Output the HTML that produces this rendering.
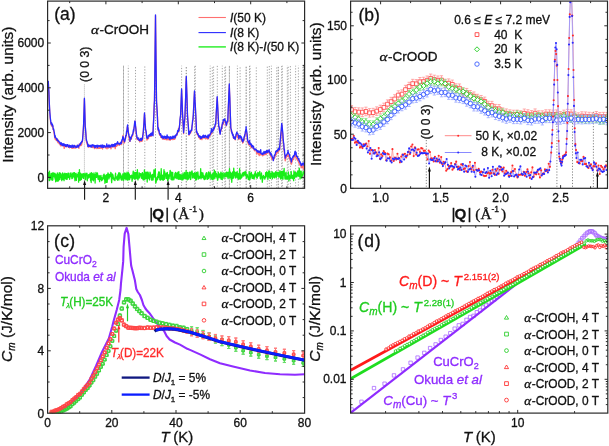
<!DOCTYPE html>
<html><head><meta charset="utf-8"><style>
html,body{margin:0;padding:0;background:#fff;width:609px;height:446px;overflow:hidden}
svg{will-change:transform;display:block;font-family:"Liberation Sans",sans-serif}
text{stroke-width:0.3px}
</style></head><body>
<svg width="609" height="446" viewBox="0 0 609 446">
<rect width="609" height="446" fill="#fff"/>
<clipPath id="ca"><rect x="47.6" y="1.1" width="257.0" height="187.20000000000002"/></clipPath>
<line x1="123.5" y1="65.7" x2="123.5" y2="188.3" stroke="#999" stroke-width="0.9" stroke-dasharray="1.2 1.65" stroke-dashoffset="0.00"/>
<line x1="128.3" y1="65.7" x2="128.3" y2="188.3" stroke="#999" stroke-width="0.9" stroke-dasharray="1.2 1.65" stroke-dashoffset="0.70"/>
<line x1="135.5" y1="65.7" x2="135.5" y2="188.3" stroke="#999" stroke-width="0.9" stroke-dasharray="1.2 1.65" stroke-dashoffset="1.40"/>
<line x1="144.8" y1="65.7" x2="144.8" y2="188.3" stroke="#999" stroke-width="0.9" stroke-dasharray="1.2 1.65" stroke-dashoffset="2.10"/>
<line x1="155.5" y1="65.7" x2="155.5" y2="188.3" stroke="#999" stroke-width="0.9" stroke-dasharray="1.2 1.65" stroke-dashoffset="2.80"/>
<line x1="181.6" y1="65.7" x2="181.6" y2="188.3" stroke="#999" stroke-width="0.9" stroke-dasharray="1.2 1.65" stroke-dashoffset="0.65"/>
<line x1="186.3" y1="65.7" x2="186.3" y2="188.3" stroke="#999" stroke-width="0.9" stroke-dasharray="1.2 1.65" stroke-dashoffset="1.35"/>
<line x1="194.6" y1="65.7" x2="194.6" y2="188.3" stroke="#999" stroke-width="0.9" stroke-dasharray="1.2 1.65" stroke-dashoffset="2.05"/>
<line x1="195.3" y1="65.7" x2="195.3" y2="188.3" stroke="#999" stroke-width="0.9" stroke-dasharray="1.2 1.65" stroke-dashoffset="2.75"/>
<line x1="210.2" y1="65.7" x2="210.2" y2="188.3" stroke="#999" stroke-width="0.9" stroke-dasharray="1.2 1.65" stroke-dashoffset="0.60"/>
<line x1="212.3" y1="65.7" x2="212.3" y2="188.3" stroke="#999" stroke-width="0.9" stroke-dasharray="1.2 1.65" stroke-dashoffset="1.30"/>
<line x1="213.6" y1="65.7" x2="213.6" y2="188.3" stroke="#999" stroke-width="0.9" stroke-dasharray="1.2 1.65" stroke-dashoffset="2.00"/>
<line x1="217.3" y1="65.7" x2="217.3" y2="188.3" stroke="#999" stroke-width="0.9" stroke-dasharray="1.2 1.65" stroke-dashoffset="2.70"/>
<line x1="222.3" y1="65.7" x2="222.3" y2="188.3" stroke="#999" stroke-width="0.9" stroke-dasharray="1.2 1.65" stroke-dashoffset="0.55"/>
<line x1="224.8" y1="65.7" x2="224.8" y2="188.3" stroke="#999" stroke-width="0.9" stroke-dasharray="1.2 1.65" stroke-dashoffset="1.25"/>
<line x1="225.6" y1="65.7" x2="225.6" y2="188.3" stroke="#999" stroke-width="0.9" stroke-dasharray="1.2 1.65" stroke-dashoffset="1.95"/>
<line x1="229.4" y1="65.7" x2="229.4" y2="188.3" stroke="#999" stroke-width="0.9" stroke-dasharray="1.2 1.65" stroke-dashoffset="2.65"/>
<line x1="237.4" y1="65.7" x2="237.4" y2="188.3" stroke="#999" stroke-width="0.9" stroke-dasharray="1.2 1.65" stroke-dashoffset="0.50"/>
<line x1="240.1" y1="65.7" x2="240.1" y2="188.3" stroke="#999" stroke-width="0.9" stroke-dasharray="1.2 1.65" stroke-dashoffset="1.20"/>
<line x1="246.2" y1="65.7" x2="246.2" y2="188.3" stroke="#999" stroke-width="0.9" stroke-dasharray="1.2 1.65" stroke-dashoffset="1.90"/>
<line x1="249.5" y1="65.7" x2="249.5" y2="188.3" stroke="#999" stroke-width="0.9" stroke-dasharray="1.2 1.65" stroke-dashoffset="2.60"/>
<line x1="250.1" y1="65.7" x2="250.1" y2="188.3" stroke="#999" stroke-width="0.9" stroke-dasharray="1.2 1.65" stroke-dashoffset="0.45"/>
<line x1="256.3" y1="65.7" x2="256.3" y2="188.3" stroke="#999" stroke-width="0.9" stroke-dasharray="1.2 1.65" stroke-dashoffset="1.15"/>
<line x1="267.3" y1="65.7" x2="267.3" y2="188.3" stroke="#999" stroke-width="0.9" stroke-dasharray="1.2 1.65" stroke-dashoffset="1.85"/>
<line x1="269.3" y1="65.7" x2="269.3" y2="188.3" stroke="#999" stroke-width="0.9" stroke-dasharray="1.2 1.65" stroke-dashoffset="2.55"/>
<line x1="271.4" y1="65.7" x2="271.4" y2="188.3" stroke="#999" stroke-width="0.9" stroke-dasharray="1.2 1.65" stroke-dashoffset="0.40"/>
<line x1="276.7" y1="65.7" x2="276.7" y2="188.3" stroke="#999" stroke-width="0.9" stroke-dasharray="1.2 1.65" stroke-dashoffset="1.10"/>
<line x1="278.3" y1="65.7" x2="278.3" y2="188.3" stroke="#999" stroke-width="0.9" stroke-dasharray="1.2 1.65" stroke-dashoffset="1.80"/>
<line x1="281.7" y1="65.7" x2="281.7" y2="188.3" stroke="#999" stroke-width="0.9" stroke-dasharray="1.2 1.65" stroke-dashoffset="2.50"/>
<line x1="282.3" y1="65.7" x2="282.3" y2="188.3" stroke="#999" stroke-width="0.9" stroke-dasharray="1.2 1.65" stroke-dashoffset="0.35"/>
<line x1="287.3" y1="65.7" x2="287.3" y2="188.3" stroke="#999" stroke-width="0.9" stroke-dasharray="1.2 1.65" stroke-dashoffset="1.05"/>
<line x1="288.2" y1="65.7" x2="288.2" y2="188.3" stroke="#999" stroke-width="0.9" stroke-dasharray="1.2 1.65" stroke-dashoffset="1.75"/>
<line x1="290.4" y1="65.7" x2="290.4" y2="188.3" stroke="#999" stroke-width="0.9" stroke-dasharray="1.2 1.65" stroke-dashoffset="2.45"/>
<line x1="295.6" y1="65.7" x2="295.6" y2="188.3" stroke="#999" stroke-width="0.9" stroke-dasharray="1.2 1.65" stroke-dashoffset="0.30"/>
<line x1="298.4" y1="65.7" x2="298.4" y2="188.3" stroke="#999" stroke-width="0.9" stroke-dasharray="1.2 1.65" stroke-dashoffset="1.00"/>
<line x1="303" y1="65.7" x2="303" y2="188.3" stroke="#999" stroke-width="0.9" stroke-dasharray="1.2 1.65" stroke-dashoffset="1.70"/>
<line x1="303.6" y1="65.7" x2="303.6" y2="188.3" stroke="#999" stroke-width="0.9" stroke-dasharray="1.2 1.65" stroke-dashoffset="2.40"/>
<line x1="123.5" y1="65.7" x2="123.5" y2="188.3" stroke="#999" stroke-width="0.9" stroke-dasharray="1.2 1.65" stroke-dashoffset="1.4"/>
<line x1="186.3" y1="65.7" x2="186.3" y2="188.3" stroke="#999" stroke-width="0.9" stroke-dasharray="1.2 1.65" stroke-dashoffset="1.4"/>
<line x1="229.4" y1="65.7" x2="229.4" y2="188.3" stroke="#999" stroke-width="0.9" stroke-dasharray="1.2 1.65" stroke-dashoffset="1.4"/>
<line x1="246.2" y1="65.7" x2="246.2" y2="188.3" stroke="#999" stroke-width="0.9" stroke-dasharray="1.2 1.65" stroke-dashoffset="1.4"/>
<line x1="278.3" y1="65.7" x2="278.3" y2="188.3" stroke="#999" stroke-width="0.9" stroke-dasharray="1.2 1.65" stroke-dashoffset="1.4"/>
<line x1="303.3" y1="65.7" x2="303.3" y2="188.3" stroke="#999" stroke-width="0.9" stroke-dasharray="1.2 1.65" stroke-dashoffset="1.4"/>
<line x1="84.4" y1="84.4" x2="84.4" y2="188.3" stroke="#9a9a9a" stroke-width="0.8" stroke-dasharray="1 1"/>
<g clip-path="url(#ca)">
<polyline points="47.6,82.4 47.7,81.69 48,81.95 48.3,82.2 48.6,88.4 48.9,92.68 49,95.9 49.2,99.52 49.5,107.81 49.8,112.9 49.8,112.9 50.1,117.07 50.4,119.86 50.7,123.15 50.7,122.86 51,124.03 51.3,125.05 51.5,125.95 51.6,125.57 51.9,125.86 52.2,125.33 52.5,125.76 52.5,126.89 52.8,126.15 53.1,129.51 53.4,129.83 53.5,129.92 53.7,130.58 54,132.79 54.3,134.64 54.6,136.69 54.9,137.81 55,138.84 55.2,139.2 55.5,139.08 55.8,139.76 56.1,138.72 56.4,140.57 56.7,138.96 57,140.17 57,139.86 57.3,140.32 57.6,141.42 57.9,142.7 58.2,140.22 58.5,140.49 58.8,142.26 59.1,143.69 59.4,143.18 59.7,143.06 60,144.08 60,144.1 60.3,144.98 60.6,145.85 60.9,144.13 61.2,145.39 61.5,144.78 61.8,144.54 62.1,145.91 62.4,144.78 62.7,145.6 63,145.83 63.3,145.21 63.6,145.98 63.9,145.78 64.2,148.4 64.5,145.91 64.8,145.66 65,145.71 65.1,146.47 65.4,145.95 65.7,145.1 66,146.99 66.3,145.71 66.6,145.81 66.9,146.37 67.2,145.56 67.5,146.22 67.8,146.54 68.1,145.9 68.4,147.2 68.7,146.74 69,145.93 69.3,146.17 69.6,147.91 69.9,146.51 70,147.47 70.2,146.7 70.5,146.56 70.8,146.51 71.1,146.88 71.4,146.86 71.7,147.88 72,148.36 72.3,145.88 72.6,147.76 72.9,148.3 73.2,148.11 73.5,148.03 73.8,146.11 74.1,145.89 74.4,147.13 74.7,148.1 75,145.93 75.3,146.11 75.6,147.49 75.9,148.17 76.2,146.13 76.5,147.21 76.8,145.96 77.1,146.12 77.4,146.11 77.7,146.51 78,146.13 78,147.07 78.3,146.64 78.6,146.04 78.9,148.47 79.2,143.93 79.5,144.91 79.8,144.66 80.1,145.71 80.4,144.58 80.5,145.1 80.7,144.44 81,145.54 81.3,144.59 81.6,144.82 81.9,142.98 82.2,142.36 82.5,140.72 82.5,140.89 82.8,136.6 83.1,132.62 83.4,128.72 83.6,124.79 83.7,122.36 84,113.63 84.3,103.48 84.4,99.1 84.6,105.18 84.9,114.87 85.2,126.32 85.2,126.66 85.5,130.6 85.8,133.05 86.1,136.89 86.3,139.94 86.4,141.61 86.7,142.91 87,142.07 87.3,144.72 87.6,144.93 87.9,144.4 88,145.93 88.2,144.92 88.5,147.14 88.8,145.61 89.1,146.99 89.4,145.37 89.7,146.57 90,146.05 90.3,146.12 90.6,146.24 90.9,146.52 91.2,146.36 91.5,145.77 91.8,147.38 92.1,146.82 92.4,147.21 92.7,146 93,147.62 93.3,147.08 93.6,147.67 93.9,146.56 94.2,147.45 94.5,146.6 94.8,148.54 95,147.93 95.1,148.32 95.4,146.78 95.7,146.14 96,147.06 96.3,146.99 96.6,148.06 96.9,148.61 97.2,147.58 97.5,148.19 97.8,147.46 98.1,147.87 98.4,147.03 98.7,148.47 99,146.56 99.3,147.82 99.6,148.44 99.9,146.57 100.2,146.6 100.5,147.75 100.8,148.25 101.1,148.15 101.4,146.99 101.7,146.1 102,148.03 102.3,146.78 102.6,149 102.9,146.82 103.2,147.5 103.5,147.09 103.8,146.64 104.1,145.99 104.4,146.93 104.7,146.43 105,147.59 105.3,146.71 105.6,147.47 105.9,148.19 106.2,146.01 106.5,146.6 106.8,147.07 107.1,148.83 107.4,147.16 107.7,147.36 108,146.13 108.3,147.36 108.6,148.07 108.9,146.5 109.2,147.18 109.5,147.3 109.8,146.42 110,145.78 110.1,147.54 110.4,147.44 110.7,146.15 111,148.97 111.3,147.34 111.6,146.15 111.9,146.63 112.2,146.08 112.5,145.39 112.8,145.3 113.1,147.01 113.4,145.4 113.7,145.94 114,146.92 114.3,146.28 114.6,145.72 114.9,145.99 115,145.13 115.2,148.63 115.5,146.88 115.8,145.74 116.1,145.84 116.4,145.87 116.7,146.21 117,145.43 117.3,143.76 117.6,145.36 117.9,144.89 118.2,143.92 118.5,143.4 118.8,144.88 119.1,144.56 119.4,145.29 119.7,144.92 120,142.89 120.3,143.25 120.6,143.93 120.9,143.26 121.2,144.12 121.5,144.43 121.5,144.61 121.8,143.1 122.1,142.26 122.4,141.38 122.7,140.09 123,135.37 123,138.94 123.3,139.03 123.6,140.71 123.9,142.38 124.2,140.94 124.5,142.94 124.5,141.55 124.8,140.98 125.1,137.87 125.4,138.56 125.7,137.99 126,135.66 126.3,135.91 126.3,134.96 126.6,133.65 126.9,132.59 127.2,127.84 127.5,126.3 127.6,127.86 127.8,127.64 128.1,129.79 128.4,131.87 128.7,135.39 128.8,135.36 129,137.88 129.3,139.18 129.6,141.15 129.9,140.08 130,141.37 130.2,138.92 130.5,138.65 130.8,139.25 131.1,138.73 131.4,139.14 131.7,137.08 132,136.51 132,136.59 132.3,136.24 132.6,136.06 132.9,133.67 133.2,133.02 133.5,132.62 133.5,132.78 133.8,129.54 134.1,127.41 134.4,126.5 134.7,123.52 135,121.2 135,121.62 135.3,125.5 135.6,126.57 135.9,128.83 136.2,133.57 136.2,131.85 136.5,136.04 136.8,138.38 137,138.77 137.1,139.57 137.4,138.83 137.7,139.1 138,138.54 138.3,138.75 138.6,140.35 138.9,138.99 139.2,140.74 139.5,139.3 139.8,141.98 140,141.06 140.1,141.59 140.4,141.49 140.7,139.81 141,139.41 141.3,138.13 141.6,141.28 141.9,140.05 142.2,140.88 142.5,140.27 142.5,140.87 142.8,137.17 143.1,132.89 143.4,131.15 143.6,128.14 143.7,127.14 144,121.13 144.3,117.19 144.5,113.9 144.6,115.7 144.9,120.37 145.2,125.84 145.4,128.51 145.5,129.1 145.8,130.32 146.1,132.4 146.4,135.74 146.7,138.29 147,140.02 147,138.69 147.3,139.65 147.6,138.26 147.9,137.76 148.2,138.79 148.5,138.53 148.8,136.05 149.1,136.27 149.4,135.53 149.7,136.02 150,136.53 150,135.35 150.3,135.18 150.6,134.4 150.9,135.98 151.2,136.34 151.5,135.88 151.8,133.82 152.1,134.4 152.4,134.41 152.7,135.02 153,133.8 153,134.7 153.3,126.63 153.6,119.43 153.9,114.18 154.2,104.45 154.5,100.9 154.5,100.9 154.8,76.1 155.1,50.99 155.4,24.36 155.5,15.7 155.7,32.06 156,59.35 156.3,84.13 156.5,100.9 156.6,102.64 156.9,108.81 157.2,114.55 157.5,116.25 157.8,125.97 158,127.95 158.1,129.99 158.4,131.09 158.7,130.66 159,130.98 159.3,134.27 159.5,133.82 159.6,135.17 159.9,134.81 160.2,135.07 160.5,134.68 160.8,137.26 161.1,136.22 161.4,136.82 161.7,137.3 162,137 162,137.96 162.3,138.85 162.6,139.1 162.9,136.79 163.2,138.18 163.5,137.52 163.8,139.2 164.1,138.6 164.4,138.24 164.7,139.43 165,137.48 165.3,137.48 165.6,139.2 165.9,137.79 166.2,139.58 166.5,138.18 166.8,137.54 167.1,139.79 167.4,137.87 167.7,137.52 168,139.28 168.3,139.03 168.6,137.44 168.9,139.96 169.2,138.2 169.5,138.23 169.8,137.7 170,140.09 170.1,139.93 170.4,140.1 170.7,139.14 171,137.54 171.3,137.8 171.6,139.42 171.9,137.35 172.2,138.55 172.5,137.38 172.8,139.61 173.1,137.32 173.4,137.25 173.7,139.24 174,137.3 174.3,139.33 174.6,137.32 174.9,139.09 175,138.43 175.2,136.26 175.5,137.55 175.8,136.48 176.1,135.8 176.4,135.19 176.7,133.72 177,135.03 177,133.07 177.3,134.26 177.6,132.24 177.9,131.16 178.2,131.56 178.5,128.32 178.8,132.03 179,130.47 179.1,128.43 179.4,126.62 179.7,124.32 180,121.35 180.3,118.15 180.6,115.9 180.6,115.9 180.9,108.36 181.2,101.43 181.5,93.37 181.6,89.9 181.8,96.34 182.1,101.92 182.4,111.3 182.6,115.9 182.7,117.96 183,123.83 183.3,127.6 183.6,133.67 183.6,132.77 183.9,129.41 184.2,125.31 184.5,124.08 184.8,119.55 185,115.9 185.1,112.19 185.4,105.02 185.7,96.07 186,85.85 186.3,77.3 186.3,77.3 186.6,86.96 186.9,96.27 187.2,107.23 187.5,115.9 187.5,115.9 187.8,119.25 188.1,124.1 188.4,127.77 188.7,132.51 188.8,133.18 189,135.25 189.3,134.41 189.6,134.31 189.9,132.92 190.2,131.72 190.5,132.03 190.8,133 191.1,130.82 191.4,131.52 191.7,129.67 191.7,129.62 192,127.27 192.3,124.99 192.6,122.29 192.9,120.07 193.2,115.79 193.3,115.9 193.5,112.36 193.8,105.67 194.1,101.05 194.4,92.44 194.5,91.7 194.7,95.22 195,101.86 195.3,106.38 195.6,113.18 195.8,115.9 195.9,117.9 196.2,123.72 196.5,130.82 196.5,131.82 196.8,132.64 197.1,134.43 197.4,133.89 197.7,133.94 198,134.15 198,135.41 198.3,136.23 198.6,136.89 198.9,137.65 199.2,137.17 199.5,138.18 199.8,136.66 200.1,139.24 200.4,139.45 200.5,139.36 200.7,137.96 201,138.96 201.3,137.67 201.6,137.51 201.9,139.58 202.2,137.21 202.5,136.99 202.8,137.67 203.1,138.39 203.4,136.76 203.7,137.41 204,137 204,136.68 204.3,136.18 204.6,135.91 204.9,138.46 205.2,136.77 205.5,138.83 205.8,138.93 206.1,136.88 206.4,137.37 206.7,138.08 207,138 207.3,137.95 207.6,139.02 207.9,138.13 208.1,139.04 208.2,136.97 208.5,137.66 208.8,138.03 209.1,136.61 209.4,136.86 209.7,136.44 210,134.63 210.3,133.93 210.6,134.82 210.9,132.98 211.1,134.18 211.2,133.07 211.5,133.63 211.8,131.82 212.1,132.04 212.4,130.5 212.7,129.98 213,129.57 213.3,130.31 213.6,129.18 213.9,129.85 214.1,128.48 214.2,127.77 214.5,126.91 214.8,127.34 215.1,126.64 215.4,125.39 215.7,123.37 215.7,123.59 216,119.66 216.3,112.32 216.6,107.67 216.9,103.65 217.2,97.5 217.2,97.5 217.5,102.03 217.8,110.23 218.1,115.7 218.4,120.19 218.7,126.29 218.7,125.92 219,127.12 219.3,130.2 219.6,130.2 219.9,132.57 220,134 220.2,133.42 220.5,130.74 220.8,131.37 221.1,130.48 221.4,129.1 221.7,128.37 221.7,127.16 222,127.88 222.3,124.38 222.6,125.18 222.9,123.11 223.2,122.29 223.2,124.34 223.5,123 223.8,120.75 224.1,119.76 224.4,120.11 224.7,120 224.7,120 225,121.08 225.3,121.99 225.6,123.54 225.9,124.48 226.2,125.88 226.2,125.62 226.5,125.26 226.8,121.94 227.1,122.51 227.4,122.3 227.7,122.58 227.8,122.04 228,116.4 228.3,109.71 228.6,101.57 228.9,93.89 229.2,88.35 229.3,84.8 229.5,90.76 229.8,99.62 230.1,108.49 230.4,116.18 230.7,126.93 230.8,128.23 231,128.46 231.3,131.68 231.6,130.52 231.9,132.16 232.2,133.12 232.5,133.65 232.8,134.51 233.1,135.37 233.3,136.4 233.4,137.94 233.7,138.3 234,138.24 234.3,138.65 234.6,138.27 234.9,138.8 235.2,139.54 235.3,139.94 235.5,137.99 235.8,136.73 236.1,136.33 236.4,135.41 236.7,132.51 236.8,133.1 237,134.33 237.3,134.7 237.6,137.8 237.9,135.16 238.2,135.93 238.5,136.9 238.8,138.48 238.8,139.57 239.1,138.72 239.4,137.22 239.7,136.98 240,137.96 240.3,136.38 240.4,137.3 240.6,137.77 240.9,137.59 241.2,139.36 241.5,140.66 241.8,141.21 242.1,141.36 242.4,140.47 242.7,143.06 242.9,142.67 243,141.62 243.3,142.43 243.6,139.66 243.9,140.65 244.2,138.52 244.4,139.58 244.5,136.65 244.8,135.75 245.1,135.77 245.4,131.77 245.7,130.5 246,130.62 246.1,129.96 246.3,129.92 246.6,132.82 246.9,134.72 247.2,136.73 247.5,140.66 247.8,142.64 247.9,141.92 248.1,141.92 248.4,144.24 248.7,143.7 249,145.05 249.3,143.74 249.6,143.88 249.9,144.53 250.2,144.37 250.4,145.38 250.5,146.14 250.8,145.39 251.1,147.95 251.4,145.78 251.7,145.93 252,147.35 252.3,147.1 252.6,147.8 252.9,147.97 253.2,148.38 253.5,147.87 253.5,148.67 253.8,149.03 254.1,148.93 254.4,150.74 254.7,149.76 255,149.96 255.3,149.48 255.6,149.55 255.9,149.97 256,150.28 256.2,151.21 256.5,152.31 256.8,154.17 257.1,152.4 257.4,151.95 257.7,151.37 258,152.79 258.3,153.89 258.6,154.26 258.6,152.8 258.9,152.6 259.2,155.61 259.5,153.92 259.8,153.25 260.1,154.74 260.4,154.9 260.7,153.05 261,154.52 261.3,153.79 261.6,153.67 261.9,154.6 262.2,155.29 262.3,155.47 262.5,155.74 262.8,154.01 263.1,155.63 263.4,154.2 263.7,154.89 264,153.84 264.3,154.88 264.6,152.95 264.9,154.55 265.2,153.59 265.4,153.59 265.5,152.7 265.8,153.91 266.1,154.72 266.4,153.36 266.7,153.65 267,153.28 267.3,153.18 267.6,152.32 267.9,152.5 268.2,151.83 268.5,152.7 268.8,151.99 269.1,151.72 269.1,150.75 269.4,153.59 269.7,154.31 270,154.11 270.3,155.09 270.6,155.18 270.9,156.49 271,156.78 271.2,155.96 271.5,157.51 271.8,159.14 272.1,157.76 272.4,157.77 272.7,158.42 273,159.23 273.3,160.16 273.4,160.45 273.6,160.2 273.9,157.74 274.2,158.17 274.5,157.99 274.8,157.77 275.1,155.9 275.4,155.86 275.7,154.51 275.9,152.83 276,154.65 276.3,154.64 276.6,151.33 276.9,151.6 277.2,152.2 277.5,150.91 277.8,152.79 277.8,150.8 278.1,151.04 278.4,149.99 278.7,151.3 279,150.16 279.3,150.36 279.6,149.92 279.6,150.12 279.9,146.37 280.2,142.98 280.5,141.12 280.8,137.38 281.1,134.11 281.4,130.83 281.7,126.14 281.8,124.93 282,126.41 282.3,129.79 282.6,134.59 282.9,138.28 283.2,141.75 283.3,142.36 283.5,144.58 283.8,146.3 284.1,150.8 284.4,152.64 284.7,155.8 285,158.55 285.2,160.77 285.3,158.98 285.6,160.02 285.9,157.75 286.2,156.76 286.5,157.13 286.8,155.19 287.1,155.56 287.4,156.31 287.7,154.59 288,153.33 288,154.45 288.3,155.79 288.6,156.91 288.9,156.99 289.2,156.77 289.5,158.58 289.8,159.21 290.1,159.8 290.4,161.53 290.7,162.14 291,161.9 291.3,163.58 291.3,164.16 291.6,164.04 291.9,161.62 292.2,161.56 292.5,160.41 292.8,159.63 293.1,159.05 293.4,158.27 293.7,159.31 294,156.36 294.3,157.03 294.6,156.47 294.9,154.42 295,155.3 295.2,155.31 295.5,154.91 295.8,156.25 296.1,158.31 296.4,156.81 296.7,157.26 297,159.4 297.3,158.68 297.6,160.56 297.9,160.59 298.2,160.26 298.5,161.71 298.7,162.57 298.8,161.62 299.1,163.37 299.4,163.88 299.7,164.42 300,165.41 300.3,164.28 300.6,164.95 300.9,166.02 301.2,167.81 301.2,166.56 301.5,167.03 301.8,166.72 302.1,167.23 302.4,165.95 302.7,167.77 303,165.66 303.3,167.6 303.6,168.98 303.7,165.87 303.9,167.63 304.2,167.46 304.6,169.32" fill="none" stroke="#ff7070" stroke-width="1.3" stroke-linejoin="round" />
<polyline points="47.6,81.5 47.7,81.79 48,82.15 48.3,81.3 48.6,87.8 48.9,91.82 49,95 49.2,100.4 49.5,106.67 49.8,112 49.8,112 50.1,115.22 50.4,118.71 50.7,120.63 50.7,121.33 51,123.38 51.3,124.25 51.5,124.31 51.6,122.8 51.9,123.64 52.2,125.95 52.5,124.45 52.5,125.1 52.8,125.43 53.1,127.9 53.4,129.62 53.5,128.64 53.7,129.15 54,131.15 54.3,131.98 54.6,134.45 54.9,137.29 55,136.52 55.2,135.64 55.5,137.25 55.8,138.13 56.1,138.05 56.4,138.63 56.7,139.45 57,138.51 57,140.33 57.3,139.93 57.6,139.65 57.9,140.93 58.2,140.75 58.5,141.33 58.8,141.14 59.1,141.94 59.4,142.12 59.7,142.04 60,143 60,143.83 60.3,143.11 60.6,144.29 60.9,144.09 61.2,142.71 61.5,143.63 61.8,144.54 62.1,145.5 62.4,145.15 62.7,143.71 63,144.75 63.3,145.72 63.6,143.93 63.9,143.76 64.2,144.08 64.5,145.43 64.8,145.29 65,145.79 65.1,144.73 65.4,146.42 65.7,146.26 66,144.65 66.3,146.49 66.6,145.57 66.9,145.77 67.2,144.56 67.5,145.37 67.8,144.59 68.1,146.01 68.4,146.78 68.7,147.22 69,147.21 69.3,145.24 69.6,146.06 69.9,145.73 70,145.65 70.2,146.65 70.5,145.61 70.8,147.34 71.1,147.3 71.4,147.15 71.7,145.85 72,145.27 72.3,145.42 72.6,147.12 72.9,145.1 73.2,145.98 73.5,147.33 73.8,147.33 74.1,146.34 74.4,145.6 74.7,145.41 75,146.52 75.3,146.87 75.6,146.77 75.9,147.45 76.2,147.22 76.5,147.42 76.8,146.33 77.1,145.81 77.4,145.09 77.7,146.77 78,145.81 78,147.13 78.3,146.49 78.6,147 78.9,145.07 79.2,145.42 79.5,144.64 79.8,144.01 80.1,144.94 80.4,144.48 80.5,144.2 80.7,143.27 81,142.31 81.3,143.12 81.6,141.57 81.9,141.45 82.2,141.65 82.5,139.82 82.5,139.98 82.8,136.45 83.1,132.74 83.4,127.97 83.6,124.48 83.7,120.4 84,111.1 84.3,101.92 84.4,98.2 84.6,103.7 84.9,114.67 85.2,125.16 85.2,126.25 85.5,128.19 85.8,132.64 86.1,137.21 86.3,140.27 86.4,139.3 86.7,140.66 87,141.63 87.3,143.02 87.6,143.46 87.9,146.61 88,145.48 88.2,145.53 88.5,144.92 88.8,145.42 89.1,146.41 89.4,146.23 89.7,145.3 90,146 90.3,145.4 90.6,146.75 90.9,146.01 91.2,145.19 91.5,146.26 91.8,147.04 92.1,145.69 92.4,144.77 92.7,145.4 93,144.94 93.3,145.7 93.6,145.08 93.9,146.23 94.2,145.35 94.5,147.24 94.8,147.48 95,147.04 95.1,145.67 95.4,147.27 95.7,145.73 96,146.88 96.3,145.88 96.6,145.45 96.9,145.38 97.2,146.69 97.5,147.56 97.8,145.25 98.1,145.49 98.4,146.4 98.7,146.52 99,145.75 99.3,145.72 99.6,146.39 99.9,145.65 100.2,146.94 100.5,146.87 100.8,145.23 101.1,145.23 101.4,146.53 101.7,147.26 102,145.81 102.3,145.03 102.6,145.09 102.9,147.41 103.2,145.51 103.5,147.45 103.8,147.04 104.1,146.52 104.4,145.5 104.7,146.47 105,145.87 105.3,147.02 105.6,146.94 105.9,147.05 106.2,146.37 106.5,146.74 106.8,143.82 107.1,146.07 107.4,146.51 107.7,145.89 108,147.2 108.3,145.6 108.6,145.24 108.9,144.92 109.2,146.99 109.5,146.15 109.8,146.83 110,145.03 110.1,146.64 110.4,146.34 110.7,147.02 111,146.24 111.3,146.19 111.6,144.8 111.9,144.38 112.2,144.46 112.5,146.73 112.8,144.95 113.1,144.82 113.4,145.89 113.7,144.59 114,146.35 114.3,144.96 114.6,143.8 114.9,145.75 115,143.82 115.2,146.2 115.5,144.43 115.8,143.59 116.1,144.57 116.4,143.32 116.7,143.2 117,143.12 117.3,143.91 117.6,141.66 117.9,143.95 118.2,143.9 118.5,143.22 118.8,143.71 119.1,143.74 119.4,144.22 119.7,143.45 120,143.48 120.3,144.12 120.6,142.8 120.9,142.1 121.2,142.22 121.5,143.31 121.5,142.11 121.8,140.49 122.1,139.48 122.4,139.74 122.7,137.38 123,136.32 123,136.94 123.3,137.16 123.6,138.42 123.9,139.75 124.2,140.7 124.5,141.19 124.5,141.82 124.8,141.18 125.1,139.52 125.4,138.81 125.7,136.04 126,135.14 126.3,135.46 126.3,133.87 126.6,130.89 126.9,131.65 127.2,128.07 127.5,125.34 127.6,124.93 127.8,127.05 128.1,130 128.4,133.22 128.7,134.52 128.8,134.07 129,135.66 129.3,136.65 129.6,137.63 129.9,137.09 130,141.22 130.2,138.57 130.5,137.75 130.8,138.6 131.1,138.79 131.4,136.46 131.7,135.82 132,135.63 132,135.33 132.3,134.35 132.6,134.88 132.9,133.31 133.2,131.07 133.5,129.5 133.5,131.66 133.8,130.03 134.1,127.54 134.4,124.74 134.7,121.7 135,121.19 135,120.97 135.3,122.61 135.6,126.39 135.9,129.29 136.2,131.87 136.2,132.21 136.5,134.4 136.8,135.58 137,137.85 137.1,136.97 137.4,137.89 137.7,139.14 138,138.16 138.3,138.28 138.6,137.95 138.9,139.71 139.2,140.5 139.5,140.55 139.8,140.16 140,140.04 140.1,139.28 140.4,139.95 140.7,138.43 141,138.76 141.3,140.52 141.6,139.66 141.9,138.22 142.2,139.26 142.5,138.67 142.5,138.25 142.8,135.4 143.1,134.03 143.4,130.35 143.6,127.28 143.7,126.5 144,122.32 144.3,116.12 144.5,113 144.6,114.74 144.9,119.15 145.2,124.94 145.4,125.83 145.5,128.77 145.8,130.33 146.1,131.34 146.4,133.81 146.7,137.3 147,138.05 147,137.19 147.3,137.4 147.6,138.42 147.9,137.87 148.2,135.5 148.5,135.49 148.8,135.86 149.1,136.09 149.4,135.14 149.7,134.48 150,135.13 150,135.96 150.3,134.45 150.6,133.81 150.9,133.55 151.2,135.47 151.5,133.34 151.8,134.87 152.1,132.31 152.4,132.99 152.7,133.18 153,135.75 153,133.65 153.3,125.99 153.6,120.85 153.9,113.89 154.2,105.59 154.5,100 154.5,100 154.8,75.59 155.1,48.7 155.4,24.58 155.5,14.8 155.7,32.41 156,58.62 156.3,82.78 156.5,100 156.6,102.76 156.9,106.8 157.2,112.1 157.5,119.49 157.8,127.22 158,128.96 158.1,129.56 158.4,127.98 158.7,130.59 159,129.78 159.3,133.06 159.5,133.24 159.6,133.54 159.9,134.41 160.2,134.96 160.5,133.57 160.8,134.17 161.1,135.36 161.4,137.32 161.7,136.32 162,136.92 162,137.43 162.3,136.18 162.6,135.97 162.9,138.15 163.2,138.51 163.5,137.44 163.8,136.54 164.1,136.43 164.4,136.22 164.7,137.74 165,136.63 165.3,138.44 165.6,137.6 165.9,136.46 166.2,137.01 166.5,137.69 166.8,138.56 167.1,134.82 167.4,136.72 167.7,136.74 168,137.76 168.3,137.5 168.6,137.53 168.9,136.62 169.2,137.77 169.5,139.04 169.8,138.05 170,139.14 170.1,139.25 170.4,137.05 170.7,136.76 171,138.41 171.3,137.45 171.6,137.16 171.9,138.48 172.2,137.17 172.5,137.67 172.8,136.18 173.1,138.38 173.4,136.91 173.7,137.22 174,136.22 174.3,135.9 174.6,136.21 174.9,137.55 175,137.98 175.2,137.47 175.5,136.17 175.8,135.02 176.1,134.69 176.4,134.49 176.7,135.13 177,133.57 177,133.29 177.3,133.64 177.6,130.82 177.9,130.37 178.2,130.8 178.5,131.39 178.8,128.73 179,130.39 179.1,129.26 179.4,126.97 179.7,124.2 180,119.54 180.3,117.1 180.6,115 180.6,115 180.9,106.43 181.2,99.02 181.5,91.41 181.6,89 181.8,94.59 182.1,101.06 182.4,110.29 182.6,115 182.7,116.87 183,120.8 183.3,126.74 183.6,132.84 183.6,132.22 183.9,128.94 184.2,124.06 184.5,120.37 184.8,118.41 185,115 185.1,112.37 185.4,104.31 185.7,94.92 186,84.28 186.3,76.4 186.3,76.4 186.6,86.95 186.9,94.53 187.2,105.05 187.5,115 187.5,115 187.8,119.85 188.1,123.3 188.4,126.76 188.7,132.64 188.8,134.46 189,132.74 189.3,134.05 189.6,133.56 189.9,131.14 190.2,132.88 190.5,131.92 190.8,130.73 191.1,130.41 191.4,129.7 191.7,128.95 191.7,130.43 192,126.19 192.3,124.26 192.6,120.36 192.9,120 193.2,116.34 193.3,115 193.5,110.17 193.8,105.47 194.1,98.36 194.4,93.18 194.5,90.8 194.7,94.66 195,100.46 195.3,104.82 195.6,111.16 195.8,115 195.9,117.83 196.2,124.39 196.5,132.17 196.5,130.86 196.8,130.99 197.1,132.85 197.4,132.83 197.7,134.34 198,133.67 198,134.53 198.3,134.74 198.6,136.07 198.9,135.47 199.2,137.02 199.5,135.93 199.8,135.84 200.1,137 200.4,136.69 200.5,138.47 200.7,136.42 201,137.1 201.3,137.88 201.6,138.21 201.9,136.78 202.2,137.08 202.5,137.24 202.8,135.93 203.1,135.39 203.4,137.26 203.7,135.24 204,136.24 204,135.53 204.3,137.29 204.6,137.3 204.9,136.22 205.2,135.89 205.5,135.39 205.8,136.95 206.1,136.82 206.4,136.38 206.7,136.63 207,137.7 207.3,137.59 207.6,136.56 207.9,135.11 208.1,136.49 208.2,138.14 208.5,136.54 208.8,135 209.1,136.12 209.4,135 209.7,134.85 210,134.98 210.3,133.95 210.6,133.06 210.9,133.05 211.1,132.29 211.2,131.21 211.5,128.58 211.8,130.98 212.1,132.05 212.4,130.96 212.7,129.81 213,131.06 213.3,128.49 213.6,129.75 213.9,127.41 214.1,128 214.2,128.72 214.5,127.08 214.8,126.58 215.1,124.24 215.4,124.62 215.7,121.92 215.7,124.32 216,118.15 216.3,112.33 216.6,107.53 216.9,102.01 217.2,96.6 217.2,96.6 217.5,103.49 217.8,108.56 218.1,114.61 218.4,120.07 218.7,125.17 218.7,126.47 219,126.48 219.3,127.82 219.6,131.05 219.9,132.88 220,131.92 220.2,134.21 220.5,131.55 220.8,129.94 221.1,129.39 221.4,127.03 221.7,126.96 221.7,128.13 222,125.48 222.3,123.78 222.6,122.45 222.9,123.4 223.2,119.91 223.2,121.02 223.5,119.79 223.8,120.17 224.1,120.35 224.4,118.95 224.7,119.1 224.7,119.1 225,119.81 225.3,121 225.6,122.36 225.9,122.91 226.2,124.44 226.2,125.1 226.5,125.19 226.8,123.77 227.1,121.23 227.4,120.88 227.7,121.43 227.8,120.13 228,115.3 228.3,107.81 228.6,101.39 228.9,92.58 229.2,87.36 229.3,83.9 229.5,90.95 229.8,97.39 230.1,107.02 230.4,116.62 230.7,124.07 230.8,127.67 231,128.67 231.3,129.65 231.6,131.3 231.9,133.06 232.2,132.46 232.5,135.18 232.8,134.21 233.1,134.64 233.3,135.96 233.4,137.55 233.7,136.41 234,138.29 234.3,137.94 234.6,137.49 234.9,137.05 235.2,139.32 235.3,137.66 235.5,137.32 235.8,136.15 236.1,133.84 236.4,134.24 236.7,132.6 236.8,132.21 237,133.43 237.3,133.06 237.6,133.36 237.9,133.82 238.2,135.18 238.5,135.35 238.8,138.57 238.8,136.57 239.1,135.9 239.4,136.12 239.7,136.25 240,135.42 240.3,137.65 240.4,137.39 240.6,137.43 240.9,136.44 241.2,136.77 241.5,139.07 241.8,137.83 242.1,140.61 242.4,140.9 242.7,141.97 242.9,141 243,141.47 243.3,139.32 243.6,140.54 243.9,137.96 244.2,136.55 244.4,136.01 244.5,136.79 244.8,134.44 245.1,134.23 245.4,131.53 245.7,130.2 246,129.33 246.1,126.63 246.3,128.91 246.6,130.74 246.9,132.8 247.2,135.15 247.5,138.58 247.8,140.79 247.9,141.14 248.1,140.9 248.4,142.13 248.7,142.65 249,142.98 249.3,144.14 249.6,140.35 249.9,144.1 250.2,143.49 250.4,144.56 250.5,143.44 250.8,144.84 251.1,143.94 251.4,144.02 251.7,146.88 252,145.27 252.3,145.54 252.6,145.94 252.9,146.05 253.2,148.16 253.5,146.98 253.5,146.17 253.8,148.8 254.1,148.82 254.4,149.2 254.7,149.58 255,148.82 255.3,149.52 255.6,149.07 255.9,149.14 256,149.86 256.2,149.3 256.5,150.83 256.8,150.37 257.1,150.92 257.4,152.05 257.7,151.05 258,150.56 258.3,151.65 258.6,152.34 258.6,151.31 258.9,151.37 259.2,151.21 259.5,152.21 259.8,151.12 260.1,151.22 260.4,153.05 260.7,149.66 261,152.63 261.3,153.52 261.6,153.41 261.9,154.02 262.2,154.39 262.3,153.18 262.5,154.29 262.8,154.28 263.1,153.02 263.4,154 263.7,153.1 264,151.42 264.3,153.52 264.6,152.09 264.9,152.03 265.2,152.83 265.4,151.45 265.5,153.04 265.8,153.15 266.1,151.93 266.4,151.76 266.7,150.39 267,152.43 267.3,150.87 267.6,152.4 267.9,150.74 268.2,150.91 268.5,150.69 268.8,151.77 269.1,150.52 269.1,149.75 269.4,151.54 269.7,152.54 270,152.2 270.3,154.09 270.6,153.56 270.9,153.02 271,155.12 271.2,153.82 271.5,154.29 271.8,154.92 272.1,156.84 272.4,156.72 272.7,157.99 273,158.14 273.3,160.66 273.4,160 273.6,158.41 273.9,158.5 274.2,155.91 274.5,155.17 274.8,155.29 275.1,154.3 275.4,153.18 275.7,151.4 275.9,151.81 276,152.11 276.3,150.78 276.6,151.14 276.9,150.54 277.2,151.33 277.5,150.63 277.8,150.66 277.8,149.46 278.1,148.77 278.4,148.64 278.7,149.78 279,149.29 279.3,147.93 279.6,149.36 279.6,147.1 279.9,144.45 280.2,140.69 280.5,137.62 280.8,134.27 281.1,131.3 281.4,127.61 281.7,123.36 281.8,123.66 282,125.16 282.3,128.38 282.6,131.18 282.9,134.04 283.2,139.76 283.3,139.47 283.5,142.32 283.8,143.55 284.1,149.75 284.4,148.99 284.7,154.1 285,154.8 285.2,158.11 285.3,156.51 285.6,156.44 285.9,155.46 286.2,155.3 286.5,155.39 286.8,154.6 287.1,153.91 287.4,153.63 287.7,152.22 288,151.89 288,150.4 288.3,152.73 288.6,153.7 288.9,153.63 289.2,154.23 289.5,155.02 289.8,156.76 290.1,157.43 290.4,159.17 290.7,158.29 291,160.13 291.3,162.02 291.3,162.04 291.6,159.51 291.9,159.65 292.2,158.16 292.5,157.53 292.8,156.57 293.1,156.6 293.4,155.73 293.7,156.93 294,155.29 294.3,155.41 294.6,153.53 294.9,151.71 295,152.93 295.2,151.12 295.5,154.19 295.8,154.51 296.1,152.33 296.4,156.43 296.7,156.33 297,156.48 297.3,156.13 297.6,157.66 297.9,158.2 298.2,158.87 298.5,158.79 298.7,159.87 298.8,158.39 299.1,159.82 299.4,161.18 299.7,162.18 300,161.56 300.3,163 300.6,162.9 300.9,164.51 301.2,165.43 301.2,164.73 301.5,165.5 301.8,163.87 302.1,164.56 302.4,164.92 302.7,163.14 303,163.86 303.3,163.39 303.6,163.38 303.7,162.9 303.9,165.12 304.2,164.15 304.6,166.65" fill="none" stroke="#2a2aff" stroke-width="1.3" stroke-linejoin="round" />
<polyline points="47.8,176.59 48.08,173.86 48.36,172.75 48.64,176.78 48.92,174.12 49.2,180.68 49.48,171.09 49.76,180.45 50.04,179.19 50.32,178.95 50.6,175.13 50.88,178.77 51.16,173.41 51.44,174.44 51.72,179.47 52,180.12 52.28,173.13 52.56,180.27 52.84,179.81 53.12,172.7 53.4,174.32 53.68,175.43 53.96,173.78 54.24,176.86 54.52,177.17 54.8,173.23 55.08,179.07 55.36,173.87 55.64,181.8 55.92,177.74 56.2,174.89 56.48,181.02 56.76,178.56 57.04,174.62 57.32,172.99 57.6,178.29 57.88,181.36 58.16,180.03 58.44,174.39 58.72,180.58 59,175.8 59.28,172.62 59.56,174.48 59.84,179.46 60.12,175.01 60.4,173.08 60.68,177.32 60.96,175.51 61.24,175.17 61.52,178.99 61.8,180.63 62.08,173.77 62.36,178.42 62.64,172.84 62.92,179.39 63.2,173.97 63.48,176.25 63.76,175.85 64.04,180.7 64.32,173.77 64.6,177.13 64.88,173.13 65.16,178.49 65.44,175.79 65.72,173.99 66,179.05 66.28,174.17 66.56,173.65 66.84,179.46 67.12,179.2 67.4,174.27 67.68,177.53 67.96,173.26 68.24,177.54 68.52,173.11 68.8,177.43 69.08,176.21 69.36,176.98 69.64,179.23 69.92,177.37 70.2,173.08 70.48,176.6 70.76,176.66 71.04,172.98 71.32,175.67 71.6,174.47 71.88,178.66 72.16,176.66 72.44,178.22 72.72,173.1 73,177.63 73.28,173.07 73.56,176.47 73.84,172.74 74.12,175.32 74.4,172.59 74.68,177.47 74.96,180.79 75.24,173.4 75.52,174.45 75.8,174.12 76.08,173.43 76.36,180.38 76.64,175.63 76.92,176.42 77.2,175.6 77.48,174.48 77.76,176.84 78.04,176.18 78.32,172.67 78.6,182.16 78.88,175.13 79.16,177.85 79.44,169.64 79.72,179.08 80,180.29 80.28,180.2 80.56,173.26 80.84,174.54 81.12,176.6 81.4,179.5 81.68,174.22 81.96,176.34 82.24,177.23 82.52,174.02 82.8,175.19 83.08,177.02 83.36,178.43 83.64,173.61 83.92,175.28 84.2,173.54 84.48,175.87 84.76,174.22 85.04,178.2 85.32,179.72 85.6,179.44 85.88,173.27 86.16,174.82 86.44,175.11 86.72,173.68 87,173.23 87.28,180.78 87.56,175.74 87.84,176.67 88.12,178.22 88.4,174.68 88.68,175.65 88.96,177.56 89.24,174.65 89.52,176.8 89.8,175.99 90.08,173.19 90.36,176.74 90.64,180.75 90.92,173.63 91.2,182.5 91.48,172.61 91.76,178.93 92.04,173.2 92.32,174.16 92.6,179.97 92.88,174.09 93.16,175.94 93.44,180.77 93.72,178.39 94,172.89 94.28,175.72 94.56,177.68 94.84,177.04 95.12,182.99 95.4,174.44 95.68,176.78 95.96,172.46 96.24,175.18 96.52,177.43 96.8,175.2 97.08,175.13 97.36,172.99 97.64,174.41 97.92,178.18 98.2,179.39 98.48,178.32 98.76,179.02 99.04,175.55 99.32,179.77 99.6,181.6 99.88,175.83 100.16,179.36 100.44,177.51 100.72,176.52 101,175.47 101.28,179.46 101.56,180.71 101.84,177.75 102.12,180.15 102.4,179.55 102.68,178.37 102.96,178.67 103.24,175.42 103.52,175.02 103.8,174.77 104.08,174.08 104.36,179.72 104.64,175.27 104.92,183.33 105.2,177.2 105.48,179.4 105.76,177.86 106.04,175.22 106.32,182.35 106.6,174.73 106.88,180.5 107.16,182.31 107.44,178 107.72,174.46 108,172.83 108.28,175.7 108.56,173.81 108.84,178.98 109.12,177.98 109.4,174.44 109.68,177.18 109.96,176.22 110.24,174.3 110.52,176.62 110.8,172.31 111.08,173.11 111.36,178.06 111.64,182.71 111.92,178.51 112.2,173.91 112.48,177.73 112.76,178.56 113.04,174.88 113.32,178.74 113.6,177.2 113.88,179.75 114.16,179.3 114.44,178.92 114.72,180.23 115,180.56 115.28,175.7 115.56,173.2 115.84,178.13 116.12,177.12 116.4,177.01 116.68,176.89 116.96,179.31 117.24,178.4 117.52,180.22 117.8,174.93 118.08,178.05 118.36,178.15 118.64,172.89 118.92,180.02 119.2,172.99 119.48,178.34 119.76,172.78 120.04,175.99 120.32,173.66 120.6,177.95 120.88,174.78 121.16,179.66 121.44,175.94 121.72,179.19 122,180.46 122.28,179.37 122.56,177.46 122.84,173.86 123.12,177.83 123.4,176.9 123.68,180.28 123.96,176.08 124.24,172.91 124.52,173.43 124.8,178.48 125.08,175.36 125.36,173.19 125.64,177.33 125.92,179.75 126.2,174.01 126.48,174.13 126.76,177.4 127.04,172.15 127.32,180.09 127.6,177.84 127.88,180.14 128.16,177.03 128.44,172.66 128.72,174.38 129,179.02 129.28,174.12 129.56,179.62 129.84,175.9 130.12,178.13 130.4,177.06 130.68,175.61 130.96,177.55 131.24,176.12 131.52,175.2 131.8,176.88 132.08,181.3 132.36,178.38 132.64,179.21 132.92,174.43 133.2,171.24 133.48,173.71 133.76,178.05 134.04,172.27 134.32,177.83 134.6,179.14 134.88,179.29 135.16,172.69 135.44,178.82 135.72,173.96 136,172.4 136.28,173.63 136.56,174.38 136.84,178.68 137.12,174.32 137.4,169.57 137.68,178.5 137.96,179.89 138.24,176.83 138.52,176.93 138.8,178.01 139.08,172.67 139.36,173.25 139.64,177.84 139.92,174.72 140.2,175.81 140.48,173.7 140.76,175.77 141.04,173.79 141.32,176 141.6,178.29 141.88,177.27 142.16,173.18 142.44,172.63 142.72,179.02 143,174.35 143.28,179.98 143.56,173.86 143.84,179 144.12,174.67 144.4,169.95 144.68,179.52 144.96,178.65 145.24,178.87 145.52,178.01 145.8,172.17 146.08,178.4 146.36,174.15 146.64,178.53 146.92,172.23 147.2,182.05 147.48,172.47 147.76,178.22 148.04,172.16 148.32,173.32 148.6,178.31 148.88,174.99 149.16,178.15 149.44,179.96 149.72,174.85 150,172.12 150.28,173 150.56,174.95 150.84,177.29 151.12,176.03 151.4,179.75 151.68,175.07 151.96,180.3 152.24,179.34 152.52,174.4 152.8,174.56 153.08,179.89 153.36,176.21 153.64,176.9 153.92,169.82 154.2,174.8 154.48,172.8 154.76,176.81 155.04,177.64 155.32,168.94 155.6,181.68 155.88,182.97 156.16,182.05 156.44,180.03 156.72,178.32 157,177.45 157.28,179.97 157.56,176.33 157.84,179.09 158.12,173.83 158.4,174.28 158.68,171.94 158.96,177.41 159.24,171.94 159.52,173.33 159.8,179.7 160.08,177.3 160.36,180.11 160.64,175.13 160.92,178.98 161.2,168.77 161.48,176.6 161.76,175.61 162.04,179.76 162.32,179.73 162.6,175.2 162.88,176.82 163.16,180.21 163.44,180.16 163.72,173.9 164,169.67 164.28,179.37 164.56,173.49 164.84,172 165.12,174.53 165.4,173.94 165.68,175.48 165.96,178.33 166.24,178.01 166.52,173.21 166.8,177.1 167.08,178.75 167.36,172.49 167.64,180.68 167.92,174.65 168.2,179.73 168.48,177.19 168.76,174.88 169.04,178.63 169.32,175.7 169.6,176.16 169.88,173.12 170.16,170.36 170.44,171.78 170.72,173.87 171,179.26 171.28,178.29 171.56,172.13 171.84,179.89 172.12,177.08 172.4,179.9 172.68,172.36 172.96,177.5 173.24,176.74 173.52,177.55 173.8,179.95 174.08,178.33 174.36,178.17 174.64,176.01 174.92,173.47 175.2,177.92 175.48,172.36 175.76,177.24 176.04,173.08 176.32,177.92 176.6,173.04 176.88,178.62 177.16,173.06 177.44,173.77 177.72,177.26 178,172.21 178.28,179.14 178.56,172.65 178.84,171.65 179.12,179.47 179.4,174.28 179.68,176.39 179.96,178.32 180.24,178.44 180.52,179.34 180.8,174.48 181.08,175.88 181.36,175.4 181.64,176.88 181.92,179.94 182.2,175.17 182.48,177.54 182.76,179.88 183.04,172.98 183.32,179.01 183.6,178.04 183.88,178.73 184.16,176.57 184.44,174.71 184.72,172.52 185,176.13 185.28,178.84 185.56,178.07 185.84,175.99 186.12,170.7 186.4,176.01 186.68,178.46 186.96,176.63 187.24,179.97 187.52,172.32 187.8,176.72 188.08,175.13 188.36,176.73 188.64,179.12 188.92,177.37 189.2,172.45 189.48,177.51 189.76,172.03 190.04,173.09 190.32,175.94 190.6,179.53 190.88,178.15 191.16,171.91 191.44,172.69 191.72,174.25 192,170.82 192.28,172.56 192.56,177.96 192.84,175.03 193.12,176.48 193.4,173.39 193.68,177.09 193.96,175.44 194.24,178.25 194.52,173.82 194.8,172.56 195.08,176.09 195.36,173.31 195.64,178.54 195.92,180.06 196.2,174.49 196.48,172.44 196.76,179.57 197.04,175.09 197.32,176.84 197.6,174.35 197.88,171.91 198.16,175.17 198.44,179.03 198.72,175.92 199,178.55 199.28,178.3 199.56,176.94 199.84,176.43 200.12,177.55 200.4,174.17 200.68,168.67 200.96,178.84 201.24,174.93 201.52,172.97 201.8,172.49 202.08,177.61 202.36,176.54 202.64,176.68 202.92,172.89 203.2,178 203.48,175.07 203.76,177.62 204.04,179.21 204.32,179.68 204.6,176.36 204.88,176.17 205.16,176.91 205.44,174.75 205.72,179.16 206,173.15 206.28,174.8 206.56,172.59 206.84,172.88 207.12,176.24 207.4,179.36 207.68,177.87 207.96,176.87 208.24,177.82 208.52,171.96 208.8,178.67 209.08,177.64 209.36,173.26 209.64,176.62 209.92,175.49 210.2,172.22 210.48,176.04 210.76,177.46 211.04,179.08 211.32,178.09 211.6,176.21 211.88,174.35 212.16,177.71 212.44,179.7 212.72,176.16 213,173.1 213.28,173.61 213.56,178.61 213.84,179.24 214.12,173.6 214.4,170.14 214.68,173.51 214.96,178.14 215.24,174.63 215.52,171.67 215.8,176.38 216.08,174.38 216.36,175.51 216.64,173.75 216.92,177.86 217.2,175.26 217.48,179.39 217.76,180.18 218.04,177.34 218.32,172.19 218.6,177.61 218.88,176.66 219.16,173.77 219.44,176.76 219.72,174.28 220,177.83 220.28,177.71 220.56,174.66 220.84,172.24 221.12,179.32 221.4,172.96 221.68,173.35 221.96,176.89 222.24,179.51 222.52,173.83 222.8,173.92 223.08,172.63 223.36,175.76 223.64,174.89 223.92,178.31 224.2,176.61 224.48,176.36 224.76,173.13 225.04,173.7 225.32,175.83 225.6,176.4 225.88,176.9 226.16,174.73 226.44,172.1 226.72,173.78 227,172.43 227.28,176.75 227.56,172.37 227.84,177.05 228.12,178.68 228.4,174.57 228.68,172.2 228.96,176.84 229.24,174.48 229.52,168.67 229.8,177.97 230.08,173.72 230.36,172.13 230.64,176.29 230.92,174.28 231.2,179.28 231.48,173.22 231.76,182.32 232.04,176.2 232.32,177.21 232.6,171.96 232.88,175.73 233.16,178.45 233.44,177.42 233.72,168.12 234,171.99 234.28,173.99 234.56,175.67 234.84,171.94 235.12,176.99 235.4,178.01 235.68,175.2 235.96,172.76 236.24,175.41 236.52,177.18 236.8,173.37 237.08,171.64 237.36,178.13 237.64,172.95 237.92,175.46 238.2,173.63 238.48,177.14 238.76,179.49 239.04,178.79 239.32,177.5 239.6,168.69 239.88,174.41 240.16,173.58 240.44,178.91 240.72,175.39 241,175.07 241.28,178.21 241.56,176.96 241.84,174.58 242.12,177.05 242.4,173.12 242.68,173.79 242.96,173.04 243.24,175.14 243.52,172.76 243.8,176.08 244.08,174.85 244.36,171.91 244.64,174.42 244.92,174.29 245.2,174.44 245.48,175.36 245.76,171.33 246.04,174.63 246.32,178.15 246.6,175.13 246.88,176.88 247.16,174.51 247.44,175.4 247.72,177.23 248,177.22 248.28,179.31 248.56,179.66 248.84,179.68 249.12,171.54 249.4,178.28 249.68,173.19 249.96,179.23 250.24,177.24 250.52,177.95 250.8,175.16 251.08,172.51 251.36,172.35 251.64,174.56 251.92,175.38 252.2,178.47 252.48,178.39 252.76,174.94 253.04,176.39 253.32,178.71 253.6,175.23 253.88,177.4 254.16,178.99 254.44,173.79 254.72,177.26 255,175.99 255.28,171.53 255.56,173.73 255.84,173.88 256.12,175.97 256.4,174.39 256.68,177.65 256.96,177.34 257.24,178.21 257.52,175.7 257.8,172.45 258.08,174.6 258.36,173.17 258.64,176.03 258.92,174.11 259.2,172.78 259.48,174.21 259.76,171.4 260.04,175.31 260.32,178.53 260.6,179.02 260.88,177.25 261.16,177.37 261.44,172.8 261.72,176.88 262,176.41 262.28,182.24 262.56,180.01 262.84,178.27 263.12,177.09 263.4,175.47 263.68,177.97 263.96,176.57 264.24,176.91 264.52,177.36 264.8,179.17 265.08,176.07 265.36,177.8 265.64,172.61 265.92,173.14 266.2,172.95 266.48,176.12 266.76,171.74 267.04,177.15 267.32,176.97 267.6,173.01 267.88,179.54 268.16,177.4 268.44,172.68 268.72,171.57 269,170.57 269.28,173.79 269.56,177.29 269.84,171.61 270.12,178.44 270.4,178.47 270.68,173.69 270.96,174.52 271.24,173.3 271.52,173.22 271.8,176.68 272.08,171.61 272.36,178.91 272.64,177.87 272.92,172.65 273.2,174.11 273.48,174.48 273.76,177.08 274.04,173.78 274.32,172.89 274.6,177.9 274.88,176.01 275.16,174.7 275.44,176.39 275.72,171.55 276,173.72 276.28,177.79 276.56,173.65 276.84,172.1 277.12,173.34 277.4,173.19 277.68,173.16 277.96,176.28 278.24,172.11 278.52,173.49 278.8,177.2 279.08,172.56 279.36,176.77 279.64,172.81 279.92,170.55 280.2,175.22 280.48,178.31 280.76,179.17 281.04,173.58 281.32,171.47 281.6,173.39 281.88,172.74 282.16,178.57 282.44,171.34 282.72,179.07 283,179.18 283.28,171.1 283.56,172.71 283.84,174.02 284.12,168.33 284.4,175.39 284.68,175.09 284.96,178.58 285.24,179.25 285.52,173.56 285.8,173.09 286.08,172.15 286.36,178.4 286.64,177.51 286.92,179.32 287.2,176.32 287.48,178.69 287.76,177.29 288.04,177.74 288.32,172 288.6,174.34 288.88,180.84 289.16,176.73 289.44,175.42 289.72,177.52 290,179.05 290.28,177.22 290.56,175.87 290.84,178.2 291.12,171.38 291.4,173.7 291.68,177.23 291.96,177.82 292.24,178.53 292.52,175.83 292.8,175.6 293.08,178.61 293.36,174.72 293.64,180.72 293.92,170.98 294.2,175.45 294.48,178.43 294.76,172.34 295.04,177.03 295.32,173.43 295.6,176.42 295.88,172.48 296.16,173.57 296.44,176.86 296.72,175.43 297,176.76 297.28,174.26 297.56,172.2 297.84,171 298.12,175.36 298.4,174.43 298.68,174.06 298.96,176.46 299.24,168.03 299.52,171.87 299.8,174.12 300.08,178.92 300.36,171.23 300.64,173.5 300.92,175.18 301.2,171.27 301.48,178.09 301.76,175.12 302.04,176.02 302.32,176.09 302.6,174.22 302.88,174.6 303.16,171.72 303.44,172.29 303.72,173.91 304,173.09 304.28,171.24" fill="none" stroke="#18ee18" stroke-width="1.3" stroke-linejoin="round" />
</g>
<line x1="84.6" y1="184" x2="84.6" y2="199.8" stroke="#111" stroke-width="1.1" />
<path d="M84.6,180 L83.1,185 L86.1,185 Z" fill="#111"/>
<line x1="135.3" y1="184" x2="135.3" y2="199.8" stroke="#111" stroke-width="1.1" />
<path d="M135.3,180 L133.8,185 L136.8,185 Z" fill="#111"/>
<line x1="168.1" y1="184" x2="168.1" y2="199.8" stroke="#111" stroke-width="1.1" />
<path d="M168.1,180 L166.6,185 L169.6,185 Z" fill="#111"/>
<rect x="47.6" y="1.1" width="257" height="187.2" fill="none" stroke="#2a2a2a" stroke-width="1.2"/>
<line x1="105.9" y1="188.3" x2="105.9" y2="185.1" stroke="#2a2a2a" stroke-width="1" />
<line x1="105.9" y1="1.1" x2="105.9" y2="4.3" stroke="#2a2a2a" stroke-width="1" />
<line x1="178.3" y1="188.3" x2="178.3" y2="185.1" stroke="#2a2a2a" stroke-width="1" />
<line x1="178.3" y1="1.1" x2="178.3" y2="4.3" stroke="#2a2a2a" stroke-width="1" />
<line x1="250.7" y1="188.3" x2="250.7" y2="185.1" stroke="#2a2a2a" stroke-width="1" />
<line x1="250.7" y1="1.1" x2="250.7" y2="4.3" stroke="#2a2a2a" stroke-width="1" />
<line x1="69.7" y1="188.3" x2="69.7" y2="186.3" stroke="#2a2a2a" stroke-width="1" />
<line x1="69.7" y1="1.1" x2="69.7" y2="3.1" stroke="#2a2a2a" stroke-width="1" />
<line x1="142.1" y1="188.3" x2="142.1" y2="186.3" stroke="#2a2a2a" stroke-width="1" />
<line x1="142.1" y1="1.1" x2="142.1" y2="3.1" stroke="#2a2a2a" stroke-width="1" />
<line x1="214.5" y1="188.3" x2="214.5" y2="186.3" stroke="#2a2a2a" stroke-width="1" />
<line x1="214.5" y1="1.1" x2="214.5" y2="3.1" stroke="#2a2a2a" stroke-width="1" />
<line x1="286.9" y1="188.3" x2="286.9" y2="186.3" stroke="#2a2a2a" stroke-width="1" />
<line x1="286.9" y1="1.1" x2="286.9" y2="3.1" stroke="#2a2a2a" stroke-width="1" />
<line x1="47.6" y1="177.4" x2="50.8" y2="177.4" stroke="#2a2a2a" stroke-width="1" />
<line x1="304.6" y1="177.4" x2="301.4" y2="177.4" stroke="#2a2a2a" stroke-width="1" />
<line x1="47.6" y1="132.6" x2="50.8" y2="132.6" stroke="#2a2a2a" stroke-width="1" />
<line x1="304.6" y1="132.6" x2="301.4" y2="132.6" stroke="#2a2a2a" stroke-width="1" />
<line x1="47.6" y1="87.8" x2="50.8" y2="87.8" stroke="#2a2a2a" stroke-width="1" />
<line x1="304.6" y1="87.8" x2="301.4" y2="87.8" stroke="#2a2a2a" stroke-width="1" />
<line x1="47.6" y1="43" x2="50.8" y2="43" stroke="#2a2a2a" stroke-width="1" />
<line x1="304.6" y1="43" x2="301.4" y2="43" stroke="#2a2a2a" stroke-width="1" />
<line x1="47.6" y1="155" x2="49.6" y2="155" stroke="#2a2a2a" stroke-width="1" />
<line x1="304.6" y1="155" x2="302.6" y2="155" stroke="#2a2a2a" stroke-width="1" />
<line x1="47.6" y1="110.2" x2="49.6" y2="110.2" stroke="#2a2a2a" stroke-width="1" />
<line x1="304.6" y1="110.2" x2="302.6" y2="110.2" stroke="#2a2a2a" stroke-width="1" />
<line x1="47.6" y1="65.4" x2="49.6" y2="65.4" stroke="#2a2a2a" stroke-width="1" />
<line x1="304.6" y1="65.4" x2="302.6" y2="65.4" stroke="#2a2a2a" stroke-width="1" />
<line x1="47.6" y1="20.6" x2="49.6" y2="20.6" stroke="#2a2a2a" stroke-width="1" />
<line x1="304.6" y1="20.6" x2="302.6" y2="20.6" stroke="#2a2a2a" stroke-width="1" />
<text transform="translate(105.9,201.8) scale(1,1.07)" font-size="12" text-anchor="middle" fill="#111" stroke="#111">2</text>
<text transform="translate(178.3,201.8) scale(1,1.07)" font-size="12" text-anchor="middle" fill="#111" stroke="#111">4</text>
<text transform="translate(250.7,201.8) scale(1,1.07)" font-size="12" text-anchor="middle" fill="#111" stroke="#111">6</text>
<text transform="translate(44.2,181.7) scale(1,1.07)" font-size="12" text-anchor="end" fill="#111" stroke="#111">0</text>
<text transform="translate(44.2,136.9) scale(1,1.07)" font-size="12" text-anchor="end" fill="#111" stroke="#111">2000</text>
<text transform="translate(44.2,92.1) scale(1,1.07)" font-size="12" text-anchor="end" fill="#111" stroke="#111">4000</text>
<text transform="translate(44.2,47.3) scale(1,1.07)" font-size="12" text-anchor="end" fill="#111" stroke="#111">6000</text>
<text transform="translate(12.7,94.6) rotate(-90)" font-size="15.5" text-anchor="middle" fill="#111" stroke="#111">Intensity (arb. units)</text>
<text x="149.2" y="218.5" font-size="15.4" fill="#111" stroke="#111">|</text>
<text x="152.3" y="218.9" font-size="15.2" font-weight="bold" fill="#111" stroke="#111">Q</text>
<text x="165.3" y="218.5" font-size="15.4" fill="#111" stroke="#111">|</text>
<text x="173" y="218.7" font-size="15.5" font-family="Liberation Serif, serif" fill="#111" stroke="#111">(</text>
<text x="178.2" y="218.7" font-size="15.3" font-family="Liberation Serif, serif" fill="#111" stroke="#111">Å</text>
<text x="189.3" y="212" font-size="8.6" fill="#111" stroke="#111">-1</text>
<text x="198.8" y="218.7" font-size="15.5" font-family="Liberation Serif, serif" fill="#111" stroke="#111">)</text>
<text x="54.2" y="19.9" font-size="17.5" text-anchor="start" fill="#111" stroke="#111" >(a)</text>
<text transform="translate(91,33.5) scale(1.12,1)" font-family="Liberation Serif, serif" font-style="italic" font-size="13.5" fill="#111" stroke="#111">α</text>
<text x="99.44" y="33.5" font-size="13.5" fill="#111" stroke="#111" >-CrOOH</text>
<text transform="translate(88.9,81.9) rotate(-90)" font-size="12.2" fill="#111" stroke="#111">(0 0 3)</text>
<line x1="198.5" y1="17.5" x2="225.9" y2="17.5" stroke="#ff7070" stroke-width="1.1" />
<line x1="198.5" y1="32.6" x2="225.9" y2="32.6" stroke="#2a2aff" stroke-width="1.1" />
<line x1="198.5" y1="46.9" x2="225.9" y2="46.9" stroke="#22ee22" stroke-width="1.4" />
<text x="230" y="21.8" font-size="12" text-anchor="start" fill="#111" stroke="#111" ><tspan font-style="italic">I</tspan>(50 K)</text>
<text x="230" y="36.9" font-size="12" text-anchor="start" fill="#111" stroke="#111" ><tspan font-style="italic">I</tspan>(8 K)</text>
<text x="230" y="51.2" font-size="12" text-anchor="start" fill="#111" stroke="#111" ><tspan font-style="italic">I</tspan>(8 K)-<tspan font-style="italic">I</tspan>(50 K)</text>
<clipPath id="cb"><rect x="350.6" y="1.1" width="256.9" height="187.20000000000002"/></clipPath>
<g clip-path="url(#cb)">
<line x1="426.3" y1="140" x2="426.3" y2="188.3" stroke="#777" stroke-width="0.9" stroke-dasharray="1.2 1.65"/>
<line x1="556.9" y1="123" x2="556.9" y2="188.3" stroke="#777" stroke-width="0.9" stroke-dasharray="1.2 1.65"/>
<line x1="572.5" y1="123" x2="572.5" y2="188.3" stroke="#777" stroke-width="0.9" stroke-dasharray="1.2 1.65"/>
<line x1="593.4" y1="111.8" x2="593.4" y2="188.3" stroke="#777" stroke-width="0.9" stroke-dasharray="1.2 1.65"/>
<path d="M351.5,105.51V114.11M349.9,105.51h3.2M349.9,114.11h3.2M355.1,107.43V116.03M353.5,107.43h3.2M353.5,116.03h3.2M358.7,107.84V116.44M357.1,107.84h3.2M357.1,116.44h3.2M362.3,107.94V116.54M360.7,107.94h3.2M360.7,116.54h3.2M365.9,107.16V115.76M364.3,107.16h3.2M364.3,115.76h3.2M369.5,108.57V117.17M367.9,108.57h3.2M367.9,117.17h3.2M373.1,108.32V116.92M371.5,108.32h3.2M371.5,116.92h3.2M376.7,106.83V115.43M375.1,106.83h3.2M375.1,115.43h3.2M380.3,105.2V113.8M378.7,105.2h3.2M378.7,113.8h3.2M383.9,103.14V111.74M382.3,103.14h3.2M382.3,111.74h3.2M387.5,99.9V108.5M385.9,99.9h3.2M385.9,108.5h3.2M391.1,97.33V105.93M389.5,97.33h3.2M389.5,105.93h3.2M394.7,94.71V103.31M393.1,94.71h3.2M393.1,103.31h3.2M398.3,90.79V99.39M396.7,90.79h3.2M396.7,99.39h3.2M401.9,89.85V98.45M400.3,89.85h3.2M400.3,98.45h3.2M405.5,85.33V93.93M403.9,85.33h3.2M403.9,93.93h3.2M409.1,82.27V90.87M407.5,82.27h3.2M407.5,90.87h3.2M412.7,79.32V87.92M411.1,79.32h3.2M411.1,87.92h3.2M416.3,79.56V88.16M414.7,79.56h3.2M414.7,88.16h3.2M419.9,77.5V86.1M418.3,77.5h3.2M418.3,86.1h3.2M423.5,77.26V85.86M421.9,77.26h3.2M421.9,85.86h3.2M427.1,75.98V84.58M425.5,75.98h3.2M425.5,84.58h3.2M430.7,74.06V82.66M429.1,74.06h3.2M429.1,82.66h3.2M434.3,75.19V83.79M432.7,75.19h3.2M432.7,83.79h3.2M437.9,75.98V84.58M436.3,75.98h3.2M436.3,84.58h3.2M441.5,75.73V84.33M439.9,75.73h3.2M439.9,84.33h3.2M445.1,79.16V87.76M443.5,79.16h3.2M443.5,87.76h3.2M448.7,78.9V87.5M447.1,78.9h3.2M447.1,87.5h3.2M452.3,80.07V88.67M450.7,80.07h3.2M450.7,88.67h3.2M455.9,83.77V92.37M454.3,83.77h3.2M454.3,92.37h3.2M459.5,83.95V92.55M457.9,83.95h3.2M457.9,92.55h3.2M463.1,87.86V96.46M461.5,87.86h3.2M461.5,96.46h3.2M466.7,88.43V97.03M465.1,88.43h3.2M465.1,97.03h3.2M470.3,90.5V99.1M468.7,90.5h3.2M468.7,99.1h3.2M473.9,91.94V100.54M472.3,91.94h3.2M472.3,100.54h3.2M477.5,94.29V102.89M475.9,94.29h3.2M475.9,102.89h3.2M481.1,95.49V104.09M479.5,95.49h3.2M479.5,104.09h3.2M484.7,97.08V105.68M483.1,97.08h3.2M483.1,105.68h3.2M488.3,101.22V109.82M486.7,101.22h3.2M486.7,109.82h3.2M491.9,101.37V109.97M490.3,101.37h3.2M490.3,109.97h3.2M495.5,104.4V113M493.9,104.4h3.2M493.9,113h3.2M499.1,104.54V113.14M497.5,104.54h3.2M497.5,113.14h3.2M502.7,107.86V116.46M501.1,107.86h3.2M501.1,116.46h3.2M506.3,108.93V117.53M504.7,108.93h3.2M504.7,117.53h3.2M509.9,109.83V118.43M508.3,109.83h3.2M508.3,118.43h3.2M513.5,110.23V118.83M511.9,110.23h3.2M511.9,118.83h3.2M517.1,110.12V118.72M515.5,110.12h3.2M515.5,118.72h3.2M520.7,110.76V119.36M519.1,110.76h3.2M519.1,119.36h3.2M524.3,109V117.6M522.7,109h3.2M522.7,117.6h3.2M527.9,109.74V118.34M526.3,109.74h3.2M526.3,118.34h3.2M531.5,110.55V119.15M529.9,110.55h3.2M529.9,119.15h3.2M535.1,108.92V117.52M533.5,108.92h3.2M533.5,117.52h3.2M538.7,110.8V119.4M537.1,110.8h3.2M537.1,119.4h3.2M542.3,110.82V119.42M540.7,110.82h3.2M540.7,119.42h3.2M545.9,109.76V118.36M544.3,109.76h3.2M544.3,118.36h3.2M549.5,109.82V118.42M547.9,109.82h3.2M547.9,118.42h3.2M553.1,110.07V118.67M551.5,110.07h3.2M551.5,118.67h3.2M556.7,109.9V118.5M555.1,109.9h3.2M555.1,118.5h3.2M560.3,111.5V120.1M558.7,111.5h3.2M558.7,120.1h3.2M563.9,110.1V118.7M562.3,110.1h3.2M562.3,118.7h3.2M567.5,109.34V117.94M565.9,109.34h3.2M565.9,117.94h3.2M571.1,109.75V118.35M569.5,109.75h3.2M569.5,118.35h3.2M574.7,111.74V120.34M573.1,111.74h3.2M573.1,120.34h3.2M578.3,112.81V121.41M576.7,112.81h3.2M576.7,121.41h3.2M581.9,111.78V120.38M580.3,111.78h3.2M580.3,120.38h3.2M585.5,111.95V120.55M583.9,111.95h3.2M583.9,120.55h3.2M589.1,112.29V120.89M587.5,112.29h3.2M587.5,120.89h3.2M592.7,112.85V121.45M591.1,112.85h3.2M591.1,121.45h3.2M596.3,111.48V120.08M594.7,111.48h3.2M594.7,120.08h3.2M599.9,112.48V121.08M598.3,112.48h3.2M598.3,121.08h3.2M603.5,112.35V120.95M601.9,112.35h3.2M601.9,120.95h3.2M607.1,112.52V121.12M605.5,112.52h3.2M605.5,121.12h3.2" fill="none" stroke="#ff8a8a" stroke-width="0.7"/>
<path d="M349.6,107.91h3.8v3.8h-3.8zM353.2,109.83h3.8v3.8h-3.8zM356.8,110.24h3.8v3.8h-3.8zM360.4,110.34h3.8v3.8h-3.8zM364,109.56h3.8v3.8h-3.8zM367.6,110.97h3.8v3.8h-3.8zM371.2,110.72h3.8v3.8h-3.8zM374.8,109.23h3.8v3.8h-3.8zM378.4,107.6h3.8v3.8h-3.8zM382,105.54h3.8v3.8h-3.8zM385.6,102.3h3.8v3.8h-3.8zM389.2,99.73h3.8v3.8h-3.8zM392.8,97.11h3.8v3.8h-3.8zM396.4,93.19h3.8v3.8h-3.8zM400,92.25h3.8v3.8h-3.8zM403.6,87.73h3.8v3.8h-3.8zM407.2,84.67h3.8v3.8h-3.8zM410.8,81.72h3.8v3.8h-3.8zM414.4,81.96h3.8v3.8h-3.8zM418,79.9h3.8v3.8h-3.8zM421.6,79.66h3.8v3.8h-3.8zM425.2,78.38h3.8v3.8h-3.8zM428.8,76.46h3.8v3.8h-3.8zM432.4,77.59h3.8v3.8h-3.8zM436,78.38h3.8v3.8h-3.8zM439.6,78.13h3.8v3.8h-3.8zM443.2,81.56h3.8v3.8h-3.8zM446.8,81.3h3.8v3.8h-3.8zM450.4,82.47h3.8v3.8h-3.8zM454,86.17h3.8v3.8h-3.8zM457.6,86.35h3.8v3.8h-3.8zM461.2,90.26h3.8v3.8h-3.8zM464.8,90.83h3.8v3.8h-3.8zM468.4,92.9h3.8v3.8h-3.8zM472,94.34h3.8v3.8h-3.8zM475.6,96.69h3.8v3.8h-3.8zM479.2,97.89h3.8v3.8h-3.8zM482.8,99.48h3.8v3.8h-3.8zM486.4,103.62h3.8v3.8h-3.8zM490,103.77h3.8v3.8h-3.8zM493.6,106.8h3.8v3.8h-3.8zM497.2,106.94h3.8v3.8h-3.8zM500.8,110.26h3.8v3.8h-3.8zM504.4,111.33h3.8v3.8h-3.8zM508,112.23h3.8v3.8h-3.8zM511.6,112.63h3.8v3.8h-3.8zM515.2,112.52h3.8v3.8h-3.8zM518.8,113.16h3.8v3.8h-3.8zM522.4,111.4h3.8v3.8h-3.8zM526,112.14h3.8v3.8h-3.8zM529.6,112.95h3.8v3.8h-3.8zM533.2,111.32h3.8v3.8h-3.8zM536.8,113.2h3.8v3.8h-3.8zM540.4,113.22h3.8v3.8h-3.8zM544,112.16h3.8v3.8h-3.8zM547.6,112.22h3.8v3.8h-3.8zM551.2,112.47h3.8v3.8h-3.8zM554.8,112.3h3.8v3.8h-3.8zM558.4,113.9h3.8v3.8h-3.8zM562,112.5h3.8v3.8h-3.8zM565.6,111.74h3.8v3.8h-3.8zM569.2,112.15h3.8v3.8h-3.8zM572.8,114.14h3.8v3.8h-3.8zM576.4,115.21h3.8v3.8h-3.8zM580,114.18h3.8v3.8h-3.8zM583.6,114.35h3.8v3.8h-3.8zM587.2,114.69h3.8v3.8h-3.8zM590.8,115.25h3.8v3.8h-3.8zM594.4,113.88h3.8v3.8h-3.8zM598,114.88h3.8v3.8h-3.8zM601.6,114.75h3.8v3.8h-3.8zM605.2,114.92h3.8v3.8h-3.8z" fill="#fff" stroke="#ff4c4c" stroke-width="0.85"/>
<path d="M351.5,112.26V119.46M349.9,112.26h3.2M349.9,119.46h3.2M355.1,113.61V120.81M353.5,113.61h3.2M353.5,120.81h3.2M358.7,115.45V122.65M357.1,115.45h3.2M357.1,122.65h3.2M362.3,118.34V125.54M360.7,118.34h3.2M360.7,125.54h3.2M365.9,118.41V125.61M364.3,118.41h3.2M364.3,125.61h3.2M369.5,120.63V127.83M367.9,120.63h3.2M367.9,127.83h3.2M373.1,120.83V128.03M371.5,120.83h3.2M371.5,128.03h3.2M376.7,117.83V125.03M375.1,117.83h3.2M375.1,125.03h3.2M380.3,115.14V122.34M378.7,115.14h3.2M378.7,122.34h3.2M383.9,113.13V120.33M382.3,113.13h3.2M382.3,120.33h3.2M387.5,109.52V116.72M385.9,109.52h3.2M385.9,116.72h3.2M391.1,105.18V112.38M389.5,105.18h3.2M389.5,112.38h3.2M394.7,102.75V109.95M393.1,102.75h3.2M393.1,109.95h3.2M398.3,99.82V107.02M396.7,99.82h3.2M396.7,107.02h3.2M401.9,97.48V104.68M400.3,97.48h3.2M400.3,104.68h3.2M405.5,94.69V101.89M403.9,94.69h3.2M403.9,101.89h3.2M409.1,90.38V97.58M407.5,90.38h3.2M407.5,97.58h3.2M412.7,89.15V96.35M411.1,89.15h3.2M411.1,96.35h3.2M416.3,86.37V93.57M414.7,86.37h3.2M414.7,93.57h3.2M419.9,83.26V90.46M418.3,83.26h3.2M418.3,90.46h3.2M423.5,82.38V89.58M421.9,82.38h3.2M421.9,89.58h3.2M427.1,79.71V86.91M425.5,79.71h3.2M425.5,86.91h3.2M430.7,78.11V85.31M429.1,78.11h3.2M429.1,85.31h3.2M434.3,77.96V85.16M432.7,77.96h3.2M432.7,85.16h3.2M437.9,79.77V86.97M436.3,79.77h3.2M436.3,86.97h3.2M441.5,78.65V85.85M439.9,78.65h3.2M439.9,85.85h3.2M445.1,79.92V87.12M443.5,79.92h3.2M443.5,87.12h3.2M448.7,83.35V90.55M447.1,83.35h3.2M447.1,90.55h3.2M452.3,84.8V92M450.7,84.8h3.2M450.7,92h3.2M455.9,85.59V92.79M454.3,85.59h3.2M454.3,92.79h3.2M459.5,88.06V95.26M457.9,88.06h3.2M457.9,95.26h3.2M463.1,87.94V95.14M461.5,87.94h3.2M461.5,95.14h3.2M466.7,90.46V97.66M465.1,90.46h3.2M465.1,97.66h3.2M470.3,92.52V99.72M468.7,92.52h3.2M468.7,99.72h3.2M473.9,94.84V102.04M472.3,94.84h3.2M472.3,102.04h3.2M477.5,96.17V103.37M475.9,96.17h3.2M475.9,103.37h3.2M481.1,97.89V105.09M479.5,97.89h3.2M479.5,105.09h3.2M484.7,100.56V107.76M483.1,100.56h3.2M483.1,107.76h3.2M488.3,104V111.2M486.7,104h3.2M486.7,111.2h3.2M491.9,106.11V113.31M490.3,106.11h3.2M490.3,113.31h3.2M495.5,107.29V114.49M493.9,107.29h3.2M493.9,114.49h3.2M499.1,108.4V115.6M497.5,108.4h3.2M497.5,115.6h3.2M502.7,108.93V116.13M501.1,108.93h3.2M501.1,116.13h3.2M506.3,111.67V118.87M504.7,111.67h3.2M504.7,118.87h3.2M509.9,111.44V118.64M508.3,111.44h3.2M508.3,118.64h3.2M513.5,112.34V119.54M511.9,112.34h3.2M511.9,119.54h3.2M517.1,110.88V118.08M515.5,110.88h3.2M515.5,118.08h3.2M520.7,111.69V118.89M519.1,111.69h3.2M519.1,118.89h3.2M524.3,113.49V120.69M522.7,113.49h3.2M522.7,120.69h3.2M527.9,113.56V120.76M526.3,113.56h3.2M526.3,120.76h3.2M531.5,113.89V121.09M529.9,113.89h3.2M529.9,121.09h3.2M535.1,113.16V120.36M533.5,113.16h3.2M533.5,120.36h3.2M538.7,112.71V119.91M537.1,112.71h3.2M537.1,119.91h3.2M542.3,113.23V120.43M540.7,113.23h3.2M540.7,120.43h3.2M545.9,114.1V121.3M544.3,114.1h3.2M544.3,121.3h3.2M549.5,112.88V120.08M547.9,112.88h3.2M547.9,120.08h3.2M553.1,113.49V120.69M551.5,113.49h3.2M551.5,120.69h3.2M556.7,112.82V120.02M555.1,112.82h3.2M555.1,120.02h3.2M560.3,114.11V121.31M558.7,114.11h3.2M558.7,121.31h3.2M563.9,112.32V119.52M562.3,112.32h3.2M562.3,119.52h3.2M567.5,114.26V121.46M565.9,114.26h3.2M565.9,121.46h3.2M571.1,115.19V122.39M569.5,115.19h3.2M569.5,122.39h3.2M574.7,113.13V120.33M573.1,113.13h3.2M573.1,120.33h3.2M578.3,114.97V122.17M576.7,114.97h3.2M576.7,122.17h3.2M581.9,115.37V122.57M580.3,115.37h3.2M580.3,122.57h3.2M585.5,116.09V123.29M583.9,116.09h3.2M583.9,123.29h3.2M589.1,115.57V122.77M587.5,115.57h3.2M587.5,122.77h3.2M592.7,114.9V122.1M591.1,114.9h3.2M591.1,122.1h3.2M596.3,115.47V122.67M594.7,115.47h3.2M594.7,122.67h3.2M599.9,117.09V124.29M598.3,117.09h3.2M598.3,124.29h3.2M603.5,116.95V124.15M601.9,116.95h3.2M601.9,124.15h3.2M607.1,114.95V122.15M605.5,114.95h3.2M605.5,122.15h3.2" fill="none" stroke="#6fdf6f" stroke-width="0.7"/>
<path d="M351.5,113.36l2.5,2.5l-2.5,2.5l-2.5,-2.5zM355.1,114.71l2.5,2.5l-2.5,2.5l-2.5,-2.5zM358.7,116.55l2.5,2.5l-2.5,2.5l-2.5,-2.5zM362.3,119.44l2.5,2.5l-2.5,2.5l-2.5,-2.5zM365.9,119.51l2.5,2.5l-2.5,2.5l-2.5,-2.5zM369.5,121.73l2.5,2.5l-2.5,2.5l-2.5,-2.5zM373.1,121.93l2.5,2.5l-2.5,2.5l-2.5,-2.5zM376.7,118.93l2.5,2.5l-2.5,2.5l-2.5,-2.5zM380.3,116.24l2.5,2.5l-2.5,2.5l-2.5,-2.5zM383.9,114.23l2.5,2.5l-2.5,2.5l-2.5,-2.5zM387.5,110.62l2.5,2.5l-2.5,2.5l-2.5,-2.5zM391.1,106.28l2.5,2.5l-2.5,2.5l-2.5,-2.5zM394.7,103.85l2.5,2.5l-2.5,2.5l-2.5,-2.5zM398.3,100.92l2.5,2.5l-2.5,2.5l-2.5,-2.5zM401.9,98.58l2.5,2.5l-2.5,2.5l-2.5,-2.5zM405.5,95.79l2.5,2.5l-2.5,2.5l-2.5,-2.5zM409.1,91.48l2.5,2.5l-2.5,2.5l-2.5,-2.5zM412.7,90.25l2.5,2.5l-2.5,2.5l-2.5,-2.5zM416.3,87.47l2.5,2.5l-2.5,2.5l-2.5,-2.5zM419.9,84.36l2.5,2.5l-2.5,2.5l-2.5,-2.5zM423.5,83.48l2.5,2.5l-2.5,2.5l-2.5,-2.5zM427.1,80.81l2.5,2.5l-2.5,2.5l-2.5,-2.5zM430.7,79.21l2.5,2.5l-2.5,2.5l-2.5,-2.5zM434.3,79.06l2.5,2.5l-2.5,2.5l-2.5,-2.5zM437.9,80.87l2.5,2.5l-2.5,2.5l-2.5,-2.5zM441.5,79.75l2.5,2.5l-2.5,2.5l-2.5,-2.5zM445.1,81.02l2.5,2.5l-2.5,2.5l-2.5,-2.5zM448.7,84.45l2.5,2.5l-2.5,2.5l-2.5,-2.5zM452.3,85.9l2.5,2.5l-2.5,2.5l-2.5,-2.5zM455.9,86.69l2.5,2.5l-2.5,2.5l-2.5,-2.5zM459.5,89.16l2.5,2.5l-2.5,2.5l-2.5,-2.5zM463.1,89.04l2.5,2.5l-2.5,2.5l-2.5,-2.5zM466.7,91.56l2.5,2.5l-2.5,2.5l-2.5,-2.5zM470.3,93.62l2.5,2.5l-2.5,2.5l-2.5,-2.5zM473.9,95.94l2.5,2.5l-2.5,2.5l-2.5,-2.5zM477.5,97.27l2.5,2.5l-2.5,2.5l-2.5,-2.5zM481.1,98.99l2.5,2.5l-2.5,2.5l-2.5,-2.5zM484.7,101.66l2.5,2.5l-2.5,2.5l-2.5,-2.5zM488.3,105.1l2.5,2.5l-2.5,2.5l-2.5,-2.5zM491.9,107.21l2.5,2.5l-2.5,2.5l-2.5,-2.5zM495.5,108.39l2.5,2.5l-2.5,2.5l-2.5,-2.5zM499.1,109.5l2.5,2.5l-2.5,2.5l-2.5,-2.5zM502.7,110.03l2.5,2.5l-2.5,2.5l-2.5,-2.5zM506.3,112.77l2.5,2.5l-2.5,2.5l-2.5,-2.5zM509.9,112.54l2.5,2.5l-2.5,2.5l-2.5,-2.5zM513.5,113.44l2.5,2.5l-2.5,2.5l-2.5,-2.5zM517.1,111.98l2.5,2.5l-2.5,2.5l-2.5,-2.5zM520.7,112.79l2.5,2.5l-2.5,2.5l-2.5,-2.5zM524.3,114.59l2.5,2.5l-2.5,2.5l-2.5,-2.5zM527.9,114.66l2.5,2.5l-2.5,2.5l-2.5,-2.5zM531.5,114.99l2.5,2.5l-2.5,2.5l-2.5,-2.5zM535.1,114.26l2.5,2.5l-2.5,2.5l-2.5,-2.5zM538.7,113.81l2.5,2.5l-2.5,2.5l-2.5,-2.5zM542.3,114.33l2.5,2.5l-2.5,2.5l-2.5,-2.5zM545.9,115.2l2.5,2.5l-2.5,2.5l-2.5,-2.5zM549.5,113.98l2.5,2.5l-2.5,2.5l-2.5,-2.5zM553.1,114.59l2.5,2.5l-2.5,2.5l-2.5,-2.5zM556.7,113.92l2.5,2.5l-2.5,2.5l-2.5,-2.5zM560.3,115.21l2.5,2.5l-2.5,2.5l-2.5,-2.5zM563.9,113.42l2.5,2.5l-2.5,2.5l-2.5,-2.5zM567.5,115.36l2.5,2.5l-2.5,2.5l-2.5,-2.5zM571.1,116.29l2.5,2.5l-2.5,2.5l-2.5,-2.5zM574.7,114.23l2.5,2.5l-2.5,2.5l-2.5,-2.5zM578.3,116.07l2.5,2.5l-2.5,2.5l-2.5,-2.5zM581.9,116.47l2.5,2.5l-2.5,2.5l-2.5,-2.5zM585.5,117.19l2.5,2.5l-2.5,2.5l-2.5,-2.5zM589.1,116.67l2.5,2.5l-2.5,2.5l-2.5,-2.5zM592.7,116l2.5,2.5l-2.5,2.5l-2.5,-2.5zM596.3,116.57l2.5,2.5l-2.5,2.5l-2.5,-2.5zM599.9,118.19l2.5,2.5l-2.5,2.5l-2.5,-2.5zM603.5,118.05l2.5,2.5l-2.5,2.5l-2.5,-2.5zM607.1,116.05l2.5,2.5l-2.5,2.5l-2.5,-2.5z" fill="#fff" stroke="#22cf22" stroke-width="0.85"/>
<path d="M351.5,117.32V125.92M349.9,117.32h3.2M349.9,125.92h3.2M355.1,118.6V127.2M353.5,118.6h3.2M353.5,127.2h3.2M358.7,119.7V128.3M357.1,119.7h3.2M357.1,128.3h3.2M362.3,122.46V131.06M360.7,122.46h3.2M360.7,131.06h3.2M365.9,123.32V131.92M364.3,123.32h3.2M364.3,131.92h3.2M369.5,126.24V134.84M367.9,126.24h3.2M367.9,134.84h3.2M373.1,125.7V134.3M371.5,125.7h3.2M371.5,134.3h3.2M376.7,122.03V130.63M375.1,122.03h3.2M375.1,130.63h3.2M380.3,120.79V129.39M378.7,120.79h3.2M378.7,129.39h3.2M383.9,117.71V126.31M382.3,117.71h3.2M382.3,126.31h3.2M387.5,115.13V123.73M385.9,115.13h3.2M385.9,123.73h3.2M391.1,111.05V119.65M389.5,111.05h3.2M389.5,119.65h3.2M394.7,107.24V115.84M393.1,107.24h3.2M393.1,115.84h3.2M398.3,104.34V112.94M396.7,104.34h3.2M396.7,112.94h3.2M401.9,102.15V110.75M400.3,102.15h3.2M400.3,110.75h3.2M405.5,100.54V109.14M403.9,100.54h3.2M403.9,109.14h3.2M409.1,97.89V106.49M407.5,97.89h3.2M407.5,106.49h3.2M412.7,94.33V102.93M411.1,94.33h3.2M411.1,102.93h3.2M416.3,93.81V102.41M414.7,93.81h3.2M414.7,102.41h3.2M419.9,92.22V100.82M418.3,92.22h3.2M418.3,100.82h3.2M423.5,90.16V98.76M421.9,90.16h3.2M421.9,98.76h3.2M427.1,88.41V97.01M425.5,88.41h3.2M425.5,97.01h3.2M430.7,84.98V93.58M429.1,84.98h3.2M429.1,93.58h3.2M434.3,86.45V95.05M432.7,86.45h3.2M432.7,95.05h3.2M437.9,85.7V94.3M436.3,85.7h3.2M436.3,94.3h3.2M441.5,88.24V96.84M439.9,88.24h3.2M439.9,96.84h3.2M445.1,88.04V96.64M443.5,88.04h3.2M443.5,96.64h3.2M448.7,90.77V99.37M447.1,90.77h3.2M447.1,99.37h3.2M452.3,90.98V99.58M450.7,90.98h3.2M450.7,99.58h3.2M455.9,93.57V102.17M454.3,93.57h3.2M454.3,102.17h3.2M459.5,94.02V102.62M457.9,94.02h3.2M457.9,102.62h3.2M463.1,95V103.6M461.5,95h3.2M461.5,103.6h3.2M466.7,97.63V106.23M465.1,97.63h3.2M465.1,106.23h3.2M470.3,99.15V107.75M468.7,99.15h3.2M468.7,107.75h3.2M473.9,102.37V110.97M472.3,102.37h3.2M472.3,110.97h3.2M477.5,102.49V111.09M475.9,102.49h3.2M475.9,111.09h3.2M481.1,104.7V113.3M479.5,104.7h3.2M479.5,113.3h3.2M484.7,106.44V115.04M483.1,106.44h3.2M483.1,115.04h3.2M488.3,109.1V117.7M486.7,109.1h3.2M486.7,117.7h3.2M491.9,108.34V116.94M490.3,108.34h3.2M490.3,116.94h3.2M495.5,110.94V119.54M493.9,110.94h3.2M493.9,119.54h3.2M499.1,112V120.6M497.5,112h3.2M497.5,120.6h3.2M502.7,113.42V122.02M501.1,113.42h3.2M501.1,122.02h3.2M506.3,114.71V123.31M504.7,114.71h3.2M504.7,123.31h3.2M509.9,113.69V122.29M508.3,113.69h3.2M508.3,122.29h3.2M513.5,115.07V123.67M511.9,115.07h3.2M511.9,123.67h3.2M517.1,114.98V123.58M515.5,114.98h3.2M515.5,123.58h3.2M520.7,115.36V123.96M519.1,115.36h3.2M519.1,123.96h3.2M524.3,114.07V122.67M522.7,114.07h3.2M522.7,122.67h3.2M527.9,116.02V124.62M526.3,116.02h3.2M526.3,124.62h3.2M531.5,116.42V125.02M529.9,116.42h3.2M529.9,125.02h3.2M535.1,114.77V123.37M533.5,114.77h3.2M533.5,123.37h3.2M538.7,114.64V123.24M537.1,114.64h3.2M537.1,123.24h3.2M542.3,116.38V124.98M540.7,116.38h3.2M540.7,124.98h3.2M545.9,114.08V122.68M544.3,114.08h3.2M544.3,122.68h3.2M549.5,114V122.6M547.9,114h3.2M547.9,122.6h3.2M553.1,113.93V122.53M551.5,113.93h3.2M551.5,122.53h3.2M556.7,115.78V124.38M555.1,115.78h3.2M555.1,124.38h3.2M560.3,115.58V124.18M558.7,115.58h3.2M558.7,124.18h3.2M563.9,114.84V123.44M562.3,114.84h3.2M562.3,123.44h3.2M567.5,115.37V123.97M565.9,115.37h3.2M565.9,123.97h3.2M571.1,113.87V122.47M569.5,113.87h3.2M569.5,122.47h3.2M574.7,115.57V124.17M573.1,115.57h3.2M573.1,124.17h3.2M578.3,115.12V123.72M576.7,115.12h3.2M576.7,123.72h3.2M581.9,115.38V123.98M580.3,115.38h3.2M580.3,123.98h3.2M585.5,115.12V123.72M583.9,115.12h3.2M583.9,123.72h3.2M589.1,115.23V123.83M587.5,115.23h3.2M587.5,123.83h3.2M592.7,114.84V123.44M591.1,114.84h3.2M591.1,123.44h3.2M596.3,114.45V123.05M594.7,114.45h3.2M594.7,123.05h3.2M599.9,115.53V124.13M598.3,115.53h3.2M598.3,124.13h3.2M603.5,115.04V123.64M601.9,115.04h3.2M601.9,123.64h3.2M607.1,116.23V124.83M605.5,116.23h3.2M605.5,124.83h3.2" fill="none" stroke="#8c9cff" stroke-width="0.7"/>
<path d="M349.3,121.62a2.2,2.2 0 1,0 4.4,0a2.2,2.2 0 1,0 -4.4,0M352.9,122.9a2.2,2.2 0 1,0 4.4,0a2.2,2.2 0 1,0 -4.4,0M356.5,124a2.2,2.2 0 1,0 4.4,0a2.2,2.2 0 1,0 -4.4,0M360.1,126.76a2.2,2.2 0 1,0 4.4,0a2.2,2.2 0 1,0 -4.4,0M363.7,127.62a2.2,2.2 0 1,0 4.4,0a2.2,2.2 0 1,0 -4.4,0M367.3,130.54a2.2,2.2 0 1,0 4.4,0a2.2,2.2 0 1,0 -4.4,0M370.9,130a2.2,2.2 0 1,0 4.4,0a2.2,2.2 0 1,0 -4.4,0M374.5,126.33a2.2,2.2 0 1,0 4.4,0a2.2,2.2 0 1,0 -4.4,0M378.1,125.09a2.2,2.2 0 1,0 4.4,0a2.2,2.2 0 1,0 -4.4,0M381.7,122.01a2.2,2.2 0 1,0 4.4,0a2.2,2.2 0 1,0 -4.4,0M385.3,119.43a2.2,2.2 0 1,0 4.4,0a2.2,2.2 0 1,0 -4.4,0M388.9,115.35a2.2,2.2 0 1,0 4.4,0a2.2,2.2 0 1,0 -4.4,0M392.5,111.54a2.2,2.2 0 1,0 4.4,0a2.2,2.2 0 1,0 -4.4,0M396.1,108.64a2.2,2.2 0 1,0 4.4,0a2.2,2.2 0 1,0 -4.4,0M399.7,106.45a2.2,2.2 0 1,0 4.4,0a2.2,2.2 0 1,0 -4.4,0M403.3,104.84a2.2,2.2 0 1,0 4.4,0a2.2,2.2 0 1,0 -4.4,0M406.9,102.19a2.2,2.2 0 1,0 4.4,0a2.2,2.2 0 1,0 -4.4,0M410.5,98.63a2.2,2.2 0 1,0 4.4,0a2.2,2.2 0 1,0 -4.4,0M414.1,98.11a2.2,2.2 0 1,0 4.4,0a2.2,2.2 0 1,0 -4.4,0M417.7,96.52a2.2,2.2 0 1,0 4.4,0a2.2,2.2 0 1,0 -4.4,0M421.3,94.46a2.2,2.2 0 1,0 4.4,0a2.2,2.2 0 1,0 -4.4,0M424.9,92.71a2.2,2.2 0 1,0 4.4,0a2.2,2.2 0 1,0 -4.4,0M428.5,89.28a2.2,2.2 0 1,0 4.4,0a2.2,2.2 0 1,0 -4.4,0M432.1,90.75a2.2,2.2 0 1,0 4.4,0a2.2,2.2 0 1,0 -4.4,0M435.7,90a2.2,2.2 0 1,0 4.4,0a2.2,2.2 0 1,0 -4.4,0M439.3,92.54a2.2,2.2 0 1,0 4.4,0a2.2,2.2 0 1,0 -4.4,0M442.9,92.34a2.2,2.2 0 1,0 4.4,0a2.2,2.2 0 1,0 -4.4,0M446.5,95.07a2.2,2.2 0 1,0 4.4,0a2.2,2.2 0 1,0 -4.4,0M450.1,95.28a2.2,2.2 0 1,0 4.4,0a2.2,2.2 0 1,0 -4.4,0M453.7,97.87a2.2,2.2 0 1,0 4.4,0a2.2,2.2 0 1,0 -4.4,0M457.3,98.32a2.2,2.2 0 1,0 4.4,0a2.2,2.2 0 1,0 -4.4,0M460.9,99.3a2.2,2.2 0 1,0 4.4,0a2.2,2.2 0 1,0 -4.4,0M464.5,101.93a2.2,2.2 0 1,0 4.4,0a2.2,2.2 0 1,0 -4.4,0M468.1,103.45a2.2,2.2 0 1,0 4.4,0a2.2,2.2 0 1,0 -4.4,0M471.7,106.67a2.2,2.2 0 1,0 4.4,0a2.2,2.2 0 1,0 -4.4,0M475.3,106.79a2.2,2.2 0 1,0 4.4,0a2.2,2.2 0 1,0 -4.4,0M478.9,109a2.2,2.2 0 1,0 4.4,0a2.2,2.2 0 1,0 -4.4,0M482.5,110.74a2.2,2.2 0 1,0 4.4,0a2.2,2.2 0 1,0 -4.4,0M486.1,113.4a2.2,2.2 0 1,0 4.4,0a2.2,2.2 0 1,0 -4.4,0M489.7,112.64a2.2,2.2 0 1,0 4.4,0a2.2,2.2 0 1,0 -4.4,0M493.3,115.24a2.2,2.2 0 1,0 4.4,0a2.2,2.2 0 1,0 -4.4,0M496.9,116.3a2.2,2.2 0 1,0 4.4,0a2.2,2.2 0 1,0 -4.4,0M500.5,117.72a2.2,2.2 0 1,0 4.4,0a2.2,2.2 0 1,0 -4.4,0M504.1,119.01a2.2,2.2 0 1,0 4.4,0a2.2,2.2 0 1,0 -4.4,0M507.7,117.99a2.2,2.2 0 1,0 4.4,0a2.2,2.2 0 1,0 -4.4,0M511.3,119.37a2.2,2.2 0 1,0 4.4,0a2.2,2.2 0 1,0 -4.4,0M514.9,119.28a2.2,2.2 0 1,0 4.4,0a2.2,2.2 0 1,0 -4.4,0M518.5,119.66a2.2,2.2 0 1,0 4.4,0a2.2,2.2 0 1,0 -4.4,0M522.1,118.37a2.2,2.2 0 1,0 4.4,0a2.2,2.2 0 1,0 -4.4,0M525.7,120.32a2.2,2.2 0 1,0 4.4,0a2.2,2.2 0 1,0 -4.4,0M529.3,120.72a2.2,2.2 0 1,0 4.4,0a2.2,2.2 0 1,0 -4.4,0M532.9,119.07a2.2,2.2 0 1,0 4.4,0a2.2,2.2 0 1,0 -4.4,0M536.5,118.94a2.2,2.2 0 1,0 4.4,0a2.2,2.2 0 1,0 -4.4,0M540.1,120.68a2.2,2.2 0 1,0 4.4,0a2.2,2.2 0 1,0 -4.4,0M543.7,118.38a2.2,2.2 0 1,0 4.4,0a2.2,2.2 0 1,0 -4.4,0M547.3,118.3a2.2,2.2 0 1,0 4.4,0a2.2,2.2 0 1,0 -4.4,0M550.9,118.23a2.2,2.2 0 1,0 4.4,0a2.2,2.2 0 1,0 -4.4,0M554.5,120.08a2.2,2.2 0 1,0 4.4,0a2.2,2.2 0 1,0 -4.4,0M558.1,119.88a2.2,2.2 0 1,0 4.4,0a2.2,2.2 0 1,0 -4.4,0M561.7,119.14a2.2,2.2 0 1,0 4.4,0a2.2,2.2 0 1,0 -4.4,0M565.3,119.67a2.2,2.2 0 1,0 4.4,0a2.2,2.2 0 1,0 -4.4,0M568.9,118.17a2.2,2.2 0 1,0 4.4,0a2.2,2.2 0 1,0 -4.4,0M572.5,119.87a2.2,2.2 0 1,0 4.4,0a2.2,2.2 0 1,0 -4.4,0M576.1,119.42a2.2,2.2 0 1,0 4.4,0a2.2,2.2 0 1,0 -4.4,0M579.7,119.68a2.2,2.2 0 1,0 4.4,0a2.2,2.2 0 1,0 -4.4,0M583.3,119.42a2.2,2.2 0 1,0 4.4,0a2.2,2.2 0 1,0 -4.4,0M586.9,119.53a2.2,2.2 0 1,0 4.4,0a2.2,2.2 0 1,0 -4.4,0M590.5,119.14a2.2,2.2 0 1,0 4.4,0a2.2,2.2 0 1,0 -4.4,0M594.1,118.75a2.2,2.2 0 1,0 4.4,0a2.2,2.2 0 1,0 -4.4,0M597.7,119.83a2.2,2.2 0 1,0 4.4,0a2.2,2.2 0 1,0 -4.4,0M601.3,119.34a2.2,2.2 0 1,0 4.4,0a2.2,2.2 0 1,0 -4.4,0M604.9,120.53a2.2,2.2 0 1,0 4.4,0a2.2,2.2 0 1,0 -4.4,0" fill="#fff" stroke="#3f60ff" stroke-width="0.95"/>
<polyline points="351.2,139.32 352.45,138.71 353.7,135.86 354.95,142.74 356.2,141.6 357.45,142.47 358.7,142.63 359.95,147.62 361.2,146.38 362.45,148.08 363.7,144.2 364.95,144.43 366.2,143.44 367.45,146.57 368.7,141.02 369.95,153.84 371.2,149.84 372.45,150.25 373.7,153.24 374.95,149.99 376.2,152.48 377.45,154.69 378.7,148.03 379.95,158.8 381.2,154.19 382.45,155.95 383.7,151.14 384.95,152.73 386.2,160.2 387.45,153.6 388.7,154.28 389.95,157.33 391.2,160.48 392.45,149.17 393.7,161 394.95,157.44 396.2,159.58 397.45,153.82 398.7,158.13 399.95,162.37 401.2,156.59 402.45,154.46 403.7,154.57 404.95,153.8 406.2,157.43 407.45,155.09 408.7,151.78 409.95,154.08 411.2,146.55 412.45,144.48 413.7,156.08 414.95,147.38 416.2,154.62 417.45,149.5 418.7,149.37 419.95,152.05 421.2,148.12 422.45,148.52 423.7,150.84 424.95,150.64 426.2,154.82 427.45,159.39 428.7,150.43 429.95,152.11 431.2,158.24 432.45,158.55 433.7,161.51 434.95,156.78 436.2,161.54 437.45,160.09 438.7,155.76 439.95,162.79 441.2,157.09 442.45,164.21 443.7,161.69 444.95,163.05 446.2,170.71 447.45,169.17 448.7,166.11 449.95,166.38 451.2,163.11 452.45,169.77 453.7,168.2 454.95,163.94 456.2,161.63 457.45,166.97 458.7,166.58 459.95,170 461.2,164.28 462.45,164.9 463.7,169.12 464.95,168.25 466.2,171.19 467.45,171.98 468.7,165.95 469.95,161.94 471.2,169.37 472.45,167.11 473.7,170.32 474.95,162.69 476.2,169.72 477.45,170.62 478.7,168.88 479.95,172.51 481.2,171.52 482.45,172.2 483.7,175.81 484.95,176.09 486.2,175.81 487.45,173.24 488.7,172.51 489.95,173.83 491.2,173.05 492.45,169.79 493.7,173.29 494.95,174.92 496.2,170.8 497.45,168.67 498.7,173.87 499.95,169.73 501.2,167.48 502.45,171.39 503.7,167.65 504.95,173.27 506.2,170.69 507.45,172.57 508.7,175.91 509.95,175.88 511.2,172.15 512.45,165.48 513.7,171.05 514.95,168.95 516.2,175.4 517.45,177.49 518.7,174.86 519.95,174.74 521.2,174.51 522.45,174.94 523.7,171.72 524.95,175.69 526.2,172 527.45,169.4 528.7,173.19 529.95,178.03 531.2,172.41 532.45,167.43 533.7,176.67 534.95,173.49 536.2,174.36 537.45,171.13 538.7,173.99 539.95,177.42 541.2,170.33 542.45,174.39 543.7,173.26 544.95,169.4 546.2,171.04 547.45,170.64 548.7,163.71 549.95,166.83 551.2,152.6 551.82,143.17 552.44,129.95 553.06,116.44 553.68,100.32 554.3,80 554.92,59.77 555.54,50.9 556.16,54.11 556.78,65.63 557.4,80 558.02,106.17 558.64,141.11 559.26,156.79 559.88,158.79 560.5,160.78 561.12,162.78 561.74,162.72 562.36,159.41 562.98,156.11 563.6,155.6 564.22,155.19 564.84,154.77 565.46,154.36 566.08,152.27 566.7,138.83 567.32,122.83 567.94,96.12 568.56,69 569.18,38 569.8,14.36 570.42,-1.42 571.04,-6 571.66,-1.57 572.28,15.6 572.9,35.56 573.52,70 574.14,100 574.76,128.18 575.38,144.18 576,150.02 577.25,162.08 578.5,162.51 579.75,163.47 581,160.86 582.25,161.11 583.5,156.91 584.75,163.96 586,163.89 587.25,166.26 588.5,167.95 589.75,165.65 591,164.34 592.25,168.82 593.5,166.11 594.75,166.43 596,163.25 597.25,170.52 598.5,165.55 599.75,174.01 601,165.7 602.25,167.23 603.5,169.36 604.75,167.27 606,165.28 607.25,166.55" fill="none" stroke="#ff9a9a" stroke-width="0.9" stroke-linejoin="round" />
<polyline points="351.65,139.83 352.9,139.9 354.15,137.64 355.4,138.69 356.65,144.91 357.9,140.83 359.15,142.64 360.4,143.2 361.65,144.63 362.9,146.5 364.15,145.88 365.4,144.65 366.65,148.43 367.9,152.51 369.15,150.22 370.4,148.05 371.65,158.76 372.9,150.39 374.15,153.58 375.4,152.41 376.65,156.19 377.9,155.72 379.15,152.3 380.4,159.17 381.65,157.73 382.9,152.99 384.15,154.17 385.4,153.99 386.65,160.66 387.9,158.25 389.15,158.49 390.4,160.99 391.65,162.48 392.9,158.67 394.15,159.55 395.4,158.23 396.65,158.44 397.9,158.88 399.15,158.35 400.4,160.72 401.65,161.86 402.9,154.78 404.15,159.51 405.4,156.18 406.65,156.05 407.9,152.03 409.15,148.4 410.4,152.73 411.65,149.8 412.9,149.48 414.15,150.68 415.4,148.31 416.65,152.7 417.9,155.9 419.15,155.35 420.4,153.63 421.65,152.85 422.9,153.33 424.15,153.02 425.4,153.24 426.65,153.43 427.9,153.6 429.15,163.49 430.4,159.36 431.65,159.88 432.9,159.98 434.15,158.15 435.4,161.08 436.65,158.43 437.9,161.54 439.15,159.44 440.4,161.48 441.65,163.11 442.9,166.08 444.15,163.61 445.4,162.21 446.65,159 447.9,164.87 449.15,168.33 450.4,166.42 451.65,165.71 452.9,166.52 454.15,167.27 455.4,164.5 456.65,166.76 457.9,169.38 459.15,168.61 460.4,167.65 461.65,169.9 462.9,163.95 464.15,171.74 465.4,165.55 466.65,166.35 467.9,171.64 469.15,169.56 470.4,168.61 471.65,171.75 472.9,165.87 474.15,172.05 475.4,176.79 476.65,169.99 477.9,170.63 479.15,170.27 480.4,174.41 481.65,175.05 482.9,172.19 484.15,169.35 485.4,172.89 486.65,172.14 487.9,167.98 489.15,177.72 490.4,170.74 491.65,176.3 492.9,166.81 494.15,173.97 495.4,169.29 496.65,174.87 497.9,173.32 499.15,166.4 500.4,166.79 501.65,169.9 502.9,168.98 504.15,175.74 505.4,174.35 506.65,173.79 507.9,172.64 509.15,176.84 510.4,173.61 511.65,176.02 512.9,171.03 514.15,176.53 515.4,175 516.65,174.64 517.9,176.65 519.15,169.52 520.4,166.43 521.65,173.79 522.9,174.59 524.15,172.32 525.4,173.9 526.65,176.7 527.9,171.57 529.15,175.57 530.4,175.02 531.65,178.96 532.9,177.15 534.15,172.59 535.4,172.8 536.65,172.4 537.9,169.88 539.15,169.4 540.4,168.22 541.65,175.47 542.9,173.79 544.15,174.04 545.4,170.83 546.65,169.82 547.9,172.48 549.15,170.14 550.4,161.44 551.65,147 552.27,134.6 552.89,122.2 553.51,104.7 554.13,84.58 554.75,61.36 555.37,47.49 555.99,43 556.61,49.34 557.23,64.9 557.85,92.5 558.47,131.33 559.09,153.56 559.71,158.68 560.33,161.22 560.95,163.75 561.57,165.58 562.19,161.86 562.81,158.14 563.43,156.71 564.05,156.3 564.67,155.89 565.29,155.47 565.91,155.06 566.53,143.96 567.15,131.04 567.77,103.69 568.39,75.08 569.01,44.5 569.63,16.93 570.25,2.27 570.87,-6 571.49,-6 572.11,15.96 572.73,42.78 573.35,77.22 573.97,105.91 574.59,131.98 575.21,145.62 575.83,153.32 576.45,158.05 577.7,152.52 578.95,163.16 580.2,159.73 581.45,159.81 582.7,164.43 583.95,158.57 585.2,158.04 586.45,166.24 587.7,167.31 588.95,162.72 590.2,165.73 591.45,168.05 592.7,170.16 593.95,162.37 595.2,164.3 596.45,166.78 597.7,170.62 598.95,168.58 600.2,169.46 601.45,171.19 602.7,171.92 603.95,171.3 605.2,166.4 606.45,170.06" fill="none" stroke="#9a9aff" stroke-width="0.9" stroke-linejoin="round" />
<path d="M351.2,139.32m-1.05,0a1.05,1.05 0 1,0 2.1,0a1.05,1.05 0 1,0 -2.1,0M352.45,138.71m-1.05,0a1.05,1.05 0 1,0 2.1,0a1.05,1.05 0 1,0 -2.1,0M353.7,135.86m-1.05,0a1.05,1.05 0 1,0 2.1,0a1.05,1.05 0 1,0 -2.1,0M354.95,142.74m-1.05,0a1.05,1.05 0 1,0 2.1,0a1.05,1.05 0 1,0 -2.1,0M356.2,141.6m-1.05,0a1.05,1.05 0 1,0 2.1,0a1.05,1.05 0 1,0 -2.1,0M357.45,142.47m-1.05,0a1.05,1.05 0 1,0 2.1,0a1.05,1.05 0 1,0 -2.1,0M358.7,142.63m-1.05,0a1.05,1.05 0 1,0 2.1,0a1.05,1.05 0 1,0 -2.1,0M359.95,147.62m-1.05,0a1.05,1.05 0 1,0 2.1,0a1.05,1.05 0 1,0 -2.1,0M361.2,146.38m-1.05,0a1.05,1.05 0 1,0 2.1,0a1.05,1.05 0 1,0 -2.1,0M362.45,148.08m-1.05,0a1.05,1.05 0 1,0 2.1,0a1.05,1.05 0 1,0 -2.1,0M363.7,144.2m-1.05,0a1.05,1.05 0 1,0 2.1,0a1.05,1.05 0 1,0 -2.1,0M364.95,144.43m-1.05,0a1.05,1.05 0 1,0 2.1,0a1.05,1.05 0 1,0 -2.1,0M366.2,143.44m-1.05,0a1.05,1.05 0 1,0 2.1,0a1.05,1.05 0 1,0 -2.1,0M367.45,146.57m-1.05,0a1.05,1.05 0 1,0 2.1,0a1.05,1.05 0 1,0 -2.1,0M368.7,141.02m-1.05,0a1.05,1.05 0 1,0 2.1,0a1.05,1.05 0 1,0 -2.1,0M369.95,153.84m-1.05,0a1.05,1.05 0 1,0 2.1,0a1.05,1.05 0 1,0 -2.1,0M371.2,149.84m-1.05,0a1.05,1.05 0 1,0 2.1,0a1.05,1.05 0 1,0 -2.1,0M372.45,150.25m-1.05,0a1.05,1.05 0 1,0 2.1,0a1.05,1.05 0 1,0 -2.1,0M373.7,153.24m-1.05,0a1.05,1.05 0 1,0 2.1,0a1.05,1.05 0 1,0 -2.1,0M374.95,149.99m-1.05,0a1.05,1.05 0 1,0 2.1,0a1.05,1.05 0 1,0 -2.1,0M376.2,152.48m-1.05,0a1.05,1.05 0 1,0 2.1,0a1.05,1.05 0 1,0 -2.1,0M377.45,154.69m-1.05,0a1.05,1.05 0 1,0 2.1,0a1.05,1.05 0 1,0 -2.1,0M378.7,148.03m-1.05,0a1.05,1.05 0 1,0 2.1,0a1.05,1.05 0 1,0 -2.1,0M379.95,158.8m-1.05,0a1.05,1.05 0 1,0 2.1,0a1.05,1.05 0 1,0 -2.1,0M381.2,154.19m-1.05,0a1.05,1.05 0 1,0 2.1,0a1.05,1.05 0 1,0 -2.1,0M382.45,155.95m-1.05,0a1.05,1.05 0 1,0 2.1,0a1.05,1.05 0 1,0 -2.1,0M383.7,151.14m-1.05,0a1.05,1.05 0 1,0 2.1,0a1.05,1.05 0 1,0 -2.1,0M384.95,152.73m-1.05,0a1.05,1.05 0 1,0 2.1,0a1.05,1.05 0 1,0 -2.1,0M386.2,160.2m-1.05,0a1.05,1.05 0 1,0 2.1,0a1.05,1.05 0 1,0 -2.1,0M387.45,153.6m-1.05,0a1.05,1.05 0 1,0 2.1,0a1.05,1.05 0 1,0 -2.1,0M388.7,154.28m-1.05,0a1.05,1.05 0 1,0 2.1,0a1.05,1.05 0 1,0 -2.1,0M389.95,157.33m-1.05,0a1.05,1.05 0 1,0 2.1,0a1.05,1.05 0 1,0 -2.1,0M391.2,160.48m-1.05,0a1.05,1.05 0 1,0 2.1,0a1.05,1.05 0 1,0 -2.1,0M392.45,149.17m-1.05,0a1.05,1.05 0 1,0 2.1,0a1.05,1.05 0 1,0 -2.1,0M393.7,161m-1.05,0a1.05,1.05 0 1,0 2.1,0a1.05,1.05 0 1,0 -2.1,0M394.95,157.44m-1.05,0a1.05,1.05 0 1,0 2.1,0a1.05,1.05 0 1,0 -2.1,0M396.2,159.58m-1.05,0a1.05,1.05 0 1,0 2.1,0a1.05,1.05 0 1,0 -2.1,0M397.45,153.82m-1.05,0a1.05,1.05 0 1,0 2.1,0a1.05,1.05 0 1,0 -2.1,0M398.7,158.13m-1.05,0a1.05,1.05 0 1,0 2.1,0a1.05,1.05 0 1,0 -2.1,0M399.95,162.37m-1.05,0a1.05,1.05 0 1,0 2.1,0a1.05,1.05 0 1,0 -2.1,0M401.2,156.59m-1.05,0a1.05,1.05 0 1,0 2.1,0a1.05,1.05 0 1,0 -2.1,0M402.45,154.46m-1.05,0a1.05,1.05 0 1,0 2.1,0a1.05,1.05 0 1,0 -2.1,0M403.7,154.57m-1.05,0a1.05,1.05 0 1,0 2.1,0a1.05,1.05 0 1,0 -2.1,0M404.95,153.8m-1.05,0a1.05,1.05 0 1,0 2.1,0a1.05,1.05 0 1,0 -2.1,0M406.2,157.43m-1.05,0a1.05,1.05 0 1,0 2.1,0a1.05,1.05 0 1,0 -2.1,0M407.45,155.09m-1.05,0a1.05,1.05 0 1,0 2.1,0a1.05,1.05 0 1,0 -2.1,0M408.7,151.78m-1.05,0a1.05,1.05 0 1,0 2.1,0a1.05,1.05 0 1,0 -2.1,0M409.95,154.08m-1.05,0a1.05,1.05 0 1,0 2.1,0a1.05,1.05 0 1,0 -2.1,0M411.2,146.55m-1.05,0a1.05,1.05 0 1,0 2.1,0a1.05,1.05 0 1,0 -2.1,0M412.45,144.48m-1.05,0a1.05,1.05 0 1,0 2.1,0a1.05,1.05 0 1,0 -2.1,0M413.7,156.08m-1.05,0a1.05,1.05 0 1,0 2.1,0a1.05,1.05 0 1,0 -2.1,0M414.95,147.38m-1.05,0a1.05,1.05 0 1,0 2.1,0a1.05,1.05 0 1,0 -2.1,0M416.2,154.62m-1.05,0a1.05,1.05 0 1,0 2.1,0a1.05,1.05 0 1,0 -2.1,0M417.45,149.5m-1.05,0a1.05,1.05 0 1,0 2.1,0a1.05,1.05 0 1,0 -2.1,0M418.7,149.37m-1.05,0a1.05,1.05 0 1,0 2.1,0a1.05,1.05 0 1,0 -2.1,0M419.95,152.05m-1.05,0a1.05,1.05 0 1,0 2.1,0a1.05,1.05 0 1,0 -2.1,0M421.2,148.12m-1.05,0a1.05,1.05 0 1,0 2.1,0a1.05,1.05 0 1,0 -2.1,0M422.45,148.52m-1.05,0a1.05,1.05 0 1,0 2.1,0a1.05,1.05 0 1,0 -2.1,0M423.7,150.84m-1.05,0a1.05,1.05 0 1,0 2.1,0a1.05,1.05 0 1,0 -2.1,0M424.95,150.64m-1.05,0a1.05,1.05 0 1,0 2.1,0a1.05,1.05 0 1,0 -2.1,0M426.2,154.82m-1.05,0a1.05,1.05 0 1,0 2.1,0a1.05,1.05 0 1,0 -2.1,0M427.45,159.39m-1.05,0a1.05,1.05 0 1,0 2.1,0a1.05,1.05 0 1,0 -2.1,0M428.7,150.43m-1.05,0a1.05,1.05 0 1,0 2.1,0a1.05,1.05 0 1,0 -2.1,0M429.95,152.11m-1.05,0a1.05,1.05 0 1,0 2.1,0a1.05,1.05 0 1,0 -2.1,0M431.2,158.24m-1.05,0a1.05,1.05 0 1,0 2.1,0a1.05,1.05 0 1,0 -2.1,0M432.45,158.55m-1.05,0a1.05,1.05 0 1,0 2.1,0a1.05,1.05 0 1,0 -2.1,0M433.7,161.51m-1.05,0a1.05,1.05 0 1,0 2.1,0a1.05,1.05 0 1,0 -2.1,0M434.95,156.78m-1.05,0a1.05,1.05 0 1,0 2.1,0a1.05,1.05 0 1,0 -2.1,0M436.2,161.54m-1.05,0a1.05,1.05 0 1,0 2.1,0a1.05,1.05 0 1,0 -2.1,0M437.45,160.09m-1.05,0a1.05,1.05 0 1,0 2.1,0a1.05,1.05 0 1,0 -2.1,0M438.7,155.76m-1.05,0a1.05,1.05 0 1,0 2.1,0a1.05,1.05 0 1,0 -2.1,0M439.95,162.79m-1.05,0a1.05,1.05 0 1,0 2.1,0a1.05,1.05 0 1,0 -2.1,0M441.2,157.09m-1.05,0a1.05,1.05 0 1,0 2.1,0a1.05,1.05 0 1,0 -2.1,0M442.45,164.21m-1.05,0a1.05,1.05 0 1,0 2.1,0a1.05,1.05 0 1,0 -2.1,0M443.7,161.69m-1.05,0a1.05,1.05 0 1,0 2.1,0a1.05,1.05 0 1,0 -2.1,0M444.95,163.05m-1.05,0a1.05,1.05 0 1,0 2.1,0a1.05,1.05 0 1,0 -2.1,0M446.2,170.71m-1.05,0a1.05,1.05 0 1,0 2.1,0a1.05,1.05 0 1,0 -2.1,0M447.45,169.17m-1.05,0a1.05,1.05 0 1,0 2.1,0a1.05,1.05 0 1,0 -2.1,0M448.7,166.11m-1.05,0a1.05,1.05 0 1,0 2.1,0a1.05,1.05 0 1,0 -2.1,0M449.95,166.38m-1.05,0a1.05,1.05 0 1,0 2.1,0a1.05,1.05 0 1,0 -2.1,0M451.2,163.11m-1.05,0a1.05,1.05 0 1,0 2.1,0a1.05,1.05 0 1,0 -2.1,0M452.45,169.77m-1.05,0a1.05,1.05 0 1,0 2.1,0a1.05,1.05 0 1,0 -2.1,0M453.7,168.2m-1.05,0a1.05,1.05 0 1,0 2.1,0a1.05,1.05 0 1,0 -2.1,0M454.95,163.94m-1.05,0a1.05,1.05 0 1,0 2.1,0a1.05,1.05 0 1,0 -2.1,0M456.2,161.63m-1.05,0a1.05,1.05 0 1,0 2.1,0a1.05,1.05 0 1,0 -2.1,0M457.45,166.97m-1.05,0a1.05,1.05 0 1,0 2.1,0a1.05,1.05 0 1,0 -2.1,0M458.7,166.58m-1.05,0a1.05,1.05 0 1,0 2.1,0a1.05,1.05 0 1,0 -2.1,0M459.95,170m-1.05,0a1.05,1.05 0 1,0 2.1,0a1.05,1.05 0 1,0 -2.1,0M461.2,164.28m-1.05,0a1.05,1.05 0 1,0 2.1,0a1.05,1.05 0 1,0 -2.1,0M462.45,164.9m-1.05,0a1.05,1.05 0 1,0 2.1,0a1.05,1.05 0 1,0 -2.1,0M463.7,169.12m-1.05,0a1.05,1.05 0 1,0 2.1,0a1.05,1.05 0 1,0 -2.1,0M464.95,168.25m-1.05,0a1.05,1.05 0 1,0 2.1,0a1.05,1.05 0 1,0 -2.1,0M466.2,171.19m-1.05,0a1.05,1.05 0 1,0 2.1,0a1.05,1.05 0 1,0 -2.1,0M467.45,171.98m-1.05,0a1.05,1.05 0 1,0 2.1,0a1.05,1.05 0 1,0 -2.1,0M468.7,165.95m-1.05,0a1.05,1.05 0 1,0 2.1,0a1.05,1.05 0 1,0 -2.1,0M469.95,161.94m-1.05,0a1.05,1.05 0 1,0 2.1,0a1.05,1.05 0 1,0 -2.1,0M471.2,169.37m-1.05,0a1.05,1.05 0 1,0 2.1,0a1.05,1.05 0 1,0 -2.1,0M472.45,167.11m-1.05,0a1.05,1.05 0 1,0 2.1,0a1.05,1.05 0 1,0 -2.1,0M473.7,170.32m-1.05,0a1.05,1.05 0 1,0 2.1,0a1.05,1.05 0 1,0 -2.1,0M474.95,162.69m-1.05,0a1.05,1.05 0 1,0 2.1,0a1.05,1.05 0 1,0 -2.1,0M476.2,169.72m-1.05,0a1.05,1.05 0 1,0 2.1,0a1.05,1.05 0 1,0 -2.1,0M477.45,170.62m-1.05,0a1.05,1.05 0 1,0 2.1,0a1.05,1.05 0 1,0 -2.1,0M478.7,168.88m-1.05,0a1.05,1.05 0 1,0 2.1,0a1.05,1.05 0 1,0 -2.1,0M479.95,172.51m-1.05,0a1.05,1.05 0 1,0 2.1,0a1.05,1.05 0 1,0 -2.1,0M481.2,171.52m-1.05,0a1.05,1.05 0 1,0 2.1,0a1.05,1.05 0 1,0 -2.1,0M482.45,172.2m-1.05,0a1.05,1.05 0 1,0 2.1,0a1.05,1.05 0 1,0 -2.1,0M483.7,175.81m-1.05,0a1.05,1.05 0 1,0 2.1,0a1.05,1.05 0 1,0 -2.1,0M484.95,176.09m-1.05,0a1.05,1.05 0 1,0 2.1,0a1.05,1.05 0 1,0 -2.1,0M486.2,175.81m-1.05,0a1.05,1.05 0 1,0 2.1,0a1.05,1.05 0 1,0 -2.1,0M487.45,173.24m-1.05,0a1.05,1.05 0 1,0 2.1,0a1.05,1.05 0 1,0 -2.1,0M488.7,172.51m-1.05,0a1.05,1.05 0 1,0 2.1,0a1.05,1.05 0 1,0 -2.1,0M489.95,173.83m-1.05,0a1.05,1.05 0 1,0 2.1,0a1.05,1.05 0 1,0 -2.1,0M491.2,173.05m-1.05,0a1.05,1.05 0 1,0 2.1,0a1.05,1.05 0 1,0 -2.1,0M492.45,169.79m-1.05,0a1.05,1.05 0 1,0 2.1,0a1.05,1.05 0 1,0 -2.1,0M493.7,173.29m-1.05,0a1.05,1.05 0 1,0 2.1,0a1.05,1.05 0 1,0 -2.1,0M494.95,174.92m-1.05,0a1.05,1.05 0 1,0 2.1,0a1.05,1.05 0 1,0 -2.1,0M496.2,170.8m-1.05,0a1.05,1.05 0 1,0 2.1,0a1.05,1.05 0 1,0 -2.1,0M497.45,168.67m-1.05,0a1.05,1.05 0 1,0 2.1,0a1.05,1.05 0 1,0 -2.1,0M498.7,173.87m-1.05,0a1.05,1.05 0 1,0 2.1,0a1.05,1.05 0 1,0 -2.1,0M499.95,169.73m-1.05,0a1.05,1.05 0 1,0 2.1,0a1.05,1.05 0 1,0 -2.1,0M501.2,167.48m-1.05,0a1.05,1.05 0 1,0 2.1,0a1.05,1.05 0 1,0 -2.1,0M502.45,171.39m-1.05,0a1.05,1.05 0 1,0 2.1,0a1.05,1.05 0 1,0 -2.1,0M503.7,167.65m-1.05,0a1.05,1.05 0 1,0 2.1,0a1.05,1.05 0 1,0 -2.1,0M504.95,173.27m-1.05,0a1.05,1.05 0 1,0 2.1,0a1.05,1.05 0 1,0 -2.1,0M506.2,170.69m-1.05,0a1.05,1.05 0 1,0 2.1,0a1.05,1.05 0 1,0 -2.1,0M507.45,172.57m-1.05,0a1.05,1.05 0 1,0 2.1,0a1.05,1.05 0 1,0 -2.1,0M508.7,175.91m-1.05,0a1.05,1.05 0 1,0 2.1,0a1.05,1.05 0 1,0 -2.1,0M509.95,175.88m-1.05,0a1.05,1.05 0 1,0 2.1,0a1.05,1.05 0 1,0 -2.1,0M511.2,172.15m-1.05,0a1.05,1.05 0 1,0 2.1,0a1.05,1.05 0 1,0 -2.1,0M512.45,165.48m-1.05,0a1.05,1.05 0 1,0 2.1,0a1.05,1.05 0 1,0 -2.1,0M513.7,171.05m-1.05,0a1.05,1.05 0 1,0 2.1,0a1.05,1.05 0 1,0 -2.1,0M514.95,168.95m-1.05,0a1.05,1.05 0 1,0 2.1,0a1.05,1.05 0 1,0 -2.1,0M516.2,175.4m-1.05,0a1.05,1.05 0 1,0 2.1,0a1.05,1.05 0 1,0 -2.1,0M517.45,177.49m-1.05,0a1.05,1.05 0 1,0 2.1,0a1.05,1.05 0 1,0 -2.1,0M518.7,174.86m-1.05,0a1.05,1.05 0 1,0 2.1,0a1.05,1.05 0 1,0 -2.1,0M519.95,174.74m-1.05,0a1.05,1.05 0 1,0 2.1,0a1.05,1.05 0 1,0 -2.1,0M521.2,174.51m-1.05,0a1.05,1.05 0 1,0 2.1,0a1.05,1.05 0 1,0 -2.1,0M522.45,174.94m-1.05,0a1.05,1.05 0 1,0 2.1,0a1.05,1.05 0 1,0 -2.1,0M523.7,171.72m-1.05,0a1.05,1.05 0 1,0 2.1,0a1.05,1.05 0 1,0 -2.1,0M524.95,175.69m-1.05,0a1.05,1.05 0 1,0 2.1,0a1.05,1.05 0 1,0 -2.1,0M526.2,172m-1.05,0a1.05,1.05 0 1,0 2.1,0a1.05,1.05 0 1,0 -2.1,0M527.45,169.4m-1.05,0a1.05,1.05 0 1,0 2.1,0a1.05,1.05 0 1,0 -2.1,0M528.7,173.19m-1.05,0a1.05,1.05 0 1,0 2.1,0a1.05,1.05 0 1,0 -2.1,0M529.95,178.03m-1.05,0a1.05,1.05 0 1,0 2.1,0a1.05,1.05 0 1,0 -2.1,0M531.2,172.41m-1.05,0a1.05,1.05 0 1,0 2.1,0a1.05,1.05 0 1,0 -2.1,0M532.45,167.43m-1.05,0a1.05,1.05 0 1,0 2.1,0a1.05,1.05 0 1,0 -2.1,0M533.7,176.67m-1.05,0a1.05,1.05 0 1,0 2.1,0a1.05,1.05 0 1,0 -2.1,0M534.95,173.49m-1.05,0a1.05,1.05 0 1,0 2.1,0a1.05,1.05 0 1,0 -2.1,0M536.2,174.36m-1.05,0a1.05,1.05 0 1,0 2.1,0a1.05,1.05 0 1,0 -2.1,0M537.45,171.13m-1.05,0a1.05,1.05 0 1,0 2.1,0a1.05,1.05 0 1,0 -2.1,0M538.7,173.99m-1.05,0a1.05,1.05 0 1,0 2.1,0a1.05,1.05 0 1,0 -2.1,0M539.95,177.42m-1.05,0a1.05,1.05 0 1,0 2.1,0a1.05,1.05 0 1,0 -2.1,0M541.2,170.33m-1.05,0a1.05,1.05 0 1,0 2.1,0a1.05,1.05 0 1,0 -2.1,0M542.45,174.39m-1.05,0a1.05,1.05 0 1,0 2.1,0a1.05,1.05 0 1,0 -2.1,0M543.7,173.26m-1.05,0a1.05,1.05 0 1,0 2.1,0a1.05,1.05 0 1,0 -2.1,0M544.95,169.4m-1.05,0a1.05,1.05 0 1,0 2.1,0a1.05,1.05 0 1,0 -2.1,0M546.2,171.04m-1.05,0a1.05,1.05 0 1,0 2.1,0a1.05,1.05 0 1,0 -2.1,0M547.45,170.64m-1.05,0a1.05,1.05 0 1,0 2.1,0a1.05,1.05 0 1,0 -2.1,0M548.7,163.71m-1.05,0a1.05,1.05 0 1,0 2.1,0a1.05,1.05 0 1,0 -2.1,0M549.95,166.83m-1.05,0a1.05,1.05 0 1,0 2.1,0a1.05,1.05 0 1,0 -2.1,0M551.2,152.6m-1.05,0a1.05,1.05 0 1,0 2.1,0a1.05,1.05 0 1,0 -2.1,0M551.82,143.17m-1.05,0a1.05,1.05 0 1,0 2.1,0a1.05,1.05 0 1,0 -2.1,0M552.44,129.95m-1.05,0a1.05,1.05 0 1,0 2.1,0a1.05,1.05 0 1,0 -2.1,0M553.06,116.44m-1.05,0a1.05,1.05 0 1,0 2.1,0a1.05,1.05 0 1,0 -2.1,0M553.68,100.32m-1.05,0a1.05,1.05 0 1,0 2.1,0a1.05,1.05 0 1,0 -2.1,0M554.3,80m-1.05,0a1.05,1.05 0 1,0 2.1,0a1.05,1.05 0 1,0 -2.1,0M554.92,59.77m-1.05,0a1.05,1.05 0 1,0 2.1,0a1.05,1.05 0 1,0 -2.1,0M555.54,50.9m-1.05,0a1.05,1.05 0 1,0 2.1,0a1.05,1.05 0 1,0 -2.1,0M556.16,54.11m-1.05,0a1.05,1.05 0 1,0 2.1,0a1.05,1.05 0 1,0 -2.1,0M556.78,65.63m-1.05,0a1.05,1.05 0 1,0 2.1,0a1.05,1.05 0 1,0 -2.1,0M557.4,80m-1.05,0a1.05,1.05 0 1,0 2.1,0a1.05,1.05 0 1,0 -2.1,0M558.02,106.17m-1.05,0a1.05,1.05 0 1,0 2.1,0a1.05,1.05 0 1,0 -2.1,0M558.64,141.11m-1.05,0a1.05,1.05 0 1,0 2.1,0a1.05,1.05 0 1,0 -2.1,0M559.26,156.79m-1.05,0a1.05,1.05 0 1,0 2.1,0a1.05,1.05 0 1,0 -2.1,0M559.88,158.79m-1.05,0a1.05,1.05 0 1,0 2.1,0a1.05,1.05 0 1,0 -2.1,0M560.5,160.78m-1.05,0a1.05,1.05 0 1,0 2.1,0a1.05,1.05 0 1,0 -2.1,0M561.12,162.78m-1.05,0a1.05,1.05 0 1,0 2.1,0a1.05,1.05 0 1,0 -2.1,0M561.74,162.72m-1.05,0a1.05,1.05 0 1,0 2.1,0a1.05,1.05 0 1,0 -2.1,0M562.36,159.41m-1.05,0a1.05,1.05 0 1,0 2.1,0a1.05,1.05 0 1,0 -2.1,0M562.98,156.11m-1.05,0a1.05,1.05 0 1,0 2.1,0a1.05,1.05 0 1,0 -2.1,0M563.6,155.6m-1.05,0a1.05,1.05 0 1,0 2.1,0a1.05,1.05 0 1,0 -2.1,0M564.22,155.19m-1.05,0a1.05,1.05 0 1,0 2.1,0a1.05,1.05 0 1,0 -2.1,0M564.84,154.77m-1.05,0a1.05,1.05 0 1,0 2.1,0a1.05,1.05 0 1,0 -2.1,0M565.46,154.36m-1.05,0a1.05,1.05 0 1,0 2.1,0a1.05,1.05 0 1,0 -2.1,0M566.08,152.27m-1.05,0a1.05,1.05 0 1,0 2.1,0a1.05,1.05 0 1,0 -2.1,0M566.7,138.83m-1.05,0a1.05,1.05 0 1,0 2.1,0a1.05,1.05 0 1,0 -2.1,0M567.32,122.83m-1.05,0a1.05,1.05 0 1,0 2.1,0a1.05,1.05 0 1,0 -2.1,0M567.94,96.12m-1.05,0a1.05,1.05 0 1,0 2.1,0a1.05,1.05 0 1,0 -2.1,0M568.56,69m-1.05,0a1.05,1.05 0 1,0 2.1,0a1.05,1.05 0 1,0 -2.1,0M569.18,38m-1.05,0a1.05,1.05 0 1,0 2.1,0a1.05,1.05 0 1,0 -2.1,0M569.8,14.36m-1.05,0a1.05,1.05 0 1,0 2.1,0a1.05,1.05 0 1,0 -2.1,0M570.42,-1.42m-1.05,0a1.05,1.05 0 1,0 2.1,0a1.05,1.05 0 1,0 -2.1,0M571.04,-6m-1.05,0a1.05,1.05 0 1,0 2.1,0a1.05,1.05 0 1,0 -2.1,0M571.66,-1.57m-1.05,0a1.05,1.05 0 1,0 2.1,0a1.05,1.05 0 1,0 -2.1,0M572.28,15.6m-1.05,0a1.05,1.05 0 1,0 2.1,0a1.05,1.05 0 1,0 -2.1,0M572.9,35.56m-1.05,0a1.05,1.05 0 1,0 2.1,0a1.05,1.05 0 1,0 -2.1,0M573.52,70m-1.05,0a1.05,1.05 0 1,0 2.1,0a1.05,1.05 0 1,0 -2.1,0M574.14,100m-1.05,0a1.05,1.05 0 1,0 2.1,0a1.05,1.05 0 1,0 -2.1,0M574.76,128.18m-1.05,0a1.05,1.05 0 1,0 2.1,0a1.05,1.05 0 1,0 -2.1,0M575.38,144.18m-1.05,0a1.05,1.05 0 1,0 2.1,0a1.05,1.05 0 1,0 -2.1,0M576,150.02m-1.05,0a1.05,1.05 0 1,0 2.1,0a1.05,1.05 0 1,0 -2.1,0M577.25,162.08m-1.05,0a1.05,1.05 0 1,0 2.1,0a1.05,1.05 0 1,0 -2.1,0M578.5,162.51m-1.05,0a1.05,1.05 0 1,0 2.1,0a1.05,1.05 0 1,0 -2.1,0M579.75,163.47m-1.05,0a1.05,1.05 0 1,0 2.1,0a1.05,1.05 0 1,0 -2.1,0M581,160.86m-1.05,0a1.05,1.05 0 1,0 2.1,0a1.05,1.05 0 1,0 -2.1,0M582.25,161.11m-1.05,0a1.05,1.05 0 1,0 2.1,0a1.05,1.05 0 1,0 -2.1,0M583.5,156.91m-1.05,0a1.05,1.05 0 1,0 2.1,0a1.05,1.05 0 1,0 -2.1,0M584.75,163.96m-1.05,0a1.05,1.05 0 1,0 2.1,0a1.05,1.05 0 1,0 -2.1,0M586,163.89m-1.05,0a1.05,1.05 0 1,0 2.1,0a1.05,1.05 0 1,0 -2.1,0M587.25,166.26m-1.05,0a1.05,1.05 0 1,0 2.1,0a1.05,1.05 0 1,0 -2.1,0M588.5,167.95m-1.05,0a1.05,1.05 0 1,0 2.1,0a1.05,1.05 0 1,0 -2.1,0M589.75,165.65m-1.05,0a1.05,1.05 0 1,0 2.1,0a1.05,1.05 0 1,0 -2.1,0M591,164.34m-1.05,0a1.05,1.05 0 1,0 2.1,0a1.05,1.05 0 1,0 -2.1,0M592.25,168.82m-1.05,0a1.05,1.05 0 1,0 2.1,0a1.05,1.05 0 1,0 -2.1,0M593.5,166.11m-1.05,0a1.05,1.05 0 1,0 2.1,0a1.05,1.05 0 1,0 -2.1,0M594.75,166.43m-1.05,0a1.05,1.05 0 1,0 2.1,0a1.05,1.05 0 1,0 -2.1,0M596,163.25m-1.05,0a1.05,1.05 0 1,0 2.1,0a1.05,1.05 0 1,0 -2.1,0M597.25,170.52m-1.05,0a1.05,1.05 0 1,0 2.1,0a1.05,1.05 0 1,0 -2.1,0M598.5,165.55m-1.05,0a1.05,1.05 0 1,0 2.1,0a1.05,1.05 0 1,0 -2.1,0M599.75,174.01m-1.05,0a1.05,1.05 0 1,0 2.1,0a1.05,1.05 0 1,0 -2.1,0M601,165.7m-1.05,0a1.05,1.05 0 1,0 2.1,0a1.05,1.05 0 1,0 -2.1,0M602.25,167.23m-1.05,0a1.05,1.05 0 1,0 2.1,0a1.05,1.05 0 1,0 -2.1,0M603.5,169.36m-1.05,0a1.05,1.05 0 1,0 2.1,0a1.05,1.05 0 1,0 -2.1,0M604.75,167.27m-1.05,0a1.05,1.05 0 1,0 2.1,0a1.05,1.05 0 1,0 -2.1,0M606,165.28m-1.05,0a1.05,1.05 0 1,0 2.1,0a1.05,1.05 0 1,0 -2.1,0M607.25,166.55m-1.05,0a1.05,1.05 0 1,0 2.1,0a1.05,1.05 0 1,0 -2.1,0" fill="#ff2a2a"/>
<path d="M351.65,139.83m-1.05,0a1.05,1.05 0 1,0 2.1,0a1.05,1.05 0 1,0 -2.1,0M352.9,139.9m-1.05,0a1.05,1.05 0 1,0 2.1,0a1.05,1.05 0 1,0 -2.1,0M354.15,137.64m-1.05,0a1.05,1.05 0 1,0 2.1,0a1.05,1.05 0 1,0 -2.1,0M355.4,138.69m-1.05,0a1.05,1.05 0 1,0 2.1,0a1.05,1.05 0 1,0 -2.1,0M356.65,144.91m-1.05,0a1.05,1.05 0 1,0 2.1,0a1.05,1.05 0 1,0 -2.1,0M357.9,140.83m-1.05,0a1.05,1.05 0 1,0 2.1,0a1.05,1.05 0 1,0 -2.1,0M359.15,142.64m-1.05,0a1.05,1.05 0 1,0 2.1,0a1.05,1.05 0 1,0 -2.1,0M360.4,143.2m-1.05,0a1.05,1.05 0 1,0 2.1,0a1.05,1.05 0 1,0 -2.1,0M361.65,144.63m-1.05,0a1.05,1.05 0 1,0 2.1,0a1.05,1.05 0 1,0 -2.1,0M362.9,146.5m-1.05,0a1.05,1.05 0 1,0 2.1,0a1.05,1.05 0 1,0 -2.1,0M364.15,145.88m-1.05,0a1.05,1.05 0 1,0 2.1,0a1.05,1.05 0 1,0 -2.1,0M365.4,144.65m-1.05,0a1.05,1.05 0 1,0 2.1,0a1.05,1.05 0 1,0 -2.1,0M366.65,148.43m-1.05,0a1.05,1.05 0 1,0 2.1,0a1.05,1.05 0 1,0 -2.1,0M367.9,152.51m-1.05,0a1.05,1.05 0 1,0 2.1,0a1.05,1.05 0 1,0 -2.1,0M369.15,150.22m-1.05,0a1.05,1.05 0 1,0 2.1,0a1.05,1.05 0 1,0 -2.1,0M370.4,148.05m-1.05,0a1.05,1.05 0 1,0 2.1,0a1.05,1.05 0 1,0 -2.1,0M371.65,158.76m-1.05,0a1.05,1.05 0 1,0 2.1,0a1.05,1.05 0 1,0 -2.1,0M372.9,150.39m-1.05,0a1.05,1.05 0 1,0 2.1,0a1.05,1.05 0 1,0 -2.1,0M374.15,153.58m-1.05,0a1.05,1.05 0 1,0 2.1,0a1.05,1.05 0 1,0 -2.1,0M375.4,152.41m-1.05,0a1.05,1.05 0 1,0 2.1,0a1.05,1.05 0 1,0 -2.1,0M376.65,156.19m-1.05,0a1.05,1.05 0 1,0 2.1,0a1.05,1.05 0 1,0 -2.1,0M377.9,155.72m-1.05,0a1.05,1.05 0 1,0 2.1,0a1.05,1.05 0 1,0 -2.1,0M379.15,152.3m-1.05,0a1.05,1.05 0 1,0 2.1,0a1.05,1.05 0 1,0 -2.1,0M380.4,159.17m-1.05,0a1.05,1.05 0 1,0 2.1,0a1.05,1.05 0 1,0 -2.1,0M381.65,157.73m-1.05,0a1.05,1.05 0 1,0 2.1,0a1.05,1.05 0 1,0 -2.1,0M382.9,152.99m-1.05,0a1.05,1.05 0 1,0 2.1,0a1.05,1.05 0 1,0 -2.1,0M384.15,154.17m-1.05,0a1.05,1.05 0 1,0 2.1,0a1.05,1.05 0 1,0 -2.1,0M385.4,153.99m-1.05,0a1.05,1.05 0 1,0 2.1,0a1.05,1.05 0 1,0 -2.1,0M386.65,160.66m-1.05,0a1.05,1.05 0 1,0 2.1,0a1.05,1.05 0 1,0 -2.1,0M387.9,158.25m-1.05,0a1.05,1.05 0 1,0 2.1,0a1.05,1.05 0 1,0 -2.1,0M389.15,158.49m-1.05,0a1.05,1.05 0 1,0 2.1,0a1.05,1.05 0 1,0 -2.1,0M390.4,160.99m-1.05,0a1.05,1.05 0 1,0 2.1,0a1.05,1.05 0 1,0 -2.1,0M391.65,162.48m-1.05,0a1.05,1.05 0 1,0 2.1,0a1.05,1.05 0 1,0 -2.1,0M392.9,158.67m-1.05,0a1.05,1.05 0 1,0 2.1,0a1.05,1.05 0 1,0 -2.1,0M394.15,159.55m-1.05,0a1.05,1.05 0 1,0 2.1,0a1.05,1.05 0 1,0 -2.1,0M395.4,158.23m-1.05,0a1.05,1.05 0 1,0 2.1,0a1.05,1.05 0 1,0 -2.1,0M396.65,158.44m-1.05,0a1.05,1.05 0 1,0 2.1,0a1.05,1.05 0 1,0 -2.1,0M397.9,158.88m-1.05,0a1.05,1.05 0 1,0 2.1,0a1.05,1.05 0 1,0 -2.1,0M399.15,158.35m-1.05,0a1.05,1.05 0 1,0 2.1,0a1.05,1.05 0 1,0 -2.1,0M400.4,160.72m-1.05,0a1.05,1.05 0 1,0 2.1,0a1.05,1.05 0 1,0 -2.1,0M401.65,161.86m-1.05,0a1.05,1.05 0 1,0 2.1,0a1.05,1.05 0 1,0 -2.1,0M402.9,154.78m-1.05,0a1.05,1.05 0 1,0 2.1,0a1.05,1.05 0 1,0 -2.1,0M404.15,159.51m-1.05,0a1.05,1.05 0 1,0 2.1,0a1.05,1.05 0 1,0 -2.1,0M405.4,156.18m-1.05,0a1.05,1.05 0 1,0 2.1,0a1.05,1.05 0 1,0 -2.1,0M406.65,156.05m-1.05,0a1.05,1.05 0 1,0 2.1,0a1.05,1.05 0 1,0 -2.1,0M407.9,152.03m-1.05,0a1.05,1.05 0 1,0 2.1,0a1.05,1.05 0 1,0 -2.1,0M409.15,148.4m-1.05,0a1.05,1.05 0 1,0 2.1,0a1.05,1.05 0 1,0 -2.1,0M410.4,152.73m-1.05,0a1.05,1.05 0 1,0 2.1,0a1.05,1.05 0 1,0 -2.1,0M411.65,149.8m-1.05,0a1.05,1.05 0 1,0 2.1,0a1.05,1.05 0 1,0 -2.1,0M412.9,149.48m-1.05,0a1.05,1.05 0 1,0 2.1,0a1.05,1.05 0 1,0 -2.1,0M414.15,150.68m-1.05,0a1.05,1.05 0 1,0 2.1,0a1.05,1.05 0 1,0 -2.1,0M415.4,148.31m-1.05,0a1.05,1.05 0 1,0 2.1,0a1.05,1.05 0 1,0 -2.1,0M416.65,152.7m-1.05,0a1.05,1.05 0 1,0 2.1,0a1.05,1.05 0 1,0 -2.1,0M417.9,155.9m-1.05,0a1.05,1.05 0 1,0 2.1,0a1.05,1.05 0 1,0 -2.1,0M419.15,155.35m-1.05,0a1.05,1.05 0 1,0 2.1,0a1.05,1.05 0 1,0 -2.1,0M420.4,153.63m-1.05,0a1.05,1.05 0 1,0 2.1,0a1.05,1.05 0 1,0 -2.1,0M421.65,152.85m-1.05,0a1.05,1.05 0 1,0 2.1,0a1.05,1.05 0 1,0 -2.1,0M422.9,153.33m-1.05,0a1.05,1.05 0 1,0 2.1,0a1.05,1.05 0 1,0 -2.1,0M424.15,153.02m-1.05,0a1.05,1.05 0 1,0 2.1,0a1.05,1.05 0 1,0 -2.1,0M425.4,153.24m-1.05,0a1.05,1.05 0 1,0 2.1,0a1.05,1.05 0 1,0 -2.1,0M426.65,153.43m-1.05,0a1.05,1.05 0 1,0 2.1,0a1.05,1.05 0 1,0 -2.1,0M427.9,153.6m-1.05,0a1.05,1.05 0 1,0 2.1,0a1.05,1.05 0 1,0 -2.1,0M429.15,163.49m-1.05,0a1.05,1.05 0 1,0 2.1,0a1.05,1.05 0 1,0 -2.1,0M430.4,159.36m-1.05,0a1.05,1.05 0 1,0 2.1,0a1.05,1.05 0 1,0 -2.1,0M431.65,159.88m-1.05,0a1.05,1.05 0 1,0 2.1,0a1.05,1.05 0 1,0 -2.1,0M432.9,159.98m-1.05,0a1.05,1.05 0 1,0 2.1,0a1.05,1.05 0 1,0 -2.1,0M434.15,158.15m-1.05,0a1.05,1.05 0 1,0 2.1,0a1.05,1.05 0 1,0 -2.1,0M435.4,161.08m-1.05,0a1.05,1.05 0 1,0 2.1,0a1.05,1.05 0 1,0 -2.1,0M436.65,158.43m-1.05,0a1.05,1.05 0 1,0 2.1,0a1.05,1.05 0 1,0 -2.1,0M437.9,161.54m-1.05,0a1.05,1.05 0 1,0 2.1,0a1.05,1.05 0 1,0 -2.1,0M439.15,159.44m-1.05,0a1.05,1.05 0 1,0 2.1,0a1.05,1.05 0 1,0 -2.1,0M440.4,161.48m-1.05,0a1.05,1.05 0 1,0 2.1,0a1.05,1.05 0 1,0 -2.1,0M441.65,163.11m-1.05,0a1.05,1.05 0 1,0 2.1,0a1.05,1.05 0 1,0 -2.1,0M442.9,166.08m-1.05,0a1.05,1.05 0 1,0 2.1,0a1.05,1.05 0 1,0 -2.1,0M444.15,163.61m-1.05,0a1.05,1.05 0 1,0 2.1,0a1.05,1.05 0 1,0 -2.1,0M445.4,162.21m-1.05,0a1.05,1.05 0 1,0 2.1,0a1.05,1.05 0 1,0 -2.1,0M446.65,159m-1.05,0a1.05,1.05 0 1,0 2.1,0a1.05,1.05 0 1,0 -2.1,0M447.9,164.87m-1.05,0a1.05,1.05 0 1,0 2.1,0a1.05,1.05 0 1,0 -2.1,0M449.15,168.33m-1.05,0a1.05,1.05 0 1,0 2.1,0a1.05,1.05 0 1,0 -2.1,0M450.4,166.42m-1.05,0a1.05,1.05 0 1,0 2.1,0a1.05,1.05 0 1,0 -2.1,0M451.65,165.71m-1.05,0a1.05,1.05 0 1,0 2.1,0a1.05,1.05 0 1,0 -2.1,0M452.9,166.52m-1.05,0a1.05,1.05 0 1,0 2.1,0a1.05,1.05 0 1,0 -2.1,0M454.15,167.27m-1.05,0a1.05,1.05 0 1,0 2.1,0a1.05,1.05 0 1,0 -2.1,0M455.4,164.5m-1.05,0a1.05,1.05 0 1,0 2.1,0a1.05,1.05 0 1,0 -2.1,0M456.65,166.76m-1.05,0a1.05,1.05 0 1,0 2.1,0a1.05,1.05 0 1,0 -2.1,0M457.9,169.38m-1.05,0a1.05,1.05 0 1,0 2.1,0a1.05,1.05 0 1,0 -2.1,0M459.15,168.61m-1.05,0a1.05,1.05 0 1,0 2.1,0a1.05,1.05 0 1,0 -2.1,0M460.4,167.65m-1.05,0a1.05,1.05 0 1,0 2.1,0a1.05,1.05 0 1,0 -2.1,0M461.65,169.9m-1.05,0a1.05,1.05 0 1,0 2.1,0a1.05,1.05 0 1,0 -2.1,0M462.9,163.95m-1.05,0a1.05,1.05 0 1,0 2.1,0a1.05,1.05 0 1,0 -2.1,0M464.15,171.74m-1.05,0a1.05,1.05 0 1,0 2.1,0a1.05,1.05 0 1,0 -2.1,0M465.4,165.55m-1.05,0a1.05,1.05 0 1,0 2.1,0a1.05,1.05 0 1,0 -2.1,0M466.65,166.35m-1.05,0a1.05,1.05 0 1,0 2.1,0a1.05,1.05 0 1,0 -2.1,0M467.9,171.64m-1.05,0a1.05,1.05 0 1,0 2.1,0a1.05,1.05 0 1,0 -2.1,0M469.15,169.56m-1.05,0a1.05,1.05 0 1,0 2.1,0a1.05,1.05 0 1,0 -2.1,0M470.4,168.61m-1.05,0a1.05,1.05 0 1,0 2.1,0a1.05,1.05 0 1,0 -2.1,0M471.65,171.75m-1.05,0a1.05,1.05 0 1,0 2.1,0a1.05,1.05 0 1,0 -2.1,0M472.9,165.87m-1.05,0a1.05,1.05 0 1,0 2.1,0a1.05,1.05 0 1,0 -2.1,0M474.15,172.05m-1.05,0a1.05,1.05 0 1,0 2.1,0a1.05,1.05 0 1,0 -2.1,0M475.4,176.79m-1.05,0a1.05,1.05 0 1,0 2.1,0a1.05,1.05 0 1,0 -2.1,0M476.65,169.99m-1.05,0a1.05,1.05 0 1,0 2.1,0a1.05,1.05 0 1,0 -2.1,0M477.9,170.63m-1.05,0a1.05,1.05 0 1,0 2.1,0a1.05,1.05 0 1,0 -2.1,0M479.15,170.27m-1.05,0a1.05,1.05 0 1,0 2.1,0a1.05,1.05 0 1,0 -2.1,0M480.4,174.41m-1.05,0a1.05,1.05 0 1,0 2.1,0a1.05,1.05 0 1,0 -2.1,0M481.65,175.05m-1.05,0a1.05,1.05 0 1,0 2.1,0a1.05,1.05 0 1,0 -2.1,0M482.9,172.19m-1.05,0a1.05,1.05 0 1,0 2.1,0a1.05,1.05 0 1,0 -2.1,0M484.15,169.35m-1.05,0a1.05,1.05 0 1,0 2.1,0a1.05,1.05 0 1,0 -2.1,0M485.4,172.89m-1.05,0a1.05,1.05 0 1,0 2.1,0a1.05,1.05 0 1,0 -2.1,0M486.65,172.14m-1.05,0a1.05,1.05 0 1,0 2.1,0a1.05,1.05 0 1,0 -2.1,0M487.9,167.98m-1.05,0a1.05,1.05 0 1,0 2.1,0a1.05,1.05 0 1,0 -2.1,0M489.15,177.72m-1.05,0a1.05,1.05 0 1,0 2.1,0a1.05,1.05 0 1,0 -2.1,0M490.4,170.74m-1.05,0a1.05,1.05 0 1,0 2.1,0a1.05,1.05 0 1,0 -2.1,0M491.65,176.3m-1.05,0a1.05,1.05 0 1,0 2.1,0a1.05,1.05 0 1,0 -2.1,0M492.9,166.81m-1.05,0a1.05,1.05 0 1,0 2.1,0a1.05,1.05 0 1,0 -2.1,0M494.15,173.97m-1.05,0a1.05,1.05 0 1,0 2.1,0a1.05,1.05 0 1,0 -2.1,0M495.4,169.29m-1.05,0a1.05,1.05 0 1,0 2.1,0a1.05,1.05 0 1,0 -2.1,0M496.65,174.87m-1.05,0a1.05,1.05 0 1,0 2.1,0a1.05,1.05 0 1,0 -2.1,0M497.9,173.32m-1.05,0a1.05,1.05 0 1,0 2.1,0a1.05,1.05 0 1,0 -2.1,0M499.15,166.4m-1.05,0a1.05,1.05 0 1,0 2.1,0a1.05,1.05 0 1,0 -2.1,0M500.4,166.79m-1.05,0a1.05,1.05 0 1,0 2.1,0a1.05,1.05 0 1,0 -2.1,0M501.65,169.9m-1.05,0a1.05,1.05 0 1,0 2.1,0a1.05,1.05 0 1,0 -2.1,0M502.9,168.98m-1.05,0a1.05,1.05 0 1,0 2.1,0a1.05,1.05 0 1,0 -2.1,0M504.15,175.74m-1.05,0a1.05,1.05 0 1,0 2.1,0a1.05,1.05 0 1,0 -2.1,0M505.4,174.35m-1.05,0a1.05,1.05 0 1,0 2.1,0a1.05,1.05 0 1,0 -2.1,0M506.65,173.79m-1.05,0a1.05,1.05 0 1,0 2.1,0a1.05,1.05 0 1,0 -2.1,0M507.9,172.64m-1.05,0a1.05,1.05 0 1,0 2.1,0a1.05,1.05 0 1,0 -2.1,0M509.15,176.84m-1.05,0a1.05,1.05 0 1,0 2.1,0a1.05,1.05 0 1,0 -2.1,0M510.4,173.61m-1.05,0a1.05,1.05 0 1,0 2.1,0a1.05,1.05 0 1,0 -2.1,0M511.65,176.02m-1.05,0a1.05,1.05 0 1,0 2.1,0a1.05,1.05 0 1,0 -2.1,0M512.9,171.03m-1.05,0a1.05,1.05 0 1,0 2.1,0a1.05,1.05 0 1,0 -2.1,0M514.15,176.53m-1.05,0a1.05,1.05 0 1,0 2.1,0a1.05,1.05 0 1,0 -2.1,0M515.4,175m-1.05,0a1.05,1.05 0 1,0 2.1,0a1.05,1.05 0 1,0 -2.1,0M516.65,174.64m-1.05,0a1.05,1.05 0 1,0 2.1,0a1.05,1.05 0 1,0 -2.1,0M517.9,176.65m-1.05,0a1.05,1.05 0 1,0 2.1,0a1.05,1.05 0 1,0 -2.1,0M519.15,169.52m-1.05,0a1.05,1.05 0 1,0 2.1,0a1.05,1.05 0 1,0 -2.1,0M520.4,166.43m-1.05,0a1.05,1.05 0 1,0 2.1,0a1.05,1.05 0 1,0 -2.1,0M521.65,173.79m-1.05,0a1.05,1.05 0 1,0 2.1,0a1.05,1.05 0 1,0 -2.1,0M522.9,174.59m-1.05,0a1.05,1.05 0 1,0 2.1,0a1.05,1.05 0 1,0 -2.1,0M524.15,172.32m-1.05,0a1.05,1.05 0 1,0 2.1,0a1.05,1.05 0 1,0 -2.1,0M525.4,173.9m-1.05,0a1.05,1.05 0 1,0 2.1,0a1.05,1.05 0 1,0 -2.1,0M526.65,176.7m-1.05,0a1.05,1.05 0 1,0 2.1,0a1.05,1.05 0 1,0 -2.1,0M527.9,171.57m-1.05,0a1.05,1.05 0 1,0 2.1,0a1.05,1.05 0 1,0 -2.1,0M529.15,175.57m-1.05,0a1.05,1.05 0 1,0 2.1,0a1.05,1.05 0 1,0 -2.1,0M530.4,175.02m-1.05,0a1.05,1.05 0 1,0 2.1,0a1.05,1.05 0 1,0 -2.1,0M531.65,178.96m-1.05,0a1.05,1.05 0 1,0 2.1,0a1.05,1.05 0 1,0 -2.1,0M532.9,177.15m-1.05,0a1.05,1.05 0 1,0 2.1,0a1.05,1.05 0 1,0 -2.1,0M534.15,172.59m-1.05,0a1.05,1.05 0 1,0 2.1,0a1.05,1.05 0 1,0 -2.1,0M535.4,172.8m-1.05,0a1.05,1.05 0 1,0 2.1,0a1.05,1.05 0 1,0 -2.1,0M536.65,172.4m-1.05,0a1.05,1.05 0 1,0 2.1,0a1.05,1.05 0 1,0 -2.1,0M537.9,169.88m-1.05,0a1.05,1.05 0 1,0 2.1,0a1.05,1.05 0 1,0 -2.1,0M539.15,169.4m-1.05,0a1.05,1.05 0 1,0 2.1,0a1.05,1.05 0 1,0 -2.1,0M540.4,168.22m-1.05,0a1.05,1.05 0 1,0 2.1,0a1.05,1.05 0 1,0 -2.1,0M541.65,175.47m-1.05,0a1.05,1.05 0 1,0 2.1,0a1.05,1.05 0 1,0 -2.1,0M542.9,173.79m-1.05,0a1.05,1.05 0 1,0 2.1,0a1.05,1.05 0 1,0 -2.1,0M544.15,174.04m-1.05,0a1.05,1.05 0 1,0 2.1,0a1.05,1.05 0 1,0 -2.1,0M545.4,170.83m-1.05,0a1.05,1.05 0 1,0 2.1,0a1.05,1.05 0 1,0 -2.1,0M546.65,169.82m-1.05,0a1.05,1.05 0 1,0 2.1,0a1.05,1.05 0 1,0 -2.1,0M547.9,172.48m-1.05,0a1.05,1.05 0 1,0 2.1,0a1.05,1.05 0 1,0 -2.1,0M549.15,170.14m-1.05,0a1.05,1.05 0 1,0 2.1,0a1.05,1.05 0 1,0 -2.1,0M550.4,161.44m-1.05,0a1.05,1.05 0 1,0 2.1,0a1.05,1.05 0 1,0 -2.1,0M551.65,147m-1.05,0a1.05,1.05 0 1,0 2.1,0a1.05,1.05 0 1,0 -2.1,0M552.27,134.6m-1.05,0a1.05,1.05 0 1,0 2.1,0a1.05,1.05 0 1,0 -2.1,0M552.89,122.2m-1.05,0a1.05,1.05 0 1,0 2.1,0a1.05,1.05 0 1,0 -2.1,0M553.51,104.7m-1.05,0a1.05,1.05 0 1,0 2.1,0a1.05,1.05 0 1,0 -2.1,0M554.13,84.58m-1.05,0a1.05,1.05 0 1,0 2.1,0a1.05,1.05 0 1,0 -2.1,0M554.75,61.36m-1.05,0a1.05,1.05 0 1,0 2.1,0a1.05,1.05 0 1,0 -2.1,0M555.37,47.49m-1.05,0a1.05,1.05 0 1,0 2.1,0a1.05,1.05 0 1,0 -2.1,0M555.99,43m-1.05,0a1.05,1.05 0 1,0 2.1,0a1.05,1.05 0 1,0 -2.1,0M556.61,49.34m-1.05,0a1.05,1.05 0 1,0 2.1,0a1.05,1.05 0 1,0 -2.1,0M557.23,64.9m-1.05,0a1.05,1.05 0 1,0 2.1,0a1.05,1.05 0 1,0 -2.1,0M557.85,92.5m-1.05,0a1.05,1.05 0 1,0 2.1,0a1.05,1.05 0 1,0 -2.1,0M558.47,131.33m-1.05,0a1.05,1.05 0 1,0 2.1,0a1.05,1.05 0 1,0 -2.1,0M559.09,153.56m-1.05,0a1.05,1.05 0 1,0 2.1,0a1.05,1.05 0 1,0 -2.1,0M559.71,158.68m-1.05,0a1.05,1.05 0 1,0 2.1,0a1.05,1.05 0 1,0 -2.1,0M560.33,161.22m-1.05,0a1.05,1.05 0 1,0 2.1,0a1.05,1.05 0 1,0 -2.1,0M560.95,163.75m-1.05,0a1.05,1.05 0 1,0 2.1,0a1.05,1.05 0 1,0 -2.1,0M561.57,165.58m-1.05,0a1.05,1.05 0 1,0 2.1,0a1.05,1.05 0 1,0 -2.1,0M562.19,161.86m-1.05,0a1.05,1.05 0 1,0 2.1,0a1.05,1.05 0 1,0 -2.1,0M562.81,158.14m-1.05,0a1.05,1.05 0 1,0 2.1,0a1.05,1.05 0 1,0 -2.1,0M563.43,156.71m-1.05,0a1.05,1.05 0 1,0 2.1,0a1.05,1.05 0 1,0 -2.1,0M564.05,156.3m-1.05,0a1.05,1.05 0 1,0 2.1,0a1.05,1.05 0 1,0 -2.1,0M564.67,155.89m-1.05,0a1.05,1.05 0 1,0 2.1,0a1.05,1.05 0 1,0 -2.1,0M565.29,155.47m-1.05,0a1.05,1.05 0 1,0 2.1,0a1.05,1.05 0 1,0 -2.1,0M565.91,155.06m-1.05,0a1.05,1.05 0 1,0 2.1,0a1.05,1.05 0 1,0 -2.1,0M566.53,143.96m-1.05,0a1.05,1.05 0 1,0 2.1,0a1.05,1.05 0 1,0 -2.1,0M567.15,131.04m-1.05,0a1.05,1.05 0 1,0 2.1,0a1.05,1.05 0 1,0 -2.1,0M567.77,103.69m-1.05,0a1.05,1.05 0 1,0 2.1,0a1.05,1.05 0 1,0 -2.1,0M568.39,75.08m-1.05,0a1.05,1.05 0 1,0 2.1,0a1.05,1.05 0 1,0 -2.1,0M569.01,44.5m-1.05,0a1.05,1.05 0 1,0 2.1,0a1.05,1.05 0 1,0 -2.1,0M569.63,16.93m-1.05,0a1.05,1.05 0 1,0 2.1,0a1.05,1.05 0 1,0 -2.1,0M570.25,2.27m-1.05,0a1.05,1.05 0 1,0 2.1,0a1.05,1.05 0 1,0 -2.1,0M570.87,-6m-1.05,0a1.05,1.05 0 1,0 2.1,0a1.05,1.05 0 1,0 -2.1,0M571.49,-6m-1.05,0a1.05,1.05 0 1,0 2.1,0a1.05,1.05 0 1,0 -2.1,0M572.11,15.96m-1.05,0a1.05,1.05 0 1,0 2.1,0a1.05,1.05 0 1,0 -2.1,0M572.73,42.78m-1.05,0a1.05,1.05 0 1,0 2.1,0a1.05,1.05 0 1,0 -2.1,0M573.35,77.22m-1.05,0a1.05,1.05 0 1,0 2.1,0a1.05,1.05 0 1,0 -2.1,0M573.97,105.91m-1.05,0a1.05,1.05 0 1,0 2.1,0a1.05,1.05 0 1,0 -2.1,0M574.59,131.98m-1.05,0a1.05,1.05 0 1,0 2.1,0a1.05,1.05 0 1,0 -2.1,0M575.21,145.62m-1.05,0a1.05,1.05 0 1,0 2.1,0a1.05,1.05 0 1,0 -2.1,0M575.83,153.32m-1.05,0a1.05,1.05 0 1,0 2.1,0a1.05,1.05 0 1,0 -2.1,0M576.45,158.05m-1.05,0a1.05,1.05 0 1,0 2.1,0a1.05,1.05 0 1,0 -2.1,0M577.7,152.52m-1.05,0a1.05,1.05 0 1,0 2.1,0a1.05,1.05 0 1,0 -2.1,0M578.95,163.16m-1.05,0a1.05,1.05 0 1,0 2.1,0a1.05,1.05 0 1,0 -2.1,0M580.2,159.73m-1.05,0a1.05,1.05 0 1,0 2.1,0a1.05,1.05 0 1,0 -2.1,0M581.45,159.81m-1.05,0a1.05,1.05 0 1,0 2.1,0a1.05,1.05 0 1,0 -2.1,0M582.7,164.43m-1.05,0a1.05,1.05 0 1,0 2.1,0a1.05,1.05 0 1,0 -2.1,0M583.95,158.57m-1.05,0a1.05,1.05 0 1,0 2.1,0a1.05,1.05 0 1,0 -2.1,0M585.2,158.04m-1.05,0a1.05,1.05 0 1,0 2.1,0a1.05,1.05 0 1,0 -2.1,0M586.45,166.24m-1.05,0a1.05,1.05 0 1,0 2.1,0a1.05,1.05 0 1,0 -2.1,0M587.7,167.31m-1.05,0a1.05,1.05 0 1,0 2.1,0a1.05,1.05 0 1,0 -2.1,0M588.95,162.72m-1.05,0a1.05,1.05 0 1,0 2.1,0a1.05,1.05 0 1,0 -2.1,0M590.2,165.73m-1.05,0a1.05,1.05 0 1,0 2.1,0a1.05,1.05 0 1,0 -2.1,0M591.45,168.05m-1.05,0a1.05,1.05 0 1,0 2.1,0a1.05,1.05 0 1,0 -2.1,0M592.7,170.16m-1.05,0a1.05,1.05 0 1,0 2.1,0a1.05,1.05 0 1,0 -2.1,0M593.95,162.37m-1.05,0a1.05,1.05 0 1,0 2.1,0a1.05,1.05 0 1,0 -2.1,0M595.2,164.3m-1.05,0a1.05,1.05 0 1,0 2.1,0a1.05,1.05 0 1,0 -2.1,0M596.45,166.78m-1.05,0a1.05,1.05 0 1,0 2.1,0a1.05,1.05 0 1,0 -2.1,0M597.7,170.62m-1.05,0a1.05,1.05 0 1,0 2.1,0a1.05,1.05 0 1,0 -2.1,0M598.95,168.58m-1.05,0a1.05,1.05 0 1,0 2.1,0a1.05,1.05 0 1,0 -2.1,0M600.2,169.46m-1.05,0a1.05,1.05 0 1,0 2.1,0a1.05,1.05 0 1,0 -2.1,0M601.45,171.19m-1.05,0a1.05,1.05 0 1,0 2.1,0a1.05,1.05 0 1,0 -2.1,0M602.7,171.92m-1.05,0a1.05,1.05 0 1,0 2.1,0a1.05,1.05 0 1,0 -2.1,0M603.95,171.3m-1.05,0a1.05,1.05 0 1,0 2.1,0a1.05,1.05 0 1,0 -2.1,0M605.2,166.4m-1.05,0a1.05,1.05 0 1,0 2.1,0a1.05,1.05 0 1,0 -2.1,0M606.45,170.06m-1.05,0a1.05,1.05 0 1,0 2.1,0a1.05,1.05 0 1,0 -2.1,0" fill="#2a2aff"/>
</g>
<line x1="429.4" y1="170.6" x2="429.4" y2="188.3" stroke="#111" stroke-width="1.2" />
<path d="M429.4,166.6 L427.9,171.6 L430.9,171.6 Z" fill="#111"/>
<line x1="597.4" y1="175.6" x2="597.4" y2="188.3" stroke="#111" stroke-width="1.2" />
<path d="M597.4,171.6 L595.9,176.6 L598.9,176.6 Z" fill="#111"/>
<rect x="350.6" y="1.1" width="256.9" height="187.2" fill="none" stroke="#2a2a2a" stroke-width="1.2"/>
<line x1="380.6" y1="188.3" x2="380.6" y2="185.1" stroke="#2a2a2a" stroke-width="1" />
<line x1="380.6" y1="1.1" x2="380.6" y2="4.3" stroke="#2a2a2a" stroke-width="1" />
<line x1="440.6" y1="188.3" x2="440.6" y2="185.1" stroke="#2a2a2a" stroke-width="1" />
<line x1="440.6" y1="1.1" x2="440.6" y2="4.3" stroke="#2a2a2a" stroke-width="1" />
<line x1="500.6" y1="188.3" x2="500.6" y2="185.1" stroke="#2a2a2a" stroke-width="1" />
<line x1="500.6" y1="1.1" x2="500.6" y2="4.3" stroke="#2a2a2a" stroke-width="1" />
<line x1="560.6" y1="188.3" x2="560.6" y2="185.1" stroke="#2a2a2a" stroke-width="1" />
<line x1="560.6" y1="1.1" x2="560.6" y2="4.3" stroke="#2a2a2a" stroke-width="1" />
<line x1="410.6" y1="188.3" x2="410.6" y2="186.3" stroke="#2a2a2a" stroke-width="1" />
<line x1="410.6" y1="1.1" x2="410.6" y2="3.1" stroke="#2a2a2a" stroke-width="1" />
<line x1="470.6" y1="188.3" x2="470.6" y2="186.3" stroke="#2a2a2a" stroke-width="1" />
<line x1="470.6" y1="1.1" x2="470.6" y2="3.1" stroke="#2a2a2a" stroke-width="1" />
<line x1="530.6" y1="188.3" x2="530.6" y2="186.3" stroke="#2a2a2a" stroke-width="1" />
<line x1="530.6" y1="1.1" x2="530.6" y2="3.1" stroke="#2a2a2a" stroke-width="1" />
<line x1="590.6" y1="188.3" x2="590.6" y2="186.3" stroke="#2a2a2a" stroke-width="1" />
<line x1="590.6" y1="1.1" x2="590.6" y2="3.1" stroke="#2a2a2a" stroke-width="1" />
<line x1="350.6" y1="188.4" x2="353.8" y2="188.4" stroke="#2a2a2a" stroke-width="1" />
<line x1="607.5" y1="188.4" x2="604.3" y2="188.4" stroke="#2a2a2a" stroke-width="1" />
<line x1="350.6" y1="134.2" x2="353.8" y2="134.2" stroke="#2a2a2a" stroke-width="1" />
<line x1="607.5" y1="134.2" x2="604.3" y2="134.2" stroke="#2a2a2a" stroke-width="1" />
<line x1="350.6" y1="80" x2="353.8" y2="80" stroke="#2a2a2a" stroke-width="1" />
<line x1="607.5" y1="80" x2="604.3" y2="80" stroke="#2a2a2a" stroke-width="1" />
<line x1="350.6" y1="25.8" x2="353.8" y2="25.8" stroke="#2a2a2a" stroke-width="1" />
<line x1="607.5" y1="25.8" x2="604.3" y2="25.8" stroke="#2a2a2a" stroke-width="1" />
<line x1="350.6" y1="174.85" x2="352.6" y2="174.85" stroke="#2a2a2a" stroke-width="1" />
<line x1="607.5" y1="174.85" x2="605.5" y2="174.85" stroke="#2a2a2a" stroke-width="1" />
<line x1="350.6" y1="161.3" x2="352.6" y2="161.3" stroke="#2a2a2a" stroke-width="1" />
<line x1="607.5" y1="161.3" x2="605.5" y2="161.3" stroke="#2a2a2a" stroke-width="1" />
<line x1="350.6" y1="147.75" x2="352.6" y2="147.75" stroke="#2a2a2a" stroke-width="1" />
<line x1="607.5" y1="147.75" x2="605.5" y2="147.75" stroke="#2a2a2a" stroke-width="1" />
<line x1="350.6" y1="120.65" x2="352.6" y2="120.65" stroke="#2a2a2a" stroke-width="1" />
<line x1="607.5" y1="120.65" x2="605.5" y2="120.65" stroke="#2a2a2a" stroke-width="1" />
<line x1="350.6" y1="107.1" x2="352.6" y2="107.1" stroke="#2a2a2a" stroke-width="1" />
<line x1="607.5" y1="107.1" x2="605.5" y2="107.1" stroke="#2a2a2a" stroke-width="1" />
<line x1="350.6" y1="93.55" x2="352.6" y2="93.55" stroke="#2a2a2a" stroke-width="1" />
<line x1="607.5" y1="93.55" x2="605.5" y2="93.55" stroke="#2a2a2a" stroke-width="1" />
<line x1="350.6" y1="66.45" x2="352.6" y2="66.45" stroke="#2a2a2a" stroke-width="1" />
<line x1="607.5" y1="66.45" x2="605.5" y2="66.45" stroke="#2a2a2a" stroke-width="1" />
<line x1="350.6" y1="52.9" x2="352.6" y2="52.9" stroke="#2a2a2a" stroke-width="1" />
<line x1="607.5" y1="52.9" x2="605.5" y2="52.9" stroke="#2a2a2a" stroke-width="1" />
<line x1="350.6" y1="39.35" x2="352.6" y2="39.35" stroke="#2a2a2a" stroke-width="1" />
<line x1="607.5" y1="39.35" x2="605.5" y2="39.35" stroke="#2a2a2a" stroke-width="1" />
<line x1="350.6" y1="12.25" x2="352.6" y2="12.25" stroke="#2a2a2a" stroke-width="1" />
<line x1="607.5" y1="12.25" x2="605.5" y2="12.25" stroke="#2a2a2a" stroke-width="1" />
<text transform="translate(380.6,202.4) scale(1,1.07)" font-size="12" text-anchor="middle" fill="#111" stroke="#111">1.0</text>
<text transform="translate(440.6,202.4) scale(1,1.07)" font-size="12" text-anchor="middle" fill="#111" stroke="#111">1.5</text>
<text transform="translate(500.6,202.4) scale(1,1.07)" font-size="12" text-anchor="middle" fill="#111" stroke="#111">2.0</text>
<text transform="translate(560.6,202.4) scale(1,1.07)" font-size="12" text-anchor="middle" fill="#111" stroke="#111">2.5</text>
<text transform="translate(347,192.7) scale(1,1.07)" font-size="12" text-anchor="end" fill="#111" stroke="#111">0</text>
<text transform="translate(347,138.5) scale(1,1.07)" font-size="12" text-anchor="end" fill="#111" stroke="#111">50</text>
<text transform="translate(347,84.3) scale(1,1.07)" font-size="12" text-anchor="end" fill="#111" stroke="#111">100</text>
<text transform="translate(347,30.1) scale(1,1.07)" font-size="12" text-anchor="end" fill="#111" stroke="#111">150</text>
<text transform="translate(320.6,94.2) rotate(-90)" font-size="15.5" text-anchor="middle" fill="#111" stroke="#111">Intensisty (arb. units)</text>
<text x="451.4" y="218.5" font-size="15.4" fill="#111" stroke="#111">|</text>
<text x="454.5" y="218.9" font-size="15.2" font-weight="bold" fill="#111" stroke="#111">Q</text>
<text x="467.5" y="218.5" font-size="15.4" fill="#111" stroke="#111">|</text>
<text x="475.2" y="218.7" font-size="15.5" font-family="Liberation Serif, serif" fill="#111" stroke="#111">(</text>
<text x="480.4" y="218.7" font-size="15.3" font-family="Liberation Serif, serif" fill="#111" stroke="#111">Å</text>
<text x="491.5" y="212" font-size="8.6" fill="#111" stroke="#111">-1</text>
<text x="501" y="218.7" font-size="15.5" font-family="Liberation Serif, serif" fill="#111" stroke="#111">)</text>
<text x="358.4" y="20.6" font-size="17.5" text-anchor="start" fill="#111" stroke="#111" >(b)</text>
<text transform="translate(379.6,61.2) scale(1.12,1)" font-family="Liberation Serif, serif" font-style="italic" font-size="13.5" fill="#111" stroke="#111">α</text>
<text x="388.04" y="61.2" font-size="13.5" fill="#111" stroke="#111" >-CrOOD</text>
<text transform="translate(430.1,139.3) rotate(-90)" font-size="12" fill="#111" stroke="#111">(0 0 3)</text>
<text x="454.2" y="24.3" font-size="12" text-anchor="start" fill="#111" stroke="#111" >0.6 ≤ <tspan font-style="italic">E</tspan> ≤ 7.2 meV</text>
<path d="M475.1,32.7h3.8v3.8h-3.8z" fill="none" stroke="#ff4444" stroke-width="0.9"/>
<path d="M477,46.8l2.5,2.5l-2.5,2.5l-2.5,-2.5z" fill="none" stroke="#1ccc1c" stroke-width="0.9"/>
<circle cx="477" cy="64.1" r="2.2" fill="none" stroke="#3a5cff" stroke-width="0.9"/>
<text x="494.2" y="38.5" font-size="12" text-anchor="start" fill="#111" stroke="#111" >40&#160;&#160;K</text>
<text x="494.2" y="53.3" font-size="12" text-anchor="start" fill="#111" stroke="#111" >20&#160;&#160;K</text>
<text x="494.2" y="68" font-size="12" text-anchor="start" fill="#111" stroke="#111" >3.5 K</text>
<line x1="444.8" y1="135.7" x2="471.5" y2="135.7" stroke="#ff8a8a" stroke-width="1" />
<line x1="444.8" y1="152.5" x2="471.5" y2="152.5" stroke="#8a8aff" stroke-width="1" />
<circle cx="458.2" cy="135.7" r="1" fill="#ff2a2a"/><circle cx="458.2" cy="152.5" r="1" fill="#2a2aff"/>
<text x="475.5" y="140.2" font-size="12" text-anchor="start" fill="#111" stroke="#111" >50 K, ×0.02</text>
<text x="536.2" y="156.4" font-size="12" text-anchor="end" fill="#111" stroke="#111" >8 K, ×0.02</text>
<clipPath id="cc"><rect x="47.6" y="225.8" width="257.0" height="187.39999999999998"/></clipPath>
<g clip-path="url(#cc)">
<polyline points="51,413.5 60,410.5 70,404 80,394 90,379 96,366 102,352 108.8,338.5 112.1,327 113.6,321 116.7,310 119.2,300 120.5,290 121,283.2 122.5,268.7 123.2,261.4 123.6,246.8 124.7,233.7 126.6,227.9 128.3,233.7 129.5,246.8 130.5,258.5 131.2,265.8 132.7,271.6 134.9,280.3 136.3,289 137.8,292 139.9,295 141.9,300 143.4,305 145.4,308.5 147,310.5 150,313.8 153,318 157.7,324.5 160,327 164.1,331 166.6,336 169.6,339.5 175,342.5 180,344.6 187.3,348.8 190,349.9 200,354.4 210,359.3 220,363.3 233,366.5 250,370.5 265,373 280,374.3 295,374.8 304.6,374.3" fill="none" stroke="#8f2cff" stroke-width="2.1" stroke-linejoin="round" />
<path d="M191.6,326.8V334M190.1,326.8h3M190.1,334h3M197.22,327.8V335M195.72,327.8h3M195.72,335h3M203.05,330.32V337.52M201.55,330.32h3M201.55,337.52h3M209.11,332.85V340.05M207.61,332.85h3M207.61,340.05h3M215.41,335.97V343.17M213.91,335.97h3M213.91,343.17h3M221.96,338.54V345.74M220.46,338.54h3M220.46,345.74h3M228.76,341.29V348.49M227.26,341.29h3M227.26,348.49h3M235.82,344.19V351.39M234.32,344.19h3M234.32,351.39h3M243.16,346.99V354.19M241.66,346.99h3M241.66,354.19h3M250.79,348.94V356.14M249.29,348.94h3M249.29,356.14h3M258.71,351.15V358.35M257.21,351.15h3M257.21,358.35h3M266.95,352.49V359.69M265.45,352.49h3M265.45,359.69h3M275.5,353.81V361.01M274,353.81h3M274,361.01h3M284.39,355.3V362.5M282.89,355.3h3M282.89,362.5h3M293.63,356.99V364.19M292.13,356.99h3M292.13,364.19h3M303.22,359.28V366.48M301.72,359.28h3M301.72,366.48h3" fill="none" stroke="#66dd66" stroke-width="0.8"/>
<path d="M51.5,411.71L53.15,414.56H49.85ZM53.4,411.58L55.05,414.43H51.75ZM55.3,411.73L56.95,414.58H53.65ZM57.2,411.37L58.85,414.22H55.55ZM59.1,410.81L60.75,413.66H57.45ZM61,410.21L62.65,413.06H59.35ZM62.9,409.14L64.55,411.99H61.25ZM64.8,407.96L66.45,410.81H63.15ZM66.7,407.13L68.35,409.98H65.05ZM68.6,405.85L70.25,408.7H66.95ZM70.5,404.77L72.15,407.62H68.85ZM72.4,402.41L74.05,405.26H70.75ZM74.3,401.09L75.95,403.94H72.65ZM76.2,399.13L77.85,401.98H74.55ZM78.1,397.53L79.75,400.38H76.45ZM80,395.84L81.65,398.69H78.35ZM81.9,393.01L83.55,395.86H80.25ZM83.8,390.65L85.45,393.5H82.15ZM85.7,388.25L87.35,391.1H84.05ZM87.6,386.34L89.25,389.19H85.95ZM89.5,383.89L91.15,386.74H87.85ZM91.4,380.82L93.05,383.67H89.75ZM93.3,378.28L94.95,381.13H91.65ZM95.2,375.08L96.85,377.93H93.55ZM97.1,372.14L98.75,374.99H95.45ZM99,368.72L100.65,371.57H97.35ZM100.9,365.17L102.55,368.02H99.25ZM102.8,362L104.45,364.85H101.15ZM104.7,357.87L106.35,360.72H103.05ZM106.6,353.33L108.25,356.18H104.95ZM108.5,349.22L110.15,352.07H106.85ZM110.4,344.37L112.05,347.22H108.75ZM112.3,339.22L113.95,342.07H110.65ZM114.2,334.29L115.85,337.14H112.55ZM116.1,329.01L117.75,331.86H114.45ZM118,322.19L119.82,325.33H116.19ZM119.9,313.6L121.72,316.73H118.09ZM121.8,306.79L123.62,309.93H119.99ZM124,300.61L125.82,303.74H122.19ZM126.2,297.48L128.02,300.62H124.39ZM128.4,297.6L130.22,300.74H126.59ZM130.6,298.75L132.42,301.88H128.79ZM132.8,301.82L134.62,304.95H130.99ZM135,304.55L136.82,307.68H133.19ZM137.2,307.28L139.02,310.41H135.39ZM139.4,309.26L141.22,312.4H137.59ZM141.6,311.45L143.42,314.59H139.79ZM144.6,314.32L146.42,317.45H142.79ZM147.6,316.01L149.42,319.15H145.79ZM150.6,318.03L152.42,321.17H148.79ZM153.6,319.01L155.42,322.15H151.79ZM156.6,319.97L158.42,323.1H154.79ZM159.6,321.09L161.42,324.23H157.79ZM162.6,321.57L164.42,324.7H160.79ZM166.1,322.23L167.92,325.37H164.29ZM169.6,323.06L171.42,326.2H167.79ZM173.1,323.82L174.92,326.96H171.29ZM176.6,324.2L178.42,327.34H174.79ZM180.1,325.64L181.92,328.78H178.29ZM183.6,326.03L185.42,329.16H181.79ZM187.1,327.33L188.92,330.46H185.29ZM191.6,328.97L193.03,331.44H190.17ZM197.22,329.97L198.65,332.44H195.79ZM203.05,332.49L204.48,334.96H201.62ZM209.11,335.02L210.54,337.49H207.68ZM215.41,338.14L216.84,340.61H213.98ZM221.96,340.71L223.39,343.18H220.53ZM228.76,343.46L230.19,345.93H227.33ZM235.82,346.36L237.25,348.83H234.39ZM243.16,349.16L244.59,351.63H241.73ZM250.79,351.11L252.22,353.58H249.36ZM258.71,353.32L260.14,355.79H257.28ZM266.95,354.66L268.38,357.13H265.52ZM275.5,355.98L276.93,358.45H274.07ZM284.39,357.47L285.82,359.94H282.96ZM293.63,359.16L295.06,361.63H292.2ZM303.22,361.45L304.65,363.92H301.79Z" fill="none" stroke="#3ad43a" stroke-width="0.8"/>
<path d="M191.6,326.82V334.02M190.1,326.82h3M190.1,334.02h3M197.22,327.77V334.97M195.72,327.77h3M195.72,334.97h3M203.05,330.57V337.77M201.55,330.57h3M201.55,337.77h3M209.11,332.77V339.97M207.61,332.77h3M207.61,339.97h3M215.41,335.85V343.05M213.91,335.85h3M213.91,343.05h3M221.96,338.37V345.57M220.46,338.37h3M220.46,345.57h3M228.76,341.31V348.51M227.26,341.31h3M227.26,348.51h3M235.82,343.99V351.19M234.32,343.99h3M234.32,351.19h3M243.16,347.01V354.21M241.66,347.01h3M241.66,354.21h3M250.79,348.84V356.04M249.29,348.84h3M249.29,356.04h3M258.71,350.96V358.16M257.21,350.96h3M257.21,358.16h3M266.95,352.45V359.65M265.45,352.45h3M265.45,359.65h3M275.5,353.73V360.93M274,353.73h3M274,360.93h3M284.39,355.25V362.45M282.89,355.25h3M282.89,362.45h3M293.63,357V364.2M292.13,357h3M292.13,364.2h3M303.22,359.31V366.51M301.72,359.31h3M301.72,366.51h3" fill="none" stroke="#66dd66" stroke-width="0.8"/>
<path d="M50,411.85h3v3h-3ZM51.9,411.9h3v3h-3ZM53.8,411.74h3v3h-3ZM55.7,411.56h3v3h-3ZM57.6,410.89h3v3h-3ZM59.5,410.52h3v3h-3ZM61.4,409.01h3v3h-3ZM63.3,408.24h3v3h-3ZM65.2,407.25h3v3h-3ZM67.1,406.02h3v3h-3ZM69,404.78h3v3h-3ZM70.9,402.7h3v3h-3ZM72.8,401.16h3v3h-3ZM74.7,399.36h3v3h-3ZM76.6,397.69h3v3h-3ZM78.5,396.09h3v3h-3ZM80.4,393.33h3v3h-3ZM82.3,391.02h3v3h-3ZM84.2,388.46h3v3h-3ZM86.1,386.54h3v3h-3ZM88,384h3v3h-3ZM89.9,381.13h3v3h-3ZM91.8,378.71h3v3h-3ZM93.7,375.22h3v3h-3ZM95.6,372.29h3v3h-3ZM97.5,368.91h3v3h-3ZM99.4,365.3h3v3h-3ZM101.3,362.22h3v3h-3ZM103.2,358.06h3v3h-3ZM105.1,353.48h3v3h-3ZM107,349.45h3v3h-3ZM108.9,344.72h3v3h-3ZM110.8,339.31h3v3h-3ZM112.7,334.48h3v3h-3ZM114.6,329.25h3v3h-3ZM116.35,322.28h3.3v3.3h-3.3ZM118.25,313.92h3.3v3.3h-3.3ZM120.15,306.86h3.3v3.3h-3.3ZM122.35,300.68h3.3v3.3h-3.3ZM124.55,297.69h3.3v3.3h-3.3ZM126.75,297.72h3.3v3.3h-3.3ZM128.95,299.1h3.3v3.3h-3.3ZM131.15,301.86h3.3v3.3h-3.3ZM133.35,304.71h3.3v3.3h-3.3ZM135.55,307.32h3.3v3.3h-3.3ZM137.75,309.53h3.3v3.3h-3.3ZM139.95,311.55h3.3v3.3h-3.3ZM142.95,314.39h3.3v3.3h-3.3ZM145.95,316.11h3.3v3.3h-3.3ZM148.95,317.92h3.3v3.3h-3.3ZM151.95,319.18h3.3v3.3h-3.3ZM154.95,320.05h3.3v3.3h-3.3ZM157.95,321.06h3.3v3.3h-3.3ZM160.95,321.63h3.3v3.3h-3.3ZM164.45,322.4h3.3v3.3h-3.3ZM167.95,323.16h3.3v3.3h-3.3ZM171.45,324h3.3v3.3h-3.3ZM174.95,324.26h3.3v3.3h-3.3ZM178.45,325.65h3.3v3.3h-3.3ZM181.95,326.02h3.3v3.3h-3.3ZM185.45,327.49h3.3v3.3h-3.3ZM190.3,329.12h2.6v2.6h-2.6ZM195.92,330.07h2.6v2.6h-2.6ZM201.75,332.87h2.6v2.6h-2.6ZM207.81,335.07h2.6v2.6h-2.6ZM214.11,338.15h2.6v2.6h-2.6ZM220.66,340.67h2.6v2.6h-2.6ZM227.46,343.61h2.6v2.6h-2.6ZM234.52,346.29h2.6v2.6h-2.6ZM241.86,349.31h2.6v2.6h-2.6ZM249.49,351.14h2.6v2.6h-2.6ZM257.41,353.26h2.6v2.6h-2.6ZM265.65,354.75h2.6v2.6h-2.6ZM274.2,356.03h2.6v2.6h-2.6ZM283.09,357.55h2.6v2.6h-2.6ZM292.33,359.3h2.6v2.6h-2.6ZM301.92,361.61h2.6v2.6h-2.6Z" fill="none" stroke="#3ad43a" stroke-width="0.8"/>
<path d="M191.6,326.88V334.08M190.1,326.88h3M190.1,334.08h3M197.22,327.79V334.99M195.72,327.79h3M195.72,334.99h3M203.05,330.46V337.66M201.55,330.46h3M201.55,337.66h3M209.11,332.87V340.07M207.61,332.87h3M207.61,340.07h3M215.41,335.82V343.02M213.91,335.82h3M213.91,343.02h3M221.96,338.44V345.64M220.46,338.44h3M220.46,345.64h3M228.76,341.32V348.52M227.26,341.32h3M227.26,348.52h3M235.82,344.06V351.26M234.32,344.06h3M234.32,351.26h3M243.16,346.98V354.18M241.66,346.98h3M241.66,354.18h3M250.79,348.91V356.11M249.29,348.91h3M249.29,356.11h3M258.71,350.96V358.16M257.21,350.96h3M257.21,358.16h3M266.95,352.34V359.54M265.45,352.34h3M265.45,359.54h3M275.5,353.84V361.04M274,353.84h3M274,361.04h3M284.39,355.36V362.56M282.89,355.36h3M282.89,362.56h3M293.63,357.17V364.37M292.13,357.17h3M292.13,364.37h3M303.22,359.3V366.5M301.72,359.3h3M301.72,366.5h3" fill="none" stroke="#66dd66" stroke-width="0.8"/>
<path d="M50,413.41a1.5,1.5 0 1,0 3,0a1.5,1.5 0 1,0 -3,0M51.9,413.44a1.5,1.5 0 1,0 3,0a1.5,1.5 0 1,0 -3,0M53.8,413.28a1.5,1.5 0 1,0 3,0a1.5,1.5 0 1,0 -3,0M55.7,413.03a1.5,1.5 0 1,0 3,0a1.5,1.5 0 1,0 -3,0M57.6,412.39a1.5,1.5 0 1,0 3,0a1.5,1.5 0 1,0 -3,0M59.5,411.96a1.5,1.5 0 1,0 3,0a1.5,1.5 0 1,0 -3,0M61.4,410.55a1.5,1.5 0 1,0 3,0a1.5,1.5 0 1,0 -3,0M63.3,409.76a1.5,1.5 0 1,0 3,0a1.5,1.5 0 1,0 -3,0M65.2,408.85a1.5,1.5 0 1,0 3,0a1.5,1.5 0 1,0 -3,0M67.1,407.6a1.5,1.5 0 1,0 3,0a1.5,1.5 0 1,0 -3,0M69,406.43a1.5,1.5 0 1,0 3,0a1.5,1.5 0 1,0 -3,0M70.9,404.14a1.5,1.5 0 1,0 3,0a1.5,1.5 0 1,0 -3,0M72.8,402.57a1.5,1.5 0 1,0 3,0a1.5,1.5 0 1,0 -3,0M74.7,400.89a1.5,1.5 0 1,0 3,0a1.5,1.5 0 1,0 -3,0M76.6,399.09a1.5,1.5 0 1,0 3,0a1.5,1.5 0 1,0 -3,0M78.5,397.43a1.5,1.5 0 1,0 3,0a1.5,1.5 0 1,0 -3,0M80.4,394.77a1.5,1.5 0 1,0 3,0a1.5,1.5 0 1,0 -3,0M82.3,392.46a1.5,1.5 0 1,0 3,0a1.5,1.5 0 1,0 -3,0M84.2,389.9a1.5,1.5 0 1,0 3,0a1.5,1.5 0 1,0 -3,0M86.1,387.97a1.5,1.5 0 1,0 3,0a1.5,1.5 0 1,0 -3,0M88,385.51a1.5,1.5 0 1,0 3,0a1.5,1.5 0 1,0 -3,0M89.9,382.53a1.5,1.5 0 1,0 3,0a1.5,1.5 0 1,0 -3,0M91.8,380.05a1.5,1.5 0 1,0 3,0a1.5,1.5 0 1,0 -3,0M93.7,376.5a1.5,1.5 0 1,0 3,0a1.5,1.5 0 1,0 -3,0M95.6,373.72a1.5,1.5 0 1,0 3,0a1.5,1.5 0 1,0 -3,0M97.5,370.54a1.5,1.5 0 1,0 3,0a1.5,1.5 0 1,0 -3,0M99.4,366.86a1.5,1.5 0 1,0 3,0a1.5,1.5 0 1,0 -3,0M101.3,363.76a1.5,1.5 0 1,0 3,0a1.5,1.5 0 1,0 -3,0M103.2,359.55a1.5,1.5 0 1,0 3,0a1.5,1.5 0 1,0 -3,0M105.1,355.02a1.5,1.5 0 1,0 3,0a1.5,1.5 0 1,0 -3,0M107,350.82a1.5,1.5 0 1,0 3,0a1.5,1.5 0 1,0 -3,0M108.9,346.3a1.5,1.5 0 1,0 3,0a1.5,1.5 0 1,0 -3,0M110.8,340.74a1.5,1.5 0 1,0 3,0a1.5,1.5 0 1,0 -3,0M112.7,336.05a1.5,1.5 0 1,0 3,0a1.5,1.5 0 1,0 -3,0M114.6,330.61a1.5,1.5 0 1,0 3,0a1.5,1.5 0 1,0 -3,0M116.35,324.05a1.65,1.65 0 1,0 3.3,0a1.65,1.65 0 1,0 -3.3,0M118.25,315.52a1.65,1.65 0 1,0 3.3,0a1.65,1.65 0 1,0 -3.3,0M120.15,308.47a1.65,1.65 0 1,0 3.3,0a1.65,1.65 0 1,0 -3.3,0M122.35,302.28a1.65,1.65 0 1,0 3.3,0a1.65,1.65 0 1,0 -3.3,0M124.55,299.15a1.65,1.65 0 1,0 3.3,0a1.65,1.65 0 1,0 -3.3,0M126.75,299.37a1.65,1.65 0 1,0 3.3,0a1.65,1.65 0 1,0 -3.3,0M128.95,300.66a1.65,1.65 0 1,0 3.3,0a1.65,1.65 0 1,0 -3.3,0M131.15,303.59a1.65,1.65 0 1,0 3.3,0a1.65,1.65 0 1,0 -3.3,0M133.35,306.55a1.65,1.65 0 1,0 3.3,0a1.65,1.65 0 1,0 -3.3,0M135.55,309.09a1.65,1.65 0 1,0 3.3,0a1.65,1.65 0 1,0 -3.3,0M137.75,310.99a1.65,1.65 0 1,0 3.3,0a1.65,1.65 0 1,0 -3.3,0M139.95,313.29a1.65,1.65 0 1,0 3.3,0a1.65,1.65 0 1,0 -3.3,0M142.95,315.91a1.65,1.65 0 1,0 3.3,0a1.65,1.65 0 1,0 -3.3,0M145.95,317.85a1.65,1.65 0 1,0 3.3,0a1.65,1.65 0 1,0 -3.3,0M148.95,319.79a1.65,1.65 0 1,0 3.3,0a1.65,1.65 0 1,0 -3.3,0M151.95,320.77a1.65,1.65 0 1,0 3.3,0a1.65,1.65 0 1,0 -3.3,0M154.95,321.72a1.65,1.65 0 1,0 3.3,0a1.65,1.65 0 1,0 -3.3,0M157.95,322.74a1.65,1.65 0 1,0 3.3,0a1.65,1.65 0 1,0 -3.3,0M160.95,323.54a1.65,1.65 0 1,0 3.3,0a1.65,1.65 0 1,0 -3.3,0M164.45,324.05a1.65,1.65 0 1,0 3.3,0a1.65,1.65 0 1,0 -3.3,0M167.95,324.94a1.65,1.65 0 1,0 3.3,0a1.65,1.65 0 1,0 -3.3,0M171.45,325.74a1.65,1.65 0 1,0 3.3,0a1.65,1.65 0 1,0 -3.3,0M174.95,326.1a1.65,1.65 0 1,0 3.3,0a1.65,1.65 0 1,0 -3.3,0M178.45,327.34a1.65,1.65 0 1,0 3.3,0a1.65,1.65 0 1,0 -3.3,0M181.95,327.78a1.65,1.65 0 1,0 3.3,0a1.65,1.65 0 1,0 -3.3,0M185.45,328.99a1.65,1.65 0 1,0 3.3,0a1.65,1.65 0 1,0 -3.3,0M190.3,330.48a1.3,1.3 0 1,0 2.6,0a1.3,1.3 0 1,0 -2.6,0M195.92,331.39a1.3,1.3 0 1,0 2.6,0a1.3,1.3 0 1,0 -2.6,0M201.75,334.06a1.3,1.3 0 1,0 2.6,0a1.3,1.3 0 1,0 -2.6,0M207.81,336.47a1.3,1.3 0 1,0 2.6,0a1.3,1.3 0 1,0 -2.6,0M214.11,339.42a1.3,1.3 0 1,0 2.6,0a1.3,1.3 0 1,0 -2.6,0M220.66,342.04a1.3,1.3 0 1,0 2.6,0a1.3,1.3 0 1,0 -2.6,0M227.46,344.92a1.3,1.3 0 1,0 2.6,0a1.3,1.3 0 1,0 -2.6,0M234.52,347.66a1.3,1.3 0 1,0 2.6,0a1.3,1.3 0 1,0 -2.6,0M241.86,350.58a1.3,1.3 0 1,0 2.6,0a1.3,1.3 0 1,0 -2.6,0M249.49,352.51a1.3,1.3 0 1,0 2.6,0a1.3,1.3 0 1,0 -2.6,0M257.41,354.56a1.3,1.3 0 1,0 2.6,0a1.3,1.3 0 1,0 -2.6,0M265.65,355.94a1.3,1.3 0 1,0 2.6,0a1.3,1.3 0 1,0 -2.6,0M274.2,357.44a1.3,1.3 0 1,0 2.6,0a1.3,1.3 0 1,0 -2.6,0M283.09,358.96a1.3,1.3 0 1,0 2.6,0a1.3,1.3 0 1,0 -2.6,0M292.33,360.77a1.3,1.3 0 1,0 2.6,0a1.3,1.3 0 1,0 -2.6,0M301.92,362.9a1.3,1.3 0 1,0 2.6,0a1.3,1.3 0 1,0 -2.6,0" fill="none" stroke="#3ad43a" stroke-width="0.8"/>
<path d="M191.6,328.62V335.82M190.1,328.62h3M190.1,335.82h3M197.22,330.14V337.34M195.72,330.14h3M195.72,337.34h3M203.05,331.54V338.74M201.55,331.54h3M201.55,338.74h3M209.11,333.12V340.32M207.61,333.12h3M207.61,340.32h3M215.41,334.37V341.57M213.91,334.37h3M213.91,341.57h3M221.96,335.86V343.06M220.46,335.86h3M220.46,343.06h3M228.76,336.63V343.83M227.26,336.63h3M227.26,343.83h3M235.82,338V345.2M234.32,338h3M234.32,345.2h3M243.16,340.87V348.07M241.66,340.87h3M241.66,348.07h3M250.79,342.75V349.95M249.29,342.75h3M249.29,349.95h3M258.71,345.1V352.3M257.21,345.1h3M257.21,352.3h3M266.95,346.59V353.79M265.45,346.59h3M265.45,353.79h3M275.5,348.22V355.42M274,348.22h3M274,355.42h3M284.39,349.25V356.45M282.89,349.25h3M282.89,356.45h3M293.63,350.53V357.73M292.13,350.53h3M292.13,357.73h3M303.22,351.83V359.03M301.72,351.83h3M301.72,359.03h3" fill="none" stroke="#ff7a7a" stroke-width="0.8"/>
<path d="M51.5,410.17L53.15,413.02H49.85ZM53.4,409.76L55.05,412.61H51.75ZM55.3,408.91L56.95,411.76H53.65ZM57.2,408.15L58.85,411H55.55ZM59.1,407.34L60.75,410.19H57.45ZM61,406.32L62.65,409.17H59.35ZM62.9,405.07L64.55,407.92H61.25ZM64.8,404.24L66.45,407.09H63.15ZM66.7,402.56L68.35,405.41H65.05ZM68.6,401.53L70.25,404.38H66.95ZM70.5,400.47L72.15,403.32H68.85ZM72.4,398.26L74.05,401.11H70.75ZM74.3,396.84L75.95,399.69H72.65ZM76.2,395.33L77.85,398.18H74.55ZM78.1,393.23L79.75,396.08H76.45ZM80,392.18L81.65,395.03H78.35ZM81.9,389.73L83.55,392.58H80.25ZM83.8,387.5L85.45,390.35H82.15ZM85.7,385.03L87.35,387.88H84.05ZM87.6,383.02L89.25,385.87H85.95ZM89.5,380.98L91.15,383.83H87.85ZM91.4,377.12L93.05,379.97H89.75ZM93.3,374.03L94.95,376.88H91.65ZM95.2,370.35L96.85,373.2H93.55ZM97.1,366.54L98.75,369.39H95.45ZM99,362.88L100.65,365.73H97.35ZM100.9,358.72L102.55,361.57H99.25ZM102.8,354.66L104.45,357.51H101.15ZM104.7,350.58L106.35,353.43H103.05ZM106.6,346.05L108.25,348.9H104.95ZM108.5,341.69L110.15,344.54H106.85ZM110.4,337.54L112.05,340.39H108.75ZM112.3,332.09L113.95,334.94H110.65ZM114.2,326.92L115.85,329.77H112.55ZM116.1,321.07L117.75,323.92H114.45ZM118,317.63L119.82,320.76H116.19ZM119.9,316.14L121.72,319.28H118.09ZM121.8,318.62L123.62,321.75H119.99ZM124,322.76L125.82,325.9H122.19ZM126.2,324.21L128.02,327.35H124.39ZM128.4,325.75L130.22,328.88H126.59ZM130.6,326.12L132.42,329.25H128.79ZM132.8,326.32L134.62,329.45H130.99ZM135,326.55L136.82,329.68H133.19ZM137.2,326.29L139.02,329.43H135.39ZM139.4,326.07L141.22,329.21H137.59ZM141.6,326.02L143.42,329.15H139.79ZM144.6,326.33L146.42,329.46H142.79ZM147.6,325.77L149.42,328.9H145.79ZM150.6,326.02L152.42,329.16H148.79ZM153.6,325.8L155.42,328.94H151.79ZM156.6,325.56L158.42,328.7H154.79ZM159.6,325.82L161.42,328.95H157.79ZM162.6,325.68L164.42,328.81H160.79ZM166.1,325.92L167.92,329.06H164.29ZM169.6,326.69L171.42,329.82H167.79ZM173.1,326.73L174.92,329.87H171.29ZM176.6,327.16L178.42,330.29H174.79ZM180.1,327.61L181.92,330.74H178.29ZM183.6,328.72L185.42,331.86H181.79ZM187.1,329.8L188.92,332.94H185.29ZM191.6,330.79L193.03,333.26H190.17ZM197.22,332.31L198.65,334.78H195.79ZM203.05,333.71L204.48,336.18H201.62ZM209.11,335.29L210.54,337.76H207.68ZM215.41,336.54L216.84,339.01H213.98ZM221.96,338.03L223.39,340.5H220.53ZM228.76,338.8L230.19,341.27H227.33ZM235.82,340.17L237.25,342.64H234.39ZM243.16,343.04L244.59,345.51H241.73ZM250.79,344.92L252.22,347.39H249.36ZM258.71,347.27L260.14,349.74H257.28ZM266.95,348.76L268.38,351.23H265.52ZM275.5,350.39L276.93,352.86H274.07ZM284.39,351.42L285.82,353.89H282.96ZM293.63,352.7L295.06,355.17H292.2ZM303.22,354L304.65,356.47H301.79Z" fill="none" stroke="#ff4646" stroke-width="0.8"/>
<path d="M191.6,328.59V335.79M190.1,328.59h3M190.1,335.79h3M197.22,330.04V337.24M195.72,330.04h3M195.72,337.24h3M203.05,331.5V338.7M201.55,331.5h3M201.55,338.7h3M209.11,333.12V340.32M207.61,333.12h3M207.61,340.32h3M215.41,334.49V341.69M213.91,334.49h3M213.91,341.69h3M221.96,336.09V343.29M220.46,336.09h3M220.46,343.29h3M228.76,336.7V343.9M227.26,336.7h3M227.26,343.9h3M235.82,338.14V345.34M234.32,338.14h3M234.32,345.34h3M243.16,340.67V347.87M241.66,340.67h3M241.66,347.87h3M250.79,342.71V349.91M249.29,342.71h3M249.29,349.91h3M258.71,345.19V352.39M257.21,345.19h3M257.21,352.39h3M266.95,346.65V353.85M265.45,346.65h3M265.45,353.85h3M275.5,348.34V355.54M274,348.34h3M274,355.54h3M284.39,349.28V356.48M282.89,349.28h3M282.89,356.48h3M293.63,350.65V357.85M292.13,350.65h3M292.13,357.85h3M303.22,351.91V359.11M301.72,351.91h3M301.72,359.11h3" fill="none" stroke="#ff7a7a" stroke-width="0.8"/>
<path d="M50,410.16h3v3h-3ZM51.9,410.11h3v3h-3ZM53.8,408.95h3v3h-3ZM55.7,408.43h3v3h-3ZM57.6,407.65h3v3h-3ZM59.5,406.6h3v3h-3ZM61.4,405.25h3v3h-3ZM63.3,404.46h3v3h-3ZM65.2,402.7h3v3h-3ZM67.1,401.67h3v3h-3ZM69,400.51h3v3h-3ZM70.9,398.58h3v3h-3ZM72.8,397.01h3v3h-3ZM74.7,395.5h3v3h-3ZM76.6,393.4h3v3h-3ZM78.5,392.16h3v3h-3ZM80.4,389.87h3v3h-3ZM82.3,387.41h3v3h-3ZM84.2,385.16h3v3h-3ZM86.1,383.37h3v3h-3ZM88,381h3v3h-3ZM89.9,377.35h3v3h-3ZM91.8,374.11h3v3h-3ZM93.7,370.56h3v3h-3ZM95.6,366.87h3v3h-3ZM97.5,362.96h3v3h-3ZM99.4,358.71h3v3h-3ZM101.3,354.81h3v3h-3ZM103.2,350.9h3v3h-3ZM105.1,346.19h3v3h-3ZM107,341.83h3v3h-3ZM108.9,337.57h3v3h-3ZM110.8,332.49h3v3h-3ZM112.7,326.88h3v3h-3ZM114.6,321.13h3v3h-3ZM116.35,317.96h3.3v3.3h-3.3ZM118.25,316.33h3.3v3.3h-3.3ZM120.15,318.61h3.3v3.3h-3.3ZM122.35,322.99h3.3v3.3h-3.3ZM124.55,324.56h3.3v3.3h-3.3ZM126.75,326.03h3.3v3.3h-3.3ZM128.95,326.14h3.3v3.3h-3.3ZM131.15,326.32h3.3v3.3h-3.3ZM133.35,326.49h3.3v3.3h-3.3ZM135.55,326.6h3.3v3.3h-3.3ZM137.75,326.13h3.3v3.3h-3.3ZM139.95,326.31h3.3v3.3h-3.3ZM142.95,326.33h3.3v3.3h-3.3ZM145.95,325.83h3.3v3.3h-3.3ZM148.95,325.98h3.3v3.3h-3.3ZM151.95,325.97h3.3v3.3h-3.3ZM154.95,325.71h3.3v3.3h-3.3ZM157.95,326.05h3.3v3.3h-3.3ZM160.95,325.9h3.3v3.3h-3.3ZM164.45,326.17h3.3v3.3h-3.3ZM167.95,326.6h3.3v3.3h-3.3ZM171.45,326.76h3.3v3.3h-3.3ZM174.95,327.39h3.3v3.3h-3.3ZM178.45,327.82h3.3v3.3h-3.3ZM181.95,328.9h3.3v3.3h-3.3ZM185.45,329.82h3.3v3.3h-3.3ZM190.3,330.89h2.6v2.6h-2.6ZM195.92,332.34h2.6v2.6h-2.6ZM201.75,333.8h2.6v2.6h-2.6ZM207.81,335.42h2.6v2.6h-2.6ZM214.11,336.79h2.6v2.6h-2.6ZM220.66,338.39h2.6v2.6h-2.6ZM227.46,339h2.6v2.6h-2.6ZM234.52,340.44h2.6v2.6h-2.6ZM241.86,342.97h2.6v2.6h-2.6ZM249.49,345.01h2.6v2.6h-2.6ZM257.41,347.49h2.6v2.6h-2.6ZM265.65,348.95h2.6v2.6h-2.6ZM274.2,350.64h2.6v2.6h-2.6ZM283.09,351.58h2.6v2.6h-2.6ZM292.33,352.95h2.6v2.6h-2.6ZM301.92,354.21h2.6v2.6h-2.6Z" fill="none" stroke="#ff4646" stroke-width="0.8"/>
<path d="M191.6,328.53V335.73M190.1,328.53h3M190.1,335.73h3M197.22,330.02V337.22M195.72,330.02h3M195.72,337.22h3M203.05,331.58V338.78M201.55,331.58h3M201.55,338.78h3M209.11,333.34V340.54M207.61,333.34h3M207.61,340.54h3M215.41,334.54V341.74M213.91,334.54h3M213.91,341.74h3M221.96,335.84V343.04M220.46,335.84h3M220.46,343.04h3M228.76,336.68V343.88M227.26,336.68h3M227.26,343.88h3M235.82,337.93V345.13M234.32,337.93h3M234.32,345.13h3M243.16,340.81V348.01M241.66,340.81h3M241.66,348.01h3M250.79,342.83V350.03M249.29,342.83h3M249.29,350.03h3M258.71,345.31V352.51M257.21,345.31h3M257.21,352.51h3M266.95,346.74V353.94M265.45,346.74h3M265.45,353.94h3M275.5,348.21V355.41M274,348.21h3M274,355.41h3M284.39,349.26V356.46M282.89,349.26h3M282.89,356.46h3M293.63,350.74V357.94M292.13,350.74h3M292.13,357.94h3M303.22,351.83V359.03M301.72,351.83h3M301.72,359.03h3" fill="none" stroke="#ff7a7a" stroke-width="0.8"/>
<path d="M50,411.93a1.5,1.5 0 1,0 3,0a1.5,1.5 0 1,0 -3,0M51.9,411.42a1.5,1.5 0 1,0 3,0a1.5,1.5 0 1,0 -3,0M53.8,410.47a1.5,1.5 0 1,0 3,0a1.5,1.5 0 1,0 -3,0M55.7,409.89a1.5,1.5 0 1,0 3,0a1.5,1.5 0 1,0 -3,0M57.6,409.01a1.5,1.5 0 1,0 3,0a1.5,1.5 0 1,0 -3,0M59.5,407.93a1.5,1.5 0 1,0 3,0a1.5,1.5 0 1,0 -3,0M61.4,406.71a1.5,1.5 0 1,0 3,0a1.5,1.5 0 1,0 -3,0M63.3,405.7a1.5,1.5 0 1,0 3,0a1.5,1.5 0 1,0 -3,0M65.2,404.39a1.5,1.5 0 1,0 3,0a1.5,1.5 0 1,0 -3,0M67.1,403.21a1.5,1.5 0 1,0 3,0a1.5,1.5 0 1,0 -3,0M69,402.02a1.5,1.5 0 1,0 3,0a1.5,1.5 0 1,0 -3,0M70.9,399.92a1.5,1.5 0 1,0 3,0a1.5,1.5 0 1,0 -3,0M72.8,398.31a1.5,1.5 0 1,0 3,0a1.5,1.5 0 1,0 -3,0M74.7,397.03a1.5,1.5 0 1,0 3,0a1.5,1.5 0 1,0 -3,0M76.6,394.87a1.5,1.5 0 1,0 3,0a1.5,1.5 0 1,0 -3,0M78.5,393.78a1.5,1.5 0 1,0 3,0a1.5,1.5 0 1,0 -3,0M80.4,391.48a1.5,1.5 0 1,0 3,0a1.5,1.5 0 1,0 -3,0M82.3,388.96a1.5,1.5 0 1,0 3,0a1.5,1.5 0 1,0 -3,0M84.2,386.56a1.5,1.5 0 1,0 3,0a1.5,1.5 0 1,0 -3,0M86.1,384.78a1.5,1.5 0 1,0 3,0a1.5,1.5 0 1,0 -3,0M88,382.41a1.5,1.5 0 1,0 3,0a1.5,1.5 0 1,0 -3,0M89.9,378.82a1.5,1.5 0 1,0 3,0a1.5,1.5 0 1,0 -3,0M91.8,375.55a1.5,1.5 0 1,0 3,0a1.5,1.5 0 1,0 -3,0M93.7,372.09a1.5,1.5 0 1,0 3,0a1.5,1.5 0 1,0 -3,0M95.6,368.18a1.5,1.5 0 1,0 3,0a1.5,1.5 0 1,0 -3,0M97.5,364.37a1.5,1.5 0 1,0 3,0a1.5,1.5 0 1,0 -3,0M99.4,360.26a1.5,1.5 0 1,0 3,0a1.5,1.5 0 1,0 -3,0M101.3,356.47a1.5,1.5 0 1,0 3,0a1.5,1.5 0 1,0 -3,0M103.2,352.36a1.5,1.5 0 1,0 3,0a1.5,1.5 0 1,0 -3,0M105.1,347.68a1.5,1.5 0 1,0 3,0a1.5,1.5 0 1,0 -3,0M107,343.33a1.5,1.5 0 1,0 3,0a1.5,1.5 0 1,0 -3,0M108.9,339.17a1.5,1.5 0 1,0 3,0a1.5,1.5 0 1,0 -3,0M110.8,333.87a1.5,1.5 0 1,0 3,0a1.5,1.5 0 1,0 -3,0M112.7,328.51a1.5,1.5 0 1,0 3,0a1.5,1.5 0 1,0 -3,0M114.6,322.86a1.5,1.5 0 1,0 3,0a1.5,1.5 0 1,0 -3,0M116.35,319.57a1.65,1.65 0 1,0 3.3,0a1.65,1.65 0 1,0 -3.3,0M118.25,318.15a1.65,1.65 0 1,0 3.3,0a1.65,1.65 0 1,0 -3.3,0M120.15,320.47a1.65,1.65 0 1,0 3.3,0a1.65,1.65 0 1,0 -3.3,0M122.35,324.68a1.65,1.65 0 1,0 3.3,0a1.65,1.65 0 1,0 -3.3,0M124.55,325.99a1.65,1.65 0 1,0 3.3,0a1.65,1.65 0 1,0 -3.3,0M126.75,327.77a1.65,1.65 0 1,0 3.3,0a1.65,1.65 0 1,0 -3.3,0M128.95,327.8a1.65,1.65 0 1,0 3.3,0a1.65,1.65 0 1,0 -3.3,0M131.15,327.98a1.65,1.65 0 1,0 3.3,0a1.65,1.65 0 1,0 -3.3,0M133.35,328.14a1.65,1.65 0 1,0 3.3,0a1.65,1.65 0 1,0 -3.3,0M135.55,328.03a1.65,1.65 0 1,0 3.3,0a1.65,1.65 0 1,0 -3.3,0M137.75,327.71a1.65,1.65 0 1,0 3.3,0a1.65,1.65 0 1,0 -3.3,0M139.95,327.88a1.65,1.65 0 1,0 3.3,0a1.65,1.65 0 1,0 -3.3,0M142.95,328.05a1.65,1.65 0 1,0 3.3,0a1.65,1.65 0 1,0 -3.3,0M145.95,327.43a1.65,1.65 0 1,0 3.3,0a1.65,1.65 0 1,0 -3.3,0M148.95,327.85a1.65,1.65 0 1,0 3.3,0a1.65,1.65 0 1,0 -3.3,0M151.95,327.67a1.65,1.65 0 1,0 3.3,0a1.65,1.65 0 1,0 -3.3,0M154.95,327.35a1.65,1.65 0 1,0 3.3,0a1.65,1.65 0 1,0 -3.3,0M157.95,327.64a1.65,1.65 0 1,0 3.3,0a1.65,1.65 0 1,0 -3.3,0M160.95,327.47a1.65,1.65 0 1,0 3.3,0a1.65,1.65 0 1,0 -3.3,0M164.45,327.83a1.65,1.65 0 1,0 3.3,0a1.65,1.65 0 1,0 -3.3,0M167.95,328.5a1.65,1.65 0 1,0 3.3,0a1.65,1.65 0 1,0 -3.3,0M171.45,328.69a1.65,1.65 0 1,0 3.3,0a1.65,1.65 0 1,0 -3.3,0M174.95,328.93a1.65,1.65 0 1,0 3.3,0a1.65,1.65 0 1,0 -3.3,0M178.45,329.49a1.65,1.65 0 1,0 3.3,0a1.65,1.65 0 1,0 -3.3,0M181.95,330.52a1.65,1.65 0 1,0 3.3,0a1.65,1.65 0 1,0 -3.3,0M185.45,331.46a1.65,1.65 0 1,0 3.3,0a1.65,1.65 0 1,0 -3.3,0M190.3,332.13a1.3,1.3 0 1,0 2.6,0a1.3,1.3 0 1,0 -2.6,0M195.92,333.62a1.3,1.3 0 1,0 2.6,0a1.3,1.3 0 1,0 -2.6,0M201.75,335.18a1.3,1.3 0 1,0 2.6,0a1.3,1.3 0 1,0 -2.6,0M207.81,336.94a1.3,1.3 0 1,0 2.6,0a1.3,1.3 0 1,0 -2.6,0M214.11,338.14a1.3,1.3 0 1,0 2.6,0a1.3,1.3 0 1,0 -2.6,0M220.66,339.44a1.3,1.3 0 1,0 2.6,0a1.3,1.3 0 1,0 -2.6,0M227.46,340.28a1.3,1.3 0 1,0 2.6,0a1.3,1.3 0 1,0 -2.6,0M234.52,341.53a1.3,1.3 0 1,0 2.6,0a1.3,1.3 0 1,0 -2.6,0M241.86,344.41a1.3,1.3 0 1,0 2.6,0a1.3,1.3 0 1,0 -2.6,0M249.49,346.43a1.3,1.3 0 1,0 2.6,0a1.3,1.3 0 1,0 -2.6,0M257.41,348.91a1.3,1.3 0 1,0 2.6,0a1.3,1.3 0 1,0 -2.6,0M265.65,350.34a1.3,1.3 0 1,0 2.6,0a1.3,1.3 0 1,0 -2.6,0M274.2,351.81a1.3,1.3 0 1,0 2.6,0a1.3,1.3 0 1,0 -2.6,0M283.09,352.86a1.3,1.3 0 1,0 2.6,0a1.3,1.3 0 1,0 -2.6,0M292.33,354.34a1.3,1.3 0 1,0 2.6,0a1.3,1.3 0 1,0 -2.6,0M301.92,355.43a1.3,1.3 0 1,0 2.6,0a1.3,1.3 0 1,0 -2.6,0" fill="none" stroke="#ff4646" stroke-width="0.8"/>
<polyline points="154.6,331.4 156,330.3 160,329.3 167,328.8 175,329.3 180,330.2 190,332.3 200,335.3 210,338.5 220,341.8 240,346.5 260,351 280,355.2 304.6,360.3" fill="none" stroke="#101880" stroke-width="3.0" stroke-linejoin="round" stroke-linecap="butt"/>
<polyline points="156,330.1 160,329.1 167,328.6 175,329.1 180,330 190,332.1 200,335.1 210,338.3 220,341.6 240,346.3 260,350.8 280,355 304.6,360.1" fill="none" stroke="#0a1cff" stroke-width="2.7" stroke-linejoin="round" stroke-linecap="butt"/>
</g>
<line x1="127.5" y1="307.2" x2="127.5" y2="321.3" stroke="#22cc22" stroke-width="1.2" />
<path d="M127.5,303.2 L126,308.2 L129,308.2 Z" fill="#22cc22"/>
<line x1="118.8" y1="328.3" x2="118.8" y2="342.4" stroke="#ff2a2a" stroke-width="1.2" />
<path d="M118.8,324.3 L117.3,329.3 L120.3,329.3 Z" fill="#ff2a2a"/>
<rect x="47.6" y="225.8" width="257" height="187.4" fill="none" stroke="#2a2a2a" stroke-width="1.2"/>
<line x1="111.8" y1="413.2" x2="111.8" y2="410" stroke="#2a2a2a" stroke-width="1" />
<line x1="111.8" y1="225.8" x2="111.8" y2="229" stroke="#2a2a2a" stroke-width="1" />
<line x1="176" y1="413.2" x2="176" y2="410" stroke="#2a2a2a" stroke-width="1" />
<line x1="176" y1="225.8" x2="176" y2="229" stroke="#2a2a2a" stroke-width="1" />
<line x1="240.2" y1="413.2" x2="240.2" y2="410" stroke="#2a2a2a" stroke-width="1" />
<line x1="240.2" y1="225.8" x2="240.2" y2="229" stroke="#2a2a2a" stroke-width="1" />
<line x1="79.7" y1="413.2" x2="79.7" y2="411.2" stroke="#2a2a2a" stroke-width="1" />
<line x1="79.7" y1="225.8" x2="79.7" y2="227.8" stroke="#2a2a2a" stroke-width="1" />
<line x1="143.9" y1="413.2" x2="143.9" y2="411.2" stroke="#2a2a2a" stroke-width="1" />
<line x1="143.9" y1="225.8" x2="143.9" y2="227.8" stroke="#2a2a2a" stroke-width="1" />
<line x1="208.1" y1="413.2" x2="208.1" y2="411.2" stroke="#2a2a2a" stroke-width="1" />
<line x1="208.1" y1="225.8" x2="208.1" y2="227.8" stroke="#2a2a2a" stroke-width="1" />
<line x1="272.3" y1="413.2" x2="272.3" y2="411.2" stroke="#2a2a2a" stroke-width="1" />
<line x1="272.3" y1="225.8" x2="272.3" y2="227.8" stroke="#2a2a2a" stroke-width="1" />
<line x1="47.6" y1="350.8" x2="50.8" y2="350.8" stroke="#2a2a2a" stroke-width="1" />
<line x1="304.6" y1="350.8" x2="301.4" y2="350.8" stroke="#2a2a2a" stroke-width="1" />
<line x1="47.6" y1="288.4" x2="50.8" y2="288.4" stroke="#2a2a2a" stroke-width="1" />
<line x1="304.6" y1="288.4" x2="301.4" y2="288.4" stroke="#2a2a2a" stroke-width="1" />
<line x1="47.6" y1="397.6" x2="49.6" y2="397.6" stroke="#2a2a2a" stroke-width="1" />
<line x1="304.6" y1="397.6" x2="302.6" y2="397.6" stroke="#2a2a2a" stroke-width="1" />
<line x1="47.6" y1="382" x2="49.6" y2="382" stroke="#2a2a2a" stroke-width="1" />
<line x1="304.6" y1="382" x2="302.6" y2="382" stroke="#2a2a2a" stroke-width="1" />
<line x1="47.6" y1="366.4" x2="49.6" y2="366.4" stroke="#2a2a2a" stroke-width="1" />
<line x1="304.6" y1="366.4" x2="302.6" y2="366.4" stroke="#2a2a2a" stroke-width="1" />
<line x1="47.6" y1="335.2" x2="49.6" y2="335.2" stroke="#2a2a2a" stroke-width="1" />
<line x1="304.6" y1="335.2" x2="302.6" y2="335.2" stroke="#2a2a2a" stroke-width="1" />
<line x1="47.6" y1="319.6" x2="49.6" y2="319.6" stroke="#2a2a2a" stroke-width="1" />
<line x1="304.6" y1="319.6" x2="302.6" y2="319.6" stroke="#2a2a2a" stroke-width="1" />
<line x1="47.6" y1="304" x2="49.6" y2="304" stroke="#2a2a2a" stroke-width="1" />
<line x1="304.6" y1="304" x2="302.6" y2="304" stroke="#2a2a2a" stroke-width="1" />
<line x1="47.6" y1="272.8" x2="49.6" y2="272.8" stroke="#2a2a2a" stroke-width="1" />
<line x1="304.6" y1="272.8" x2="302.6" y2="272.8" stroke="#2a2a2a" stroke-width="1" />
<line x1="47.6" y1="257.2" x2="49.6" y2="257.2" stroke="#2a2a2a" stroke-width="1" />
<line x1="304.6" y1="257.2" x2="302.6" y2="257.2" stroke="#2a2a2a" stroke-width="1" />
<line x1="47.6" y1="241.6" x2="49.6" y2="241.6" stroke="#2a2a2a" stroke-width="1" />
<line x1="304.6" y1="241.6" x2="302.6" y2="241.6" stroke="#2a2a2a" stroke-width="1" />
<text transform="translate(47.6,427) scale(1,1.07)" font-size="12" text-anchor="middle" fill="#111" stroke="#111">0</text>
<text transform="translate(111.8,427) scale(1,1.07)" font-size="12" text-anchor="middle" fill="#111" stroke="#111">20</text>
<text transform="translate(176,427) scale(1,1.07)" font-size="12" text-anchor="middle" fill="#111" stroke="#111">40</text>
<text transform="translate(240.2,427) scale(1,1.07)" font-size="12" text-anchor="middle" fill="#111" stroke="#111">60</text>
<text transform="translate(304.4,427) scale(1,1.07)" font-size="12" text-anchor="middle" fill="#111" stroke="#111">80</text>
<text transform="translate(44.2,417.5) scale(1,1.07)" font-size="12" text-anchor="end" fill="#111" stroke="#111">0</text>
<text transform="translate(44.2,355.1) scale(1,1.07)" font-size="12" text-anchor="end" fill="#111" stroke="#111">4</text>
<text transform="translate(44.2,292.7) scale(1,1.07)" font-size="12" text-anchor="end" fill="#111" stroke="#111">8</text>
<text transform="translate(44.2,230.3) scale(1,1.07)" font-size="12" text-anchor="end" fill="#111" stroke="#111">12</text>
<text transform="translate(12.4,319) rotate(-90)" font-size="15.5" text-anchor="middle" fill="#111" stroke="#111"><tspan font-style="italic">C</tspan><tspan font-style="italic" font-size="10" dy="3">m</tspan><tspan dy="-3"> (J/K/mol)</tspan></text>
<text x="176.8" y="441.8" font-size="15" text-anchor="middle" fill="#111" stroke="#111" ><tspan font-style="italic">T</tspan><tspan dx="-0.6"> (K)</tspan></text>
<text x="54" y="246.5" font-size="17.5" text-anchor="start" fill="#111" stroke="#111" letter-spacing="0.3">(c)</text>
<text x="54.9" y="264.4" font-size="11.9" text-anchor="start" fill="#8f2cff" stroke="#8f2cff" >CuCrO<tspan font-size="8.6" dy="3">2</tspan></text>
<text x="54.9" y="281.1" font-size="11.9" text-anchor="start" fill="#8f2cff" stroke="#8f2cff" >Okuda <tspan font-style="italic">et al</tspan></text>
<text transform="translate(60,305.6) scale(1,1.05)" font-size="11.7" fill="#22cc22" stroke="#22cc22"><tspan font-style="italic">T</tspan><tspan font-style="italic" font-size="7.5" dx="-0.8" dy="2.5">λ</tspan><tspan dx="-0.8" dy="-2.5">(H)=25K</tspan></text>
<text transform="translate(110.8,356.6) scale(1,1.05)" font-size="11.7" fill="#ff2a2a" stroke="#ff2a2a"><tspan font-style="italic">T</tspan><tspan font-style="italic" font-size="7.5" dx="-0.8" dy="2.5">λ</tspan><tspan dx="-0.8" dy="-2.5">(D)=22K</tspan></text>
<path d="M204,236.12L205.98,239.54H202.02Z" fill="#fff" stroke="#22cc22" stroke-width="0.85"/>
<text transform="translate(221.6,242.4) scale(1.12,1)" font-family="Liberation Serif, serif" font-style="italic" font-size="11.9" fill="#111" stroke="#111">α</text>
<text x="229.04" y="242.4" font-size="11.9" fill="#111" stroke="#111" >-CrOOH, 4 T</text>
<path d="M202.2,252.75h3.6v3.6h-3.6Z" fill="#fff" stroke="#22cc22" stroke-width="0.85"/>
<text transform="translate(221.6,258.85) scale(1.12,1)" font-family="Liberation Serif, serif" font-style="italic" font-size="11.9" fill="#111" stroke="#111">α</text>
<text x="229.04" y="258.85" font-size="11.9" fill="#111" stroke="#111" >-CrOOH, 2 T</text>
<path d="M202.2,271a1.8,1.8 0 1,0 3.6,0a1.8,1.8 0 1,0 -3.6,0" fill="#fff" stroke="#22cc22" stroke-width="0.85"/>
<text transform="translate(221.6,275.3) scale(1.12,1)" font-family="Liberation Serif, serif" font-style="italic" font-size="11.9" fill="#111" stroke="#111">α</text>
<text x="229.04" y="275.3" font-size="11.9" fill="#111" stroke="#111" >-CrOOH, 0 T</text>
<path d="M204,285.47L205.98,288.89H202.02Z" fill="#fff" stroke="#ff2a2a" stroke-width="0.85"/>
<text transform="translate(221.6,291.75) scale(1.12,1)" font-family="Liberation Serif, serif" font-style="italic" font-size="11.9" fill="#111" stroke="#111">α</text>
<text x="229.04" y="291.75" font-size="11.9" fill="#111" stroke="#111" >-CrOOD, 4 T</text>
<path d="M202.2,302.1h3.6v3.6h-3.6Z" fill="#fff" stroke="#ff2a2a" stroke-width="0.85"/>
<text transform="translate(221.6,308.2) scale(1.12,1)" font-family="Liberation Serif, serif" font-style="italic" font-size="11.9" fill="#111" stroke="#111">α</text>
<text x="229.04" y="308.2" font-size="11.9" fill="#111" stroke="#111" >-CrOOD, 2 T</text>
<path d="M202.2,320.35a1.8,1.8 0 1,0 3.6,0a1.8,1.8 0 1,0 -3.6,0" fill="#fff" stroke="#ff2a2a" stroke-width="0.85"/>
<text transform="translate(221.6,324.65) scale(1.12,1)" font-family="Liberation Serif, serif" font-style="italic" font-size="11.9" fill="#111" stroke="#111">α</text>
<text x="229.04" y="324.65" font-size="11.9" fill="#111" stroke="#111" >-CrOOD, 0 T</text>
<line x1="121.7" y1="377.6" x2="149.6" y2="377.6" stroke="#101880" stroke-width="2.3" />
<line x1="121.7" y1="394.6" x2="149.6" y2="394.6" stroke="#0a1cff" stroke-width="2.3" />
<text x="153" y="381.9" font-size="11.9" text-anchor="start" fill="#111" stroke="#111" ><tspan font-style="italic">D</tspan>/<tspan font-style="italic">J</tspan><tspan font-size="8" dy="3">1</tspan><tspan dy="-3"> = 5%</tspan></text>
<text x="153" y="399.3" font-size="11.9" text-anchor="start" fill="#111" stroke="#111" ><tspan font-style="italic">D</tspan>/<tspan font-style="italic">J</tspan><tspan font-size="8" dy="3">1</tspan><tspan dy="-3"> = -5%</tspan></text>
<clipPath id="cd"><rect x="350.6" y="225.8" width="257.19999999999993" height="187.3"/></clipPath>
<g clip-path="url(#cd)">
<path d="M349.9,407.8h3.4v3.4h-3.4ZM359.8,400.1h3.4v3.4h-3.4ZM372.3,386.4h3.4v3.4h-3.4ZM382.9,382h3.4v3.4h-3.4ZM392.3,373.7h3.4v3.4h-3.4ZM401.3,367.7h3.4v3.4h-3.4ZM408.9,361.1h3.4v3.4h-3.4ZM415.9,355.9h3.4v3.4h-3.4ZM422.6,351.2h3.4v3.4h-3.4ZM428.41,346.4h3.4v3.4h-3.4ZM433.95,342.71h3.4v3.4h-3.4ZM439.13,338.33h3.4v3.4h-3.4ZM444.01,335.01h3.4v3.4h-3.4ZM448.61,331.47h3.4v3.4h-3.4ZM452.97,326.97h3.4v3.4h-3.4ZM457.11,323.65h3.4v3.4h-3.4ZM461.05,322.23h3.4v3.4h-3.4ZM464.81,318.15h3.4v3.4h-3.4ZM468.41,315.31h3.4v3.4h-3.4ZM471.85,314.16h3.4v3.4h-3.4ZM475.16,310.54h3.4v3.4h-3.4ZM478.34,308.8h3.4v3.4h-3.4ZM481.39,305.7h3.4v3.4h-3.4ZM484.34,303.74h3.4v3.4h-3.4ZM487.19,300.55h3.4v3.4h-3.4ZM489.94,299.38h3.4v3.4h-3.4ZM492.61,297.78h3.4v3.4h-3.4ZM495.18,295.08h3.4v3.4h-3.4ZM497.68,293.58h3.4v3.4h-3.4ZM502.18,289.95h3.4v3.4h-3.4ZM506.43,285.42h3.4v3.4h-3.4ZM510.48,283.67h3.4v3.4h-3.4ZM514.34,280.38h3.4v3.4h-3.4ZM518.03,277.71h3.4v3.4h-3.4ZM521.55,275.16h3.4v3.4h-3.4ZM524.93,273.81h3.4v3.4h-3.4ZM528.18,271.32h3.4v3.4h-3.4ZM531.31,269.55h3.4v3.4h-3.4ZM534.32,267.76h3.4v3.4h-3.4ZM537.22,266.01h3.4v3.4h-3.4ZM540.02,264.68h3.4v3.4h-3.4ZM542.73,262.67h3.4v3.4h-3.4ZM545.36,261.64h3.4v3.4h-3.4ZM547.9,259.89h3.4v3.4h-3.4ZM550.37,259.03h3.4v3.4h-3.4ZM552.76,257.66h3.4v3.4h-3.4ZM555.09,255.61h3.4v3.4h-3.4ZM557.35,254.41h3.4v3.4h-3.4ZM559.55,253.28h3.4v3.4h-3.4ZM561.7,252.86h3.4v3.4h-3.4ZM563.79,251.18h3.4v3.4h-3.4ZM565.83,250.26h3.4v3.4h-3.4ZM567.82,248.84h3.4v3.4h-3.4ZM569.76,247.99h3.4v3.4h-3.4ZM571.65,246.83h3.4v3.4h-3.4ZM573.51,245.77h3.4v3.4h-3.4ZM575.32,243.37h3.4v3.4h-3.4ZM577.09,241.03h3.4v3.4h-3.4ZM578.83,238.74h3.4v3.4h-3.4ZM580.53,236.55h3.4v3.4h-3.4ZM582.2,234.71h3.4v3.4h-3.4ZM583.83,232.92h3.4v3.4h-3.4ZM585.43,231.23h3.4v3.4h-3.4ZM587,230.36h3.4v3.4h-3.4ZM588.54,229.52h3.4v3.4h-3.4ZM590.05,229.53h3.4v3.4h-3.4ZM591.54,230.37h3.4v3.4h-3.4ZM593,231.61h3.4v3.4h-3.4ZM594.43,233.28h3.4v3.4h-3.4ZM595.84,234.57h3.4v3.4h-3.4ZM597.22,235.26h3.4v3.4h-3.4ZM598.58,235.94h3.4v3.4h-3.4ZM599.92,236.61h3.4v3.4h-3.4ZM601.24,236.96h3.4v3.4h-3.4ZM602.54,237.17h3.4v3.4h-3.4ZM603.82,237.39h3.4v3.4h-3.4ZM605.07,237.6h3.4v3.4h-3.4ZM606.31,237.8h3.4v3.4h-3.4ZM607.53,237.8h3.4v3.4h-3.4ZM608.73,237.8h3.4v3.4h-3.4Z" fill="none" stroke="#a868ff" stroke-width="0.8"/>
<polyline points="350.6,412.9 540,265.74" fill="none" stroke="#8f2cff" stroke-width="2.2" stroke-linejoin="round" />
<polyline points="350.6,378.8 586,244.15" fill="none" stroke="#1fdd1f" stroke-width="2.8" stroke-linejoin="round" />
<polyline points="350.6,370.3 583,243.06" fill="none" stroke="#ff1a1a" stroke-width="2.8" stroke-linejoin="round" />
<path d="M394.2,351.05a1.3,1.3 0 1,0 2.6,0a1.3,1.3 0 1,0 -2.6,0M396.5,350.18a1.3,1.3 0 1,0 2.6,0a1.3,1.3 0 1,0 -2.6,0M398.8,348.36a1.3,1.3 0 1,0 2.6,0a1.3,1.3 0 1,0 -2.6,0M401.1,347.39a1.3,1.3 0 1,0 2.6,0a1.3,1.3 0 1,0 -2.6,0M403.4,345.71a1.3,1.3 0 1,0 2.6,0a1.3,1.3 0 1,0 -2.6,0M405.7,344.49a1.3,1.3 0 1,0 2.6,0a1.3,1.3 0 1,0 -2.6,0M408,343.62a1.3,1.3 0 1,0 2.6,0a1.3,1.3 0 1,0 -2.6,0M410.3,341.83a1.3,1.3 0 1,0 2.6,0a1.3,1.3 0 1,0 -2.6,0M412.6,340.78a1.3,1.3 0 1,0 2.6,0a1.3,1.3 0 1,0 -2.6,0M414.9,339.35a1.3,1.3 0 1,0 2.6,0a1.3,1.3 0 1,0 -2.6,0M417.2,338.03a1.3,1.3 0 1,0 2.6,0a1.3,1.3 0 1,0 -2.6,0M419.5,336.74a1.3,1.3 0 1,0 2.6,0a1.3,1.3 0 1,0 -2.6,0M421.8,335.25a1.3,1.3 0 1,0 2.6,0a1.3,1.3 0 1,0 -2.6,0M424.1,334.31a1.3,1.3 0 1,0 2.6,0a1.3,1.3 0 1,0 -2.6,0M426.4,332.55a1.3,1.3 0 1,0 2.6,0a1.3,1.3 0 1,0 -2.6,0M428.7,331.32a1.3,1.3 0 1,0 2.6,0a1.3,1.3 0 1,0 -2.6,0M431,329.88a1.3,1.3 0 1,0 2.6,0a1.3,1.3 0 1,0 -2.6,0M433.3,328.71a1.3,1.3 0 1,0 2.6,0a1.3,1.3 0 1,0 -2.6,0M435.6,327.48a1.3,1.3 0 1,0 2.6,0a1.3,1.3 0 1,0 -2.6,0M437.9,326.46a1.3,1.3 0 1,0 2.6,0a1.3,1.3 0 1,0 -2.6,0M440.2,324.83a1.3,1.3 0 1,0 2.6,0a1.3,1.3 0 1,0 -2.6,0M442.5,323.36a1.3,1.3 0 1,0 2.6,0a1.3,1.3 0 1,0 -2.6,0M444.8,322.13a1.3,1.3 0 1,0 2.6,0a1.3,1.3 0 1,0 -2.6,0M447.1,321.25a1.3,1.3 0 1,0 2.6,0a1.3,1.3 0 1,0 -2.6,0M449.4,319.38a1.3,1.3 0 1,0 2.6,0a1.3,1.3 0 1,0 -2.6,0M451.7,318.4a1.3,1.3 0 1,0 2.6,0a1.3,1.3 0 1,0 -2.6,0M454,316.94a1.3,1.3 0 1,0 2.6,0a1.3,1.3 0 1,0 -2.6,0M456.3,315.79a1.3,1.3 0 1,0 2.6,0a1.3,1.3 0 1,0 -2.6,0M458.6,314.28a1.3,1.3 0 1,0 2.6,0a1.3,1.3 0 1,0 -2.6,0M460.9,313.18a1.3,1.3 0 1,0 2.6,0a1.3,1.3 0 1,0 -2.6,0M463.2,311.75a1.3,1.3 0 1,0 2.6,0a1.3,1.3 0 1,0 -2.6,0M465.5,310.52a1.3,1.3 0 1,0 2.6,0a1.3,1.3 0 1,0 -2.6,0M467.8,309.36a1.3,1.3 0 1,0 2.6,0a1.3,1.3 0 1,0 -2.6,0M470.1,307.85a1.3,1.3 0 1,0 2.6,0a1.3,1.3 0 1,0 -2.6,0M472.4,306.27a1.3,1.3 0 1,0 2.6,0a1.3,1.3 0 1,0 -2.6,0M474.7,304.91a1.3,1.3 0 1,0 2.6,0a1.3,1.3 0 1,0 -2.6,0M477,304.12a1.3,1.3 0 1,0 2.6,0a1.3,1.3 0 1,0 -2.6,0M479.3,302.53a1.3,1.3 0 1,0 2.6,0a1.3,1.3 0 1,0 -2.6,0M481.6,301.04a1.3,1.3 0 1,0 2.6,0a1.3,1.3 0 1,0 -2.6,0M483.9,300.18a1.3,1.3 0 1,0 2.6,0a1.3,1.3 0 1,0 -2.6,0M486.2,298.64a1.3,1.3 0 1,0 2.6,0a1.3,1.3 0 1,0 -2.6,0M488.5,297.41a1.3,1.3 0 1,0 2.6,0a1.3,1.3 0 1,0 -2.6,0M490.8,296.19a1.3,1.3 0 1,0 2.6,0a1.3,1.3 0 1,0 -2.6,0M493.1,294.52a1.3,1.3 0 1,0 2.6,0a1.3,1.3 0 1,0 -2.6,0M495.4,293.24a1.3,1.3 0 1,0 2.6,0a1.3,1.3 0 1,0 -2.6,0M497.7,292.24a1.3,1.3 0 1,0 2.6,0a1.3,1.3 0 1,0 -2.6,0M500,290.48a1.3,1.3 0 1,0 2.6,0a1.3,1.3 0 1,0 -2.6,0M502.3,289.54a1.3,1.3 0 1,0 2.6,0a1.3,1.3 0 1,0 -2.6,0M504.6,287.83a1.3,1.3 0 1,0 2.6,0a1.3,1.3 0 1,0 -2.6,0M506.9,286.87a1.3,1.3 0 1,0 2.6,0a1.3,1.3 0 1,0 -2.6,0M509.2,285.56a1.3,1.3 0 1,0 2.6,0a1.3,1.3 0 1,0 -2.6,0M511.5,284.39a1.3,1.3 0 1,0 2.6,0a1.3,1.3 0 1,0 -2.6,0M513.8,283.01a1.3,1.3 0 1,0 2.6,0a1.3,1.3 0 1,0 -2.6,0M516.1,281.49a1.3,1.3 0 1,0 2.6,0a1.3,1.3 0 1,0 -2.6,0M518.4,279.99a1.3,1.3 0 1,0 2.6,0a1.3,1.3 0 1,0 -2.6,0M520.7,278.65a1.3,1.3 0 1,0 2.6,0a1.3,1.3 0 1,0 -2.6,0M523,277.56a1.3,1.3 0 1,0 2.6,0a1.3,1.3 0 1,0 -2.6,0M525.3,276.23a1.3,1.3 0 1,0 2.6,0a1.3,1.3 0 1,0 -2.6,0M527.6,274.66a1.3,1.3 0 1,0 2.6,0a1.3,1.3 0 1,0 -2.6,0M529.9,273.84a1.3,1.3 0 1,0 2.6,0a1.3,1.3 0 1,0 -2.6,0M532.2,272.29a1.3,1.3 0 1,0 2.6,0a1.3,1.3 0 1,0 -2.6,0M534.5,271.09a1.3,1.3 0 1,0 2.6,0a1.3,1.3 0 1,0 -2.6,0M536.8,269.48a1.3,1.3 0 1,0 2.6,0a1.3,1.3 0 1,0 -2.6,0M539.1,268.18a1.3,1.3 0 1,0 2.6,0a1.3,1.3 0 1,0 -2.6,0M541.4,266.73a1.3,1.3 0 1,0 2.6,0a1.3,1.3 0 1,0 -2.6,0M543.7,265.61a1.3,1.3 0 1,0 2.6,0a1.3,1.3 0 1,0 -2.6,0M546,264.25a1.3,1.3 0 1,0 2.6,0a1.3,1.3 0 1,0 -2.6,0M548.3,263.03a1.3,1.3 0 1,0 2.6,0a1.3,1.3 0 1,0 -2.6,0M550.6,261.68a1.3,1.3 0 1,0 2.6,0a1.3,1.3 0 1,0 -2.6,0M552.9,260.64a1.3,1.3 0 1,0 2.6,0a1.3,1.3 0 1,0 -2.6,0M555.2,259.36a1.3,1.3 0 1,0 2.6,0a1.3,1.3 0 1,0 -2.6,0M557.5,257.61a1.3,1.3 0 1,0 2.6,0a1.3,1.3 0 1,0 -2.6,0M559.8,256.43a1.3,1.3 0 1,0 2.6,0a1.3,1.3 0 1,0 -2.6,0M562.1,254.98a1.3,1.3 0 1,0 2.6,0a1.3,1.3 0 1,0 -2.6,0M564.4,253.96a1.3,1.3 0 1,0 2.6,0a1.3,1.3 0 1,0 -2.6,0M566.7,252.83a1.3,1.3 0 1,0 2.6,0a1.3,1.3 0 1,0 -2.6,0M569,251.05a1.3,1.3 0 1,0 2.6,0a1.3,1.3 0 1,0 -2.6,0M571.3,250.08a1.3,1.3 0 1,0 2.6,0a1.3,1.3 0 1,0 -2.6,0M573.6,248.48a1.3,1.3 0 1,0 2.6,0a1.3,1.3 0 1,0 -2.6,0M575.9,246.99a1.3,1.3 0 1,0 2.6,0a1.3,1.3 0 1,0 -2.6,0M578.2,246.13a1.3,1.3 0 1,0 2.6,0a1.3,1.3 0 1,0 -2.6,0M580.5,244.56a1.3,1.3 0 1,0 2.6,0a1.3,1.3 0 1,0 -2.6,0M582.8,243.14a1.3,1.3 0 1,0 2.6,0a1.3,1.3 0 1,0 -2.6,0M585.1,240.77a1.3,1.3 0 1,0 2.6,0a1.3,1.3 0 1,0 -2.6,0M586.7,240.03a1.3,1.3 0 1,0 2.6,0a1.3,1.3 0 1,0 -2.6,0M588.3,240.68a1.3,1.3 0 1,0 2.6,0a1.3,1.3 0 1,0 -2.6,0M589.9,240.81a1.3,1.3 0 1,0 2.6,0a1.3,1.3 0 1,0 -2.6,0M591.5,240.7a1.3,1.3 0 1,0 2.6,0a1.3,1.3 0 1,0 -2.6,0M593.1,241.32a1.3,1.3 0 1,0 2.6,0a1.3,1.3 0 1,0 -2.6,0M594.7,240.24a1.3,1.3 0 1,0 2.6,0a1.3,1.3 0 1,0 -2.6,0M596.3,239.54a1.3,1.3 0 1,0 2.6,0a1.3,1.3 0 1,0 -2.6,0M597.9,239.51a1.3,1.3 0 1,0 2.6,0a1.3,1.3 0 1,0 -2.6,0M599.5,239.58a1.3,1.3 0 1,0 2.6,0a1.3,1.3 0 1,0 -2.6,0M601.1,241.08a1.3,1.3 0 1,0 2.6,0a1.3,1.3 0 1,0 -2.6,0M602.7,240.5a1.3,1.3 0 1,0 2.6,0a1.3,1.3 0 1,0 -2.6,0M604.3,242.11a1.3,1.3 0 1,0 2.6,0a1.3,1.3 0 1,0 -2.6,0M605.9,241.02a1.3,1.3 0 1,0 2.6,0a1.3,1.3 0 1,0 -2.6,0" fill="#fff" stroke="#2ad42a" stroke-width="0.9"/>
<path d="M384.7,349.14a1.3,1.3 0 1,0 2.6,0a1.3,1.3 0 1,0 -2.6,0M387,348.05a1.3,1.3 0 1,0 2.6,0a1.3,1.3 0 1,0 -2.6,0M389.3,346.24a1.3,1.3 0 1,0 2.6,0a1.3,1.3 0 1,0 -2.6,0M391.6,344.95a1.3,1.3 0 1,0 2.6,0a1.3,1.3 0 1,0 -2.6,0M393.9,343.77a1.3,1.3 0 1,0 2.6,0a1.3,1.3 0 1,0 -2.6,0M396.2,342.65a1.3,1.3 0 1,0 2.6,0a1.3,1.3 0 1,0 -2.6,0M398.5,341.51a1.3,1.3 0 1,0 2.6,0a1.3,1.3 0 1,0 -2.6,0M400.8,340.35a1.3,1.3 0 1,0 2.6,0a1.3,1.3 0 1,0 -2.6,0M403.1,338.86a1.3,1.3 0 1,0 2.6,0a1.3,1.3 0 1,0 -2.6,0M405.4,337.96a1.3,1.3 0 1,0 2.6,0a1.3,1.3 0 1,0 -2.6,0M407.7,336.13a1.3,1.3 0 1,0 2.6,0a1.3,1.3 0 1,0 -2.6,0M410,335.37a1.3,1.3 0 1,0 2.6,0a1.3,1.3 0 1,0 -2.6,0M412.3,333.73a1.3,1.3 0 1,0 2.6,0a1.3,1.3 0 1,0 -2.6,0M414.6,332.87a1.3,1.3 0 1,0 2.6,0a1.3,1.3 0 1,0 -2.6,0M416.9,331.11a1.3,1.3 0 1,0 2.6,0a1.3,1.3 0 1,0 -2.6,0M419.2,330.41a1.3,1.3 0 1,0 2.6,0a1.3,1.3 0 1,0 -2.6,0M421.5,329.03a1.3,1.3 0 1,0 2.6,0a1.3,1.3 0 1,0 -2.6,0M423.8,327.91a1.3,1.3 0 1,0 2.6,0a1.3,1.3 0 1,0 -2.6,0M426.1,326.4a1.3,1.3 0 1,0 2.6,0a1.3,1.3 0 1,0 -2.6,0M428.4,324.9a1.3,1.3 0 1,0 2.6,0a1.3,1.3 0 1,0 -2.6,0M430.7,324.12a1.3,1.3 0 1,0 2.6,0a1.3,1.3 0 1,0 -2.6,0M433,322.54a1.3,1.3 0 1,0 2.6,0a1.3,1.3 0 1,0 -2.6,0M435.3,321.07a1.3,1.3 0 1,0 2.6,0a1.3,1.3 0 1,0 -2.6,0M437.6,320.12a1.3,1.3 0 1,0 2.6,0a1.3,1.3 0 1,0 -2.6,0M439.9,318.79a1.3,1.3 0 1,0 2.6,0a1.3,1.3 0 1,0 -2.6,0M442.2,317.52a1.3,1.3 0 1,0 2.6,0a1.3,1.3 0 1,0 -2.6,0M444.5,316.07a1.3,1.3 0 1,0 2.6,0a1.3,1.3 0 1,0 -2.6,0M446.8,314.79a1.3,1.3 0 1,0 2.6,0a1.3,1.3 0 1,0 -2.6,0M449.1,313.81a1.3,1.3 0 1,0 2.6,0a1.3,1.3 0 1,0 -2.6,0M451.4,312.47a1.3,1.3 0 1,0 2.6,0a1.3,1.3 0 1,0 -2.6,0M453.7,311.02a1.3,1.3 0 1,0 2.6,0a1.3,1.3 0 1,0 -2.6,0M456,309.95a1.3,1.3 0 1,0 2.6,0a1.3,1.3 0 1,0 -2.6,0M458.3,308.86a1.3,1.3 0 1,0 2.6,0a1.3,1.3 0 1,0 -2.6,0M460.6,307.59a1.3,1.3 0 1,0 2.6,0a1.3,1.3 0 1,0 -2.6,0M462.9,306.19a1.3,1.3 0 1,0 2.6,0a1.3,1.3 0 1,0 -2.6,0M465.2,304.88a1.3,1.3 0 1,0 2.6,0a1.3,1.3 0 1,0 -2.6,0M467.5,303.6a1.3,1.3 0 1,0 2.6,0a1.3,1.3 0 1,0 -2.6,0M469.8,302.26a1.3,1.3 0 1,0 2.6,0a1.3,1.3 0 1,0 -2.6,0M472.1,300.99a1.3,1.3 0 1,0 2.6,0a1.3,1.3 0 1,0 -2.6,0M474.4,299.88a1.3,1.3 0 1,0 2.6,0a1.3,1.3 0 1,0 -2.6,0M476.7,298.41a1.3,1.3 0 1,0 2.6,0a1.3,1.3 0 1,0 -2.6,0M479,297.52a1.3,1.3 0 1,0 2.6,0a1.3,1.3 0 1,0 -2.6,0M481.3,296.25a1.3,1.3 0 1,0 2.6,0a1.3,1.3 0 1,0 -2.6,0M483.6,294.94a1.3,1.3 0 1,0 2.6,0a1.3,1.3 0 1,0 -2.6,0M485.9,293.33a1.3,1.3 0 1,0 2.6,0a1.3,1.3 0 1,0 -2.6,0M488.2,292.27a1.3,1.3 0 1,0 2.6,0a1.3,1.3 0 1,0 -2.6,0M490.5,291.05a1.3,1.3 0 1,0 2.6,0a1.3,1.3 0 1,0 -2.6,0M492.8,289.59a1.3,1.3 0 1,0 2.6,0a1.3,1.3 0 1,0 -2.6,0M495.1,288.86a1.3,1.3 0 1,0 2.6,0a1.3,1.3 0 1,0 -2.6,0M497.4,287.47a1.3,1.3 0 1,0 2.6,0a1.3,1.3 0 1,0 -2.6,0M499.7,286.06a1.3,1.3 0 1,0 2.6,0a1.3,1.3 0 1,0 -2.6,0M502,284.92a1.3,1.3 0 1,0 2.6,0a1.3,1.3 0 1,0 -2.6,0M504.3,283.36a1.3,1.3 0 1,0 2.6,0a1.3,1.3 0 1,0 -2.6,0M506.6,282.12a1.3,1.3 0 1,0 2.6,0a1.3,1.3 0 1,0 -2.6,0M508.9,281.03a1.3,1.3 0 1,0 2.6,0a1.3,1.3 0 1,0 -2.6,0M511.2,279.91a1.3,1.3 0 1,0 2.6,0a1.3,1.3 0 1,0 -2.6,0M513.5,278.59a1.3,1.3 0 1,0 2.6,0a1.3,1.3 0 1,0 -2.6,0M515.8,276.95a1.3,1.3 0 1,0 2.6,0a1.3,1.3 0 1,0 -2.6,0M518.1,276.05a1.3,1.3 0 1,0 2.6,0a1.3,1.3 0 1,0 -2.6,0M520.4,274.97a1.3,1.3 0 1,0 2.6,0a1.3,1.3 0 1,0 -2.6,0M522.7,273.61a1.3,1.3 0 1,0 2.6,0a1.3,1.3 0 1,0 -2.6,0M525,272.46a1.3,1.3 0 1,0 2.6,0a1.3,1.3 0 1,0 -2.6,0M527.3,271.23a1.3,1.3 0 1,0 2.6,0a1.3,1.3 0 1,0 -2.6,0M529.6,269.52a1.3,1.3 0 1,0 2.6,0a1.3,1.3 0 1,0 -2.6,0M531.9,268.3a1.3,1.3 0 1,0 2.6,0a1.3,1.3 0 1,0 -2.6,0M534.2,267.2a1.3,1.3 0 1,0 2.6,0a1.3,1.3 0 1,0 -2.6,0M536.5,266.19a1.3,1.3 0 1,0 2.6,0a1.3,1.3 0 1,0 -2.6,0M538.8,264.57a1.3,1.3 0 1,0 2.6,0a1.3,1.3 0 1,0 -2.6,0M541.1,263.65a1.3,1.3 0 1,0 2.6,0a1.3,1.3 0 1,0 -2.6,0M543.4,262.34a1.3,1.3 0 1,0 2.6,0a1.3,1.3 0 1,0 -2.6,0M545.7,260.88a1.3,1.3 0 1,0 2.6,0a1.3,1.3 0 1,0 -2.6,0M548,259.69a1.3,1.3 0 1,0 2.6,0a1.3,1.3 0 1,0 -2.6,0M550.3,258.63a1.3,1.3 0 1,0 2.6,0a1.3,1.3 0 1,0 -2.6,0M552.6,257.26a1.3,1.3 0 1,0 2.6,0a1.3,1.3 0 1,0 -2.6,0M554.9,255.71a1.3,1.3 0 1,0 2.6,0a1.3,1.3 0 1,0 -2.6,0M557.2,254.78a1.3,1.3 0 1,0 2.6,0a1.3,1.3 0 1,0 -2.6,0M559.5,253.13a1.3,1.3 0 1,0 2.6,0a1.3,1.3 0 1,0 -2.6,0M561.8,251.98a1.3,1.3 0 1,0 2.6,0a1.3,1.3 0 1,0 -2.6,0M564.1,251.07a1.3,1.3 0 1,0 2.6,0a1.3,1.3 0 1,0 -2.6,0M566.4,249.75a1.3,1.3 0 1,0 2.6,0a1.3,1.3 0 1,0 -2.6,0M568.7,248.17a1.3,1.3 0 1,0 2.6,0a1.3,1.3 0 1,0 -2.6,0M571,246.89a1.3,1.3 0 1,0 2.6,0a1.3,1.3 0 1,0 -2.6,0M573.3,245.83a1.3,1.3 0 1,0 2.6,0a1.3,1.3 0 1,0 -2.6,0M575.6,244.71a1.3,1.3 0 1,0 2.6,0a1.3,1.3 0 1,0 -2.6,0M577.9,243.35a1.3,1.3 0 1,0 2.6,0a1.3,1.3 0 1,0 -2.6,0M580.2,242.24a1.3,1.3 0 1,0 2.6,0a1.3,1.3 0 1,0 -2.6,0M582.5,247.32a1.3,1.3 0 1,0 2.6,0a1.3,1.3 0 1,0 -2.6,0M584.1,247.66a1.3,1.3 0 1,0 2.6,0a1.3,1.3 0 1,0 -2.6,0M585.7,246.88a1.3,1.3 0 1,0 2.6,0a1.3,1.3 0 1,0 -2.6,0M587.3,246a1.3,1.3 0 1,0 2.6,0a1.3,1.3 0 1,0 -2.6,0M588.9,246.24a1.3,1.3 0 1,0 2.6,0a1.3,1.3 0 1,0 -2.6,0M590.5,246.46a1.3,1.3 0 1,0 2.6,0a1.3,1.3 0 1,0 -2.6,0M592.1,246.6a1.3,1.3 0 1,0 2.6,0a1.3,1.3 0 1,0 -2.6,0M593.7,247.72a1.3,1.3 0 1,0 2.6,0a1.3,1.3 0 1,0 -2.6,0M595.3,245.67a1.3,1.3 0 1,0 2.6,0a1.3,1.3 0 1,0 -2.6,0M596.9,244.95a1.3,1.3 0 1,0 2.6,0a1.3,1.3 0 1,0 -2.6,0M598.5,247.34a1.3,1.3 0 1,0 2.6,0a1.3,1.3 0 1,0 -2.6,0M600.1,245.68a1.3,1.3 0 1,0 2.6,0a1.3,1.3 0 1,0 -2.6,0M601.7,246.21a1.3,1.3 0 1,0 2.6,0a1.3,1.3 0 1,0 -2.6,0M603.3,245.12a1.3,1.3 0 1,0 2.6,0a1.3,1.3 0 1,0 -2.6,0M604.9,247.69a1.3,1.3 0 1,0 2.6,0a1.3,1.3 0 1,0 -2.6,0M606.5,245.69a1.3,1.3 0 1,0 2.6,0a1.3,1.3 0 1,0 -2.6,0" fill="#fff" stroke="#ff3030" stroke-width="0.9"/>
</g>
<rect x="350.6" y="225.8" width="257.2" height="187.3" fill="none" stroke="#2a2a2a" stroke-width="1.2"/>
<line x1="385.59" y1="413.1" x2="385.59" y2="411.1" stroke="#2a2a2a" stroke-width="1" />
<line x1="385.59" y1="225.8" x2="385.59" y2="227.8" stroke="#2a2a2a" stroke-width="1" />
<line x1="418.88" y1="413.1" x2="418.88" y2="411.1" stroke="#2a2a2a" stroke-width="1" />
<line x1="418.88" y1="225.8" x2="418.88" y2="227.8" stroke="#2a2a2a" stroke-width="1" />
<line x1="442.49" y1="413.1" x2="442.49" y2="411.1" stroke="#2a2a2a" stroke-width="1" />
<line x1="442.49" y1="225.8" x2="442.49" y2="227.8" stroke="#2a2a2a" stroke-width="1" />
<line x1="460.81" y1="413.1" x2="460.81" y2="411.1" stroke="#2a2a2a" stroke-width="1" />
<line x1="460.81" y1="225.8" x2="460.81" y2="227.8" stroke="#2a2a2a" stroke-width="1" />
<line x1="475.77" y1="413.1" x2="475.77" y2="411.1" stroke="#2a2a2a" stroke-width="1" />
<line x1="475.77" y1="225.8" x2="475.77" y2="227.8" stroke="#2a2a2a" stroke-width="1" />
<line x1="488.42" y1="413.1" x2="488.42" y2="411.1" stroke="#2a2a2a" stroke-width="1" />
<line x1="488.42" y1="225.8" x2="488.42" y2="227.8" stroke="#2a2a2a" stroke-width="1" />
<line x1="499.38" y1="413.1" x2="499.38" y2="411.1" stroke="#2a2a2a" stroke-width="1" />
<line x1="499.38" y1="225.8" x2="499.38" y2="227.8" stroke="#2a2a2a" stroke-width="1" />
<line x1="509.05" y1="413.1" x2="509.05" y2="411.1" stroke="#2a2a2a" stroke-width="1" />
<line x1="509.05" y1="225.8" x2="509.05" y2="227.8" stroke="#2a2a2a" stroke-width="1" />
<line x1="574.59" y1="413.1" x2="574.59" y2="411.1" stroke="#2a2a2a" stroke-width="1" />
<line x1="574.59" y1="225.8" x2="574.59" y2="227.8" stroke="#2a2a2a" stroke-width="1" />
<line x1="517.7" y1="413.1" x2="517.7" y2="409.9" stroke="#2a2a2a" stroke-width="1" />
<line x1="517.7" y1="225.8" x2="517.7" y2="229" stroke="#2a2a2a" stroke-width="1" />
<line x1="350.6" y1="379.3" x2="353.8" y2="379.3" stroke="#2a2a2a" stroke-width="1" />
<line x1="607.8" y1="379.3" x2="604.6" y2="379.3" stroke="#2a2a2a" stroke-width="1" />
<line x1="350.6" y1="330.9" x2="353.8" y2="330.9" stroke="#2a2a2a" stroke-width="1" />
<line x1="607.8" y1="330.9" x2="604.6" y2="330.9" stroke="#2a2a2a" stroke-width="1" />
<line x1="350.6" y1="282.5" x2="353.8" y2="282.5" stroke="#2a2a2a" stroke-width="1" />
<line x1="607.8" y1="282.5" x2="604.6" y2="282.5" stroke="#2a2a2a" stroke-width="1" />
<line x1="350.6" y1="234.1" x2="353.8" y2="234.1" stroke="#2a2a2a" stroke-width="1" />
<line x1="607.8" y1="234.1" x2="604.6" y2="234.1" stroke="#2a2a2a" stroke-width="1" />
<line x1="350.6" y1="404.61" x2="352.6" y2="404.61" stroke="#2a2a2a" stroke-width="1" />
<line x1="607.8" y1="404.61" x2="605.8" y2="404.61" stroke="#2a2a2a" stroke-width="1" />
<line x1="350.6" y1="398.56" x2="352.6" y2="398.56" stroke="#2a2a2a" stroke-width="1" />
<line x1="607.8" y1="398.56" x2="605.8" y2="398.56" stroke="#2a2a2a" stroke-width="1" />
<line x1="350.6" y1="393.87" x2="352.6" y2="393.87" stroke="#2a2a2a" stroke-width="1" />
<line x1="607.8" y1="393.87" x2="605.8" y2="393.87" stroke="#2a2a2a" stroke-width="1" />
<line x1="350.6" y1="390.04" x2="352.6" y2="390.04" stroke="#2a2a2a" stroke-width="1" />
<line x1="607.8" y1="390.04" x2="605.8" y2="390.04" stroke="#2a2a2a" stroke-width="1" />
<line x1="350.6" y1="386.8" x2="352.6" y2="386.8" stroke="#2a2a2a" stroke-width="1" />
<line x1="607.8" y1="386.8" x2="605.8" y2="386.8" stroke="#2a2a2a" stroke-width="1" />
<line x1="350.6" y1="383.99" x2="352.6" y2="383.99" stroke="#2a2a2a" stroke-width="1" />
<line x1="607.8" y1="383.99" x2="605.8" y2="383.99" stroke="#2a2a2a" stroke-width="1" />
<line x1="350.6" y1="381.51" x2="352.6" y2="381.51" stroke="#2a2a2a" stroke-width="1" />
<line x1="607.8" y1="381.51" x2="605.8" y2="381.51" stroke="#2a2a2a" stroke-width="1" />
<line x1="350.6" y1="364.73" x2="352.6" y2="364.73" stroke="#2a2a2a" stroke-width="1" />
<line x1="607.8" y1="364.73" x2="605.8" y2="364.73" stroke="#2a2a2a" stroke-width="1" />
<line x1="350.6" y1="356.21" x2="352.6" y2="356.21" stroke="#2a2a2a" stroke-width="1" />
<line x1="607.8" y1="356.21" x2="605.8" y2="356.21" stroke="#2a2a2a" stroke-width="1" />
<line x1="350.6" y1="350.16" x2="352.6" y2="350.16" stroke="#2a2a2a" stroke-width="1" />
<line x1="607.8" y1="350.16" x2="605.8" y2="350.16" stroke="#2a2a2a" stroke-width="1" />
<line x1="350.6" y1="345.47" x2="352.6" y2="345.47" stroke="#2a2a2a" stroke-width="1" />
<line x1="607.8" y1="345.47" x2="605.8" y2="345.47" stroke="#2a2a2a" stroke-width="1" />
<line x1="350.6" y1="341.64" x2="352.6" y2="341.64" stroke="#2a2a2a" stroke-width="1" />
<line x1="607.8" y1="341.64" x2="605.8" y2="341.64" stroke="#2a2a2a" stroke-width="1" />
<line x1="350.6" y1="338.4" x2="352.6" y2="338.4" stroke="#2a2a2a" stroke-width="1" />
<line x1="607.8" y1="338.4" x2="605.8" y2="338.4" stroke="#2a2a2a" stroke-width="1" />
<line x1="350.6" y1="335.59" x2="352.6" y2="335.59" stroke="#2a2a2a" stroke-width="1" />
<line x1="607.8" y1="335.59" x2="605.8" y2="335.59" stroke="#2a2a2a" stroke-width="1" />
<line x1="350.6" y1="333.11" x2="352.6" y2="333.11" stroke="#2a2a2a" stroke-width="1" />
<line x1="607.8" y1="333.11" x2="605.8" y2="333.11" stroke="#2a2a2a" stroke-width="1" />
<line x1="350.6" y1="316.33" x2="352.6" y2="316.33" stroke="#2a2a2a" stroke-width="1" />
<line x1="607.8" y1="316.33" x2="605.8" y2="316.33" stroke="#2a2a2a" stroke-width="1" />
<line x1="350.6" y1="307.81" x2="352.6" y2="307.81" stroke="#2a2a2a" stroke-width="1" />
<line x1="607.8" y1="307.81" x2="605.8" y2="307.81" stroke="#2a2a2a" stroke-width="1" />
<line x1="350.6" y1="301.76" x2="352.6" y2="301.76" stroke="#2a2a2a" stroke-width="1" />
<line x1="607.8" y1="301.76" x2="605.8" y2="301.76" stroke="#2a2a2a" stroke-width="1" />
<line x1="350.6" y1="297.07" x2="352.6" y2="297.07" stroke="#2a2a2a" stroke-width="1" />
<line x1="607.8" y1="297.07" x2="605.8" y2="297.07" stroke="#2a2a2a" stroke-width="1" />
<line x1="350.6" y1="293.24" x2="352.6" y2="293.24" stroke="#2a2a2a" stroke-width="1" />
<line x1="607.8" y1="293.24" x2="605.8" y2="293.24" stroke="#2a2a2a" stroke-width="1" />
<line x1="350.6" y1="290" x2="352.6" y2="290" stroke="#2a2a2a" stroke-width="1" />
<line x1="607.8" y1="290" x2="605.8" y2="290" stroke="#2a2a2a" stroke-width="1" />
<line x1="350.6" y1="287.19" x2="352.6" y2="287.19" stroke="#2a2a2a" stroke-width="1" />
<line x1="607.8" y1="287.19" x2="605.8" y2="287.19" stroke="#2a2a2a" stroke-width="1" />
<line x1="350.6" y1="284.71" x2="352.6" y2="284.71" stroke="#2a2a2a" stroke-width="1" />
<line x1="607.8" y1="284.71" x2="605.8" y2="284.71" stroke="#2a2a2a" stroke-width="1" />
<line x1="350.6" y1="267.93" x2="352.6" y2="267.93" stroke="#2a2a2a" stroke-width="1" />
<line x1="607.8" y1="267.93" x2="605.8" y2="267.93" stroke="#2a2a2a" stroke-width="1" />
<line x1="350.6" y1="259.41" x2="352.6" y2="259.41" stroke="#2a2a2a" stroke-width="1" />
<line x1="607.8" y1="259.41" x2="605.8" y2="259.41" stroke="#2a2a2a" stroke-width="1" />
<line x1="350.6" y1="253.36" x2="352.6" y2="253.36" stroke="#2a2a2a" stroke-width="1" />
<line x1="607.8" y1="253.36" x2="605.8" y2="253.36" stroke="#2a2a2a" stroke-width="1" />
<line x1="350.6" y1="248.67" x2="352.6" y2="248.67" stroke="#2a2a2a" stroke-width="1" />
<line x1="607.8" y1="248.67" x2="605.8" y2="248.67" stroke="#2a2a2a" stroke-width="1" />
<line x1="350.6" y1="244.84" x2="352.6" y2="244.84" stroke="#2a2a2a" stroke-width="1" />
<line x1="607.8" y1="244.84" x2="605.8" y2="244.84" stroke="#2a2a2a" stroke-width="1" />
<line x1="350.6" y1="241.6" x2="352.6" y2="241.6" stroke="#2a2a2a" stroke-width="1" />
<line x1="607.8" y1="241.6" x2="605.8" y2="241.6" stroke="#2a2a2a" stroke-width="1" />
<line x1="350.6" y1="238.79" x2="352.6" y2="238.79" stroke="#2a2a2a" stroke-width="1" />
<line x1="607.8" y1="238.79" x2="605.8" y2="238.79" stroke="#2a2a2a" stroke-width="1" />
<line x1="350.6" y1="236.31" x2="352.6" y2="236.31" stroke="#2a2a2a" stroke-width="1" />
<line x1="607.8" y1="236.31" x2="605.8" y2="236.31" stroke="#2a2a2a" stroke-width="1" />
<text transform="translate(517.7,427) scale(1,1.07)" font-size="12" text-anchor="middle" fill="#111" stroke="#111">10</text>
<text transform="translate(346.5,238.2) scale(1,1.07)" font-size="12" text-anchor="end" fill="#111" stroke="#111">10</text>
<text transform="translate(346.5,286.6) scale(1,1.07)" font-size="12" text-anchor="end" fill="#111" stroke="#111">1</text>
<text transform="translate(346.5,335) scale(1,1.07)" font-size="12" text-anchor="end" fill="#111" stroke="#111">0.1</text>
<text transform="translate(346.5,383.4) scale(1,1.07)" font-size="12" text-anchor="end" fill="#111" stroke="#111">0.01</text>
<text transform="translate(320.2,318.8) rotate(-90)" font-size="15.5" text-anchor="middle" fill="#111" stroke="#111"><tspan font-style="italic">C</tspan><tspan font-style="italic" font-size="10" dy="3">m</tspan><tspan dy="-3"> (J/K/mol)</tspan></text>
<text x="479.4" y="441.8" font-size="15" text-anchor="middle" fill="#111" stroke="#111" ><tspan font-style="italic">T</tspan><tspan dx="-0.6"> (K)</tspan></text>
<text x="357.5" y="246.8" font-size="17.5" text-anchor="start" fill="#111" stroke="#111" letter-spacing="0.8">(d)</text>
<text x="399" y="286.4" font-size="14.1" text-anchor="start" fill="#ff1a1a" stroke="#ff1a1a" ><tspan font-style="italic">C</tspan><tspan font-style="italic" font-size="10" dy="3">m</tspan><tspan dy="-3">(D) ~ </tspan><tspan font-style="italic">T</tspan><tspan font-size="9.6" dx="2" dy="-6">2.151(2)</tspan></text>
<text x="359" y="311.7" font-size="14.1" text-anchor="start" fill="#1fcc1f" stroke="#1fcc1f" ><tspan font-style="italic">C</tspan><tspan font-style="italic" font-size="10" dy="3">m</tspan><tspan dy="-3">(H) ~ </tspan><tspan font-style="italic">T</tspan><tspan font-size="9.6" dx="2" dy="-6">2.28(1)</tspan></text>
<text x="433.2" y="365.6" font-size="13" text-anchor="start" fill="#8f2cff" stroke="#8f2cff" >CuCrO<tspan font-size="9" dy="3">2</tspan></text>
<text x="413.9" y="384.3" font-size="13.3" text-anchor="start" fill="#8f2cff" stroke="#8f2cff" >Okuda <tspan font-style="italic">et al</tspan></text>
<text x="383.3" y="404.5" font-size="13.3" text-anchor="start" fill="#8f2cff" stroke="#8f2cff" ><tspan font-style="italic">C</tspan><tspan font-style="italic" font-size="10" dy="3">m</tspan><tspan dy="-3">(Cu) ~ </tspan><tspan font-style="italic">T</tspan><tspan font-size="9.6" dx="1.5" dy="-6">3</tspan></text>
<path d="M506.5,315.51L508.59,319.12H504.41Z" fill="#fff" stroke="#22cc22" stroke-width="0.85"/>
<text transform="translate(524.3,322.2) scale(1.12,1)" font-family="Liberation Serif, serif" font-style="italic" font-size="11.9" fill="#111" stroke="#111">α</text>
<text x="531.74" y="322.2" font-size="11.9" fill="#111" stroke="#111" >-CrOOH, 4 T</text>
<path d="M504.6,332.2h3.8v3.8h-3.8Z" fill="#fff" stroke="#22cc22" stroke-width="0.85"/>
<text transform="translate(524.3,338.7) scale(1.12,1)" font-family="Liberation Serif, serif" font-style="italic" font-size="11.9" fill="#111" stroke="#111">α</text>
<text x="531.74" y="338.7" font-size="11.9" fill="#111" stroke="#111" >-CrOOH, 2 T</text>
<path d="M504.6,350.6a1.9,1.9 0 1,0 3.8,0a1.9,1.9 0 1,0 -3.8,0" fill="#fff" stroke="#22cc22" stroke-width="0.85"/>
<text transform="translate(524.3,355.2) scale(1.12,1)" font-family="Liberation Serif, serif" font-style="italic" font-size="11.9" fill="#111" stroke="#111">α</text>
<text x="531.74" y="355.2" font-size="11.9" fill="#111" stroke="#111" >-CrOOH, 0 T</text>
<path d="M506.5,365.01L508.59,368.62H504.41Z" fill="#fff" stroke="#ff2a2a" stroke-width="0.85"/>
<text transform="translate(524.3,371.7) scale(1.12,1)" font-family="Liberation Serif, serif" font-style="italic" font-size="11.9" fill="#111" stroke="#111">α</text>
<text x="531.74" y="371.7" font-size="11.9" fill="#111" stroke="#111" >-CrOOD, 4 T</text>
<path d="M504.6,381.7h3.8v3.8h-3.8Z" fill="#fff" stroke="#ff2a2a" stroke-width="0.85"/>
<text transform="translate(524.3,388.2) scale(1.12,1)" font-family="Liberation Serif, serif" font-style="italic" font-size="11.9" fill="#111" stroke="#111">α</text>
<text x="531.74" y="388.2" font-size="11.9" fill="#111" stroke="#111" >-CrOOD, 2 T</text>
<path d="M504.6,400.1a1.9,1.9 0 1,0 3.8,0a1.9,1.9 0 1,0 -3.8,0" fill="#fff" stroke="#ff2a2a" stroke-width="0.85"/>
<text transform="translate(524.3,404.7) scale(1.12,1)" font-family="Liberation Serif, serif" font-style="italic" font-size="11.9" fill="#111" stroke="#111">α</text>
<text x="531.74" y="404.7" font-size="11.9" fill="#111" stroke="#111" >-CrOOD, 0 T</text>
</svg></body></html>
